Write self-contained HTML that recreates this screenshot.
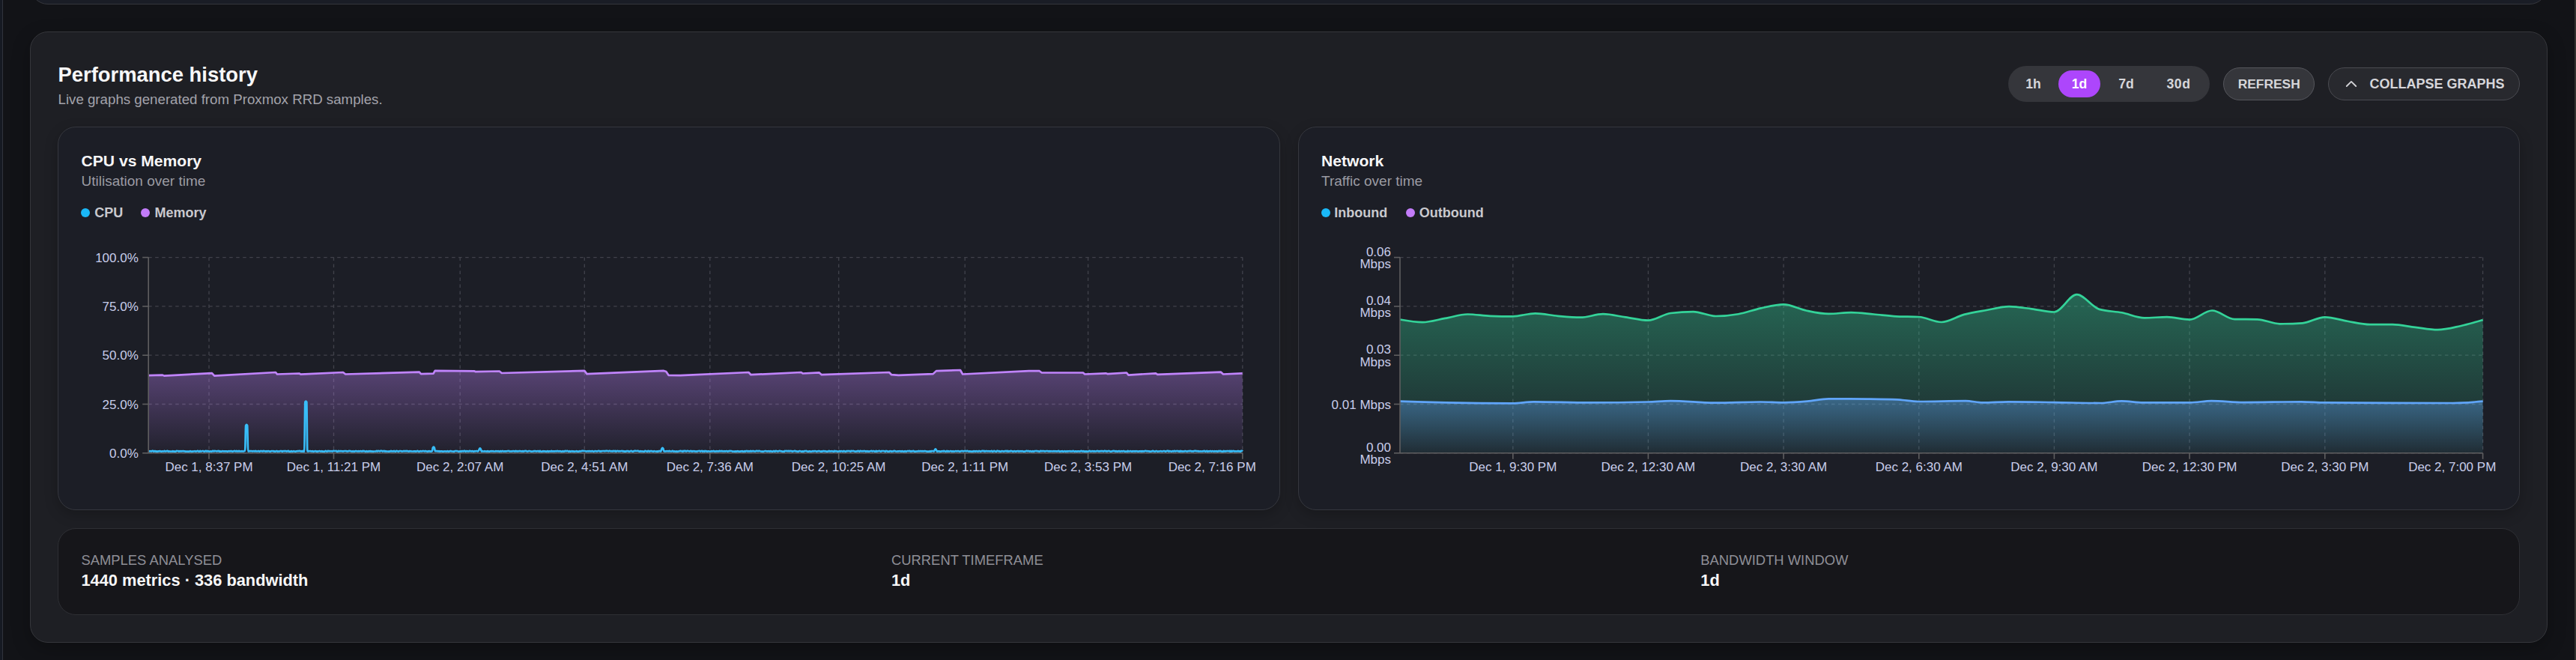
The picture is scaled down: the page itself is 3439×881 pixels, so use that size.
<!DOCTYPE html><html><head><meta charset="utf-8"><style>
html,body{margin:0;padding:0;}
body{width:3439px;height:881px;overflow:hidden;position:relative;background:#121317;font-family:"Liberation Sans", sans-serif;}
</style></head><body>
<div style="position:absolute;left:0;top:0;width:2.9px;height:881px;background:#161a23"></div>
<div style="position:absolute;left:2.9px;top:0;width:1.3px;height:881px;background:#30333c"></div>
<div style="position:absolute;left:3436.8px;top:0;width:3px;height:881px;background:#32312f"></div>
<div style="position:absolute;left:40.00px;top:-60.00px;width:3361.00px;height:66.20px;box-sizing:border-box;background:#1a1d26;border:1.5px solid #35363c;border-radius:24px;"></div>
<div style="position:absolute;left:40.00px;top:41.80px;width:3361.00px;height:815.80px;box-sizing:border-box;background:#1e1f24;border:1.5px solid #35363b;border-radius:24px;box-shadow:0 8px 24px rgba(0,0,0,0.25);"></div>
<div style="position:absolute;left:77.50px;top:86.21px;font-size:27.4px;line-height:1;font-weight:700;color:#f7f7f8;white-space:pre;">Performance history</div>
<div style="position:absolute;left:77.50px;top:124.27px;font-size:18.7px;line-height:1;font-weight:400;color:#a3a3ab;white-space:pre;">Live graphs generated from Proxmox RRD samples.</div>
<div style="position:absolute;left:2681.00px;top:88.00px;width:269.00px;height:48.00px;box-sizing:border-box;background:#35363b;border:0px solid #35363b;border-radius:24px;"></div>
<div style="position:absolute;left:2747.70px;top:93.80px;width:56.30px;height:36.10px;box-sizing:border-box;background:#ad46fc;border:0px solid #ad46fc;border-radius:18px;"></div>
<div style="position:absolute;left:2714.50px;transform:translateX(-50%);top:104.20px;font-size:17.6px;line-height:1;font-weight:700;color:#d6d6da;white-space:pre;">1h</div>
<div style="position:absolute;left:2776.00px;transform:translateX(-50%);top:104.20px;font-size:17.6px;line-height:1;font-weight:700;color:#ffffff;white-space:pre;">1d</div>
<div style="position:absolute;left:2838.50px;transform:translateX(-50%);top:104.20px;font-size:17.6px;line-height:1;font-weight:700;color:#d6d6da;white-space:pre;">7d</div>
<div style="position:absolute;left:2908.50px;transform:translateX(-50%);top:104.20px;font-size:17.6px;line-height:1;font-weight:700;color:#d6d6da;white-space:pre;letter-spacing:0.6px;">30d</div>
<div style="position:absolute;left:2967.80px;top:90.10px;width:122.20px;height:43.70px;box-sizing:border-box;background:#35363b;border:1.5px solid #55565c;border-radius:22px;"></div>
<div style="position:absolute;left:3029.20px;transform:translateX(-50%);top:103.87px;font-size:17.4px;line-height:1;font-weight:700;color:#d6d6da;white-space:pre;">REFRESH</div>
<div style="position:absolute;left:3108.00px;top:90.10px;width:256.00px;height:43.70px;box-sizing:border-box;background:#28292e;border:1.5px solid #4a4b51;border-radius:22px;"></div>
<svg style="position:absolute;left:0;top:0" width="3439" height="881"><path d="M3132.8,115.0 L3139,108.9 L3145.2,115.0" fill="none" stroke="#d2d2d6" stroke-width="1.9" stroke-linecap="round" stroke-linejoin="round"/></svg>
<div style="position:absolute;left:3163.50px;top:103.06px;font-size:18.0px;line-height:1;font-weight:700;color:#d6d6da;white-space:pre;">COLLAPSE GRAPHS</div>
<div style="position:absolute;left:77.20px;top:168.80px;width:1631.70px;height:512.30px;box-sizing:border-box;background:#1c1e26;border:1.5px solid #35373e;border-radius:24px;box-shadow:0 6px 18px rgba(0,0,0,0.22);"></div>
<div style="position:absolute;left:1733.20px;top:168.80px;width:1631.20px;height:512.30px;box-sizing:border-box;background:#1c1e26;border:1.5px solid #35373e;border-radius:24px;box-shadow:0 6px 18px rgba(0,0,0,0.22);"></div>
<div style="position:absolute;left:108.50px;top:204.14px;font-size:21.1px;line-height:1;font-weight:700;color:#f7f7f8;white-space:pre;">CPU vs Memory</div>
<div style="position:absolute;left:108.50px;top:232.12px;font-size:19.0px;line-height:1;font-weight:400;color:#9b9ba3;white-space:pre;">Utilisation over time</div>
<div style="position:absolute;left:107.85px;top:277.95px;width:12.3px;height:12.3px;border-radius:50%;background:#1ab8f7"></div>
<div style="position:absolute;left:126.30px;top:275.46px;font-size:18.0px;line-height:1;font-weight:700;color:#c9c9ce;white-space:pre;">CPU</div>
<div style="position:absolute;left:187.85px;top:277.95px;width:12.3px;height:12.3px;border-radius:50%;background:#c27cf9"></div>
<div style="position:absolute;left:206.50px;top:275.46px;font-size:18.0px;line-height:1;font-weight:700;color:#c9c9ce;white-space:pre;">Memory</div>
<div style="position:absolute;left:1764.00px;top:204.14px;font-size:21.1px;line-height:1;font-weight:700;color:#f7f7f8;white-space:pre;">Network</div>
<div style="position:absolute;left:1764.00px;top:232.12px;font-size:19.0px;line-height:1;font-weight:400;color:#9b9ba3;white-space:pre;">Traffic over time</div>
<div style="position:absolute;left:1763.85px;top:277.95px;width:12.3px;height:12.3px;border-radius:50%;background:#1ab8f7"></div>
<div style="position:absolute;left:1781.30px;top:275.46px;font-size:18.0px;line-height:1;font-weight:700;color:#c9c9ce;white-space:pre;">Inbound</div>
<div style="position:absolute;left:1876.55px;top:277.95px;width:12.3px;height:12.3px;border-radius:50%;background:#c27cf9"></div>
<div style="position:absolute;left:1894.80px;top:275.46px;font-size:18.0px;line-height:1;font-weight:700;color:#c9c9ce;white-space:pre;">Outbound</div>
<svg style="position:absolute;left:0;top:0" width="3439" height="881" font-family='"Liberation Sans", sans-serif'>
<defs>
<linearGradient id="gMem" x1="0" y1="0" x2="0" y2="1"><stop offset="0" stop-color="#c084fc" stop-opacity="0.36"/><stop offset="1" stop-color="#c084fc" stop-opacity="0.03"/></linearGradient>
<linearGradient id="gCpu" x1="0" y1="0" x2="0" y2="1"><stop offset="0" stop-color="#38bdf8" stop-opacity="0.3"/><stop offset="1" stop-color="#38bdf8" stop-opacity="0.02"/></linearGradient>
<linearGradient id="gOut" x1="0" y1="0" x2="0" y2="1"><stop offset="0" stop-color="#34d399" stop-opacity="0.40"/><stop offset="1" stop-color="#34d399" stop-opacity="0.05"/></linearGradient>
<linearGradient id="gIn" x1="0" y1="0" x2="0" y2="1"><stop offset="0" stop-color="#60a5fa" stop-opacity="0.40"/><stop offset="1" stop-color="#60a5fa" stop-opacity="0.04"/></linearGradient>
</defs>
<line x1="198.2" y1="604.80" x2="1659.0" y2="604.80" stroke="#41424b" stroke-width="1.33" stroke-dasharray="4.5 4.5"/>
<line x1="198.2" y1="539.50" x2="1659.0" y2="539.50" stroke="#41424b" stroke-width="1.33" stroke-dasharray="4.5 4.5"/>
<line x1="198.2" y1="474.20" x2="1659.0" y2="474.20" stroke="#41424b" stroke-width="1.33" stroke-dasharray="4.5 4.5"/>
<line x1="198.2" y1="408.90" x2="1659.0" y2="408.90" stroke="#41424b" stroke-width="1.33" stroke-dasharray="4.5 4.5"/>
<line x1="198.2" y1="343.60" x2="1659.0" y2="343.60" stroke="#41424b" stroke-width="1.33" stroke-dasharray="4.5 4.5"/>
<line x1="279.00" y1="343.6" x2="279.00" y2="604.8" stroke="#41424b" stroke-width="1.33" stroke-dasharray="4.5 4.5"/>
<line x1="445.50" y1="343.6" x2="445.50" y2="604.8" stroke="#41424b" stroke-width="1.33" stroke-dasharray="4.5 4.5"/>
<line x1="614.20" y1="343.6" x2="614.20" y2="604.8" stroke="#41424b" stroke-width="1.33" stroke-dasharray="4.5 4.5"/>
<line x1="780.30" y1="343.6" x2="780.30" y2="604.8" stroke="#41424b" stroke-width="1.33" stroke-dasharray="4.5 4.5"/>
<line x1="947.80" y1="343.6" x2="947.80" y2="604.8" stroke="#41424b" stroke-width="1.33" stroke-dasharray="4.5 4.5"/>
<line x1="1119.70" y1="343.6" x2="1119.70" y2="604.8" stroke="#41424b" stroke-width="1.33" stroke-dasharray="4.5 4.5"/>
<line x1="1288.20" y1="343.6" x2="1288.20" y2="604.8" stroke="#41424b" stroke-width="1.33" stroke-dasharray="4.5 4.5"/>
<line x1="1452.60" y1="343.6" x2="1452.60" y2="604.8" stroke="#41424b" stroke-width="1.33" stroke-dasharray="4.5 4.5"/>
<line x1="1658.80" y1="343.6" x2="1658.80" y2="604.8" stroke="#41424b" stroke-width="1.33" stroke-dasharray="4.5 4.5"/>
<path d="M198.20,501.20 L217.00,500.60 L219.10,501.60 L283.00,498.10 L286.20,501.60 L368.00,497.00 L370.00,499.50 L399.40,498.50 L401.50,499.70 L458.00,497.00 L461.20,499.50 L559.80,496.60 L562.00,499.10 L578.60,498.70 L580.70,494.90 L633.00,495.30 L635.00,496.20 L666.70,495.50 L669.80,498.00 L780.30,494.90 L783.50,499.10 L886.20,494.90 L889.30,496.00 L892.50,500.80 L908.20,501.20 L999.40,497.00 L1002.50,500.20 L1069.60,497.00 L1071.70,498.50 L1093.70,497.40 L1096.90,500.20 L1187.00,497.00 L1190.20,500.20 L1199.60,500.80 L1245.70,499.10 L1249.90,495.10 L1282.00,494.00 L1285.20,499.50 L1373.70,495.20 L1387.70,495.20 L1390.80,497.50 L1445.90,497.50 L1448.20,499.50 L1476.20,498.30 L1478.50,499.10 L1504.00,497.50 L1506.50,500.60 L1543.00,498.30 L1545.30,499.80 L1630.00,496.70 L1633.00,499.50 L1658.60,498.30 L1659.0,604.8 L198.2,604.8 Z" fill="url(#gMem)"/>
<path d="M198.20,501.20 L217.00,500.60 L219.10,501.60 L283.00,498.10 L286.20,501.60 L368.00,497.00 L370.00,499.50 L399.40,498.50 L401.50,499.70 L458.00,497.00 L461.20,499.50 L559.80,496.60 L562.00,499.10 L578.60,498.70 L580.70,494.90 L633.00,495.30 L635.00,496.20 L666.70,495.50 L669.80,498.00 L780.30,494.90 L783.50,499.10 L886.20,494.90 L889.30,496.00 L892.50,500.80 L908.20,501.20 L999.40,497.00 L1002.50,500.20 L1069.60,497.00 L1071.70,498.50 L1093.70,497.40 L1096.90,500.20 L1187.00,497.00 L1190.20,500.20 L1199.60,500.80 L1245.70,499.10 L1249.90,495.10 L1282.00,494.00 L1285.20,499.50 L1373.70,495.20 L1387.70,495.20 L1390.80,497.50 L1445.90,497.50 L1448.20,499.50 L1476.20,498.30 L1478.50,499.10 L1504.00,497.50 L1506.50,500.60 L1543.00,498.30 L1545.30,499.80 L1630.00,496.70 L1633.00,499.50 L1658.60,498.30" fill="none" stroke="#c084fc" stroke-width="2.67" stroke-linejoin="round"/>
<path d="M198.2,602.1 C198.5,602.2 198.9,602.3 199.2,602.3 C199.6,602.3 199.9,602.2 200.2,602.2 C200.6,602.2 200.9,602.4 201.2,602.4 C201.6,602.4 201.9,602.4 202.3,602.4 C202.6,602.4 202.9,601.9 203.3,601.9 C203.6,601.9 204.0,601.9 204.3,601.9 C204.6,601.9 205.0,602.6 205.3,602.6 C205.6,602.6 206.0,602.1 206.3,602.1 C206.7,602.1 207.0,602.1 207.3,602.1 C207.7,602.1 208.0,602.7 208.4,602.7 C208.7,602.7 209.0,602.3 209.4,602.3 C209.7,602.3 210.0,602.6 210.4,602.6 C210.7,602.6 211.1,602.3 211.4,602.3 C211.7,602.3 212.1,602.4 212.4,602.4 C212.8,602.4 213.1,602.0 213.4,602.0 C213.8,602.0 214.1,602.3 214.4,602.4 C214.8,602.5 215.1,602.6 215.5,602.6 C215.8,602.6 216.1,602.3 216.5,602.3 C216.8,602.3 217.1,602.5 217.5,602.5 C217.8,602.5 218.2,602.5 218.5,602.5 C218.8,602.4 219.2,601.9 219.5,601.9 C219.9,601.9 220.2,602.5 220.5,602.5 C220.9,602.5 221.2,602.5 221.5,602.4 C221.9,602.3 222.2,602.2 222.6,602.1 C222.9,602.0 223.2,601.9 223.6,601.9 C223.9,601.9 224.3,602.6 224.6,602.6 C224.9,602.6 225.3,602.3 225.6,602.3 C225.9,602.3 226.3,602.4 226.6,602.5 C227.0,602.6 227.3,602.6 227.6,602.6 C228.0,602.6 228.3,602.5 228.7,602.5 C229.0,602.5 229.3,602.7 229.7,602.7 C230.0,602.7 230.3,602.2 230.7,602.2 C231.0,602.2 231.4,602.6 231.7,602.6 C232.0,602.6 232.4,602.3 232.7,602.3 C233.1,602.3 233.4,602.7 233.7,602.7 C234.1,602.7 234.4,602.7 234.7,602.6 C235.1,602.6 235.4,601.9 235.8,601.9 C236.1,601.9 236.4,602.0 236.8,602.0 C237.1,602.0 237.5,602.0 237.8,602.0 C238.1,602.1 238.5,602.7 238.8,602.7 C239.1,602.7 239.5,602.2 239.8,602.2 C240.2,602.2 240.5,602.4 240.8,602.4 C241.2,602.4 241.5,602.1 241.9,602.1 C242.2,602.1 242.5,602.3 242.9,602.3 C243.2,602.3 243.5,602.2 243.9,602.2 C244.2,602.2 244.6,602.2 244.9,602.2 C245.2,602.2 245.6,602.4 245.9,602.4 C246.3,602.4 246.6,602.4 246.9,602.4 C247.3,602.4 247.6,602.7 247.9,602.7 C248.3,602.7 248.6,602.5 249.0,602.5 C249.3,602.5 249.6,602.7 250.0,602.7 C250.3,602.7 250.6,602.6 251.0,602.6 C251.3,602.6 251.7,602.7 252.0,602.7 C252.3,602.7 252.7,602.6 253.0,602.5 C253.4,602.3 253.7,602.0 254.0,602.0 C254.4,602.0 254.7,602.6 255.0,602.6 C255.4,602.7 255.7,602.7 256.1,602.7 C256.4,602.7 256.7,602.7 257.1,602.7 C257.4,602.6 257.8,602.4 258.1,602.4 C258.4,602.4 258.8,602.5 259.1,602.5 C259.4,602.5 259.8,602.0 260.1,602.0 C260.5,602.0 260.8,602.6 261.1,602.6 C261.5,602.6 261.8,602.4 262.2,602.4 C262.5,602.3 262.8,602.2 263.2,602.1 C263.5,602.0 263.8,601.9 264.2,601.9 C264.5,601.9 264.9,602.5 265.2,602.6 C265.5,602.7 265.9,602.7 266.2,602.7 C266.6,602.7 266.9,601.9 267.2,601.9 C267.6,601.9 267.9,602.6 268.2,602.6 C268.6,602.6 268.9,602.3 269.3,602.2 C269.6,602.1 269.9,602.0 270.3,602.0 C270.6,602.0 271.0,602.0 271.3,602.1 C271.6,602.2 272.0,602.5 272.3,602.5 C272.6,602.6 273.0,602.6 273.3,602.6 C273.7,602.6 274.0,601.9 274.3,601.9 C274.7,601.9 275.0,602.4 275.4,602.4 C275.7,602.4 276.0,601.9 276.4,601.9 C276.7,601.9 277.0,602.5 277.4,602.5 C277.7,602.5 278.1,602.1 278.4,602.1 C278.7,602.1 279.1,602.6 279.4,602.6 C279.8,602.7 280.1,602.7 280.4,602.7 C280.8,602.7 281.1,602.3 281.4,602.3 C281.8,602.3 282.1,602.7 282.5,602.7 C282.8,602.7 283.1,602.3 283.5,602.1 C283.8,602.0 284.1,601.9 284.5,601.9 C284.8,601.9 285.2,602.4 285.5,602.4 C285.8,602.4 286.2,601.9 286.5,601.9 C286.9,601.9 287.2,602.0 287.5,602.0 C287.9,602.1 288.2,602.2 288.5,602.2 C288.9,602.3 289.2,602.4 289.6,602.4 C289.9,602.4 290.2,602.1 290.6,602.0 C290.9,601.9 291.3,601.9 291.6,601.9 C291.9,601.9 292.3,602.6 292.6,602.6 C292.9,602.6 293.3,602.1 293.6,602.1 C294.0,602.1 294.3,602.7 294.6,602.7 C295.0,602.7 295.3,602.7 295.7,602.7 C296.0,602.6 296.3,602.2 296.7,602.2 C297.0,602.2 297.3,602.2 297.7,602.3 C298.0,602.3 298.4,602.3 298.7,602.3 C299.0,602.3 299.4,602.4 299.7,602.4 C300.1,602.4 300.4,602.4 300.7,602.4 C301.1,602.4 301.4,602.4 301.7,602.4 C302.1,602.4 302.4,602.4 302.8,602.4 C303.1,602.4 303.4,602.7 303.8,602.7 C304.1,602.7 304.5,602.4 304.8,602.3 C305.1,602.3 305.5,602.2 305.8,602.2 C306.1,602.2 306.5,602.5 306.8,602.5 C307.2,602.5 307.5,602.1 307.8,602.1 C308.2,602.1 308.5,602.1 308.9,602.1 C309.2,602.2 309.5,602.7 309.9,602.7 C310.2,602.7 310.5,602.3 310.9,602.3 C311.2,602.3 311.6,602.3 311.9,602.3 C312.2,602.3 312.6,601.9 312.9,601.9 C313.3,601.9 313.6,602.1 313.9,602.2 C314.3,602.3 314.6,602.4 314.9,602.4 C315.3,602.4 315.6,601.9 316.0,601.9 C316.3,601.9 316.6,602.4 317.0,602.4 C317.3,602.4 317.6,602.4 318.0,602.4 C318.3,602.4 318.7,601.9 319.0,601.9 C319.3,601.9 319.7,602.4 320.0,602.4 C320.4,602.4 320.7,602.3 321.0,602.3 C321.4,602.3 321.7,602.5 322.0,602.5 C322.4,602.5 322.7,602.2 323.1,602.2 C323.4,602.2 323.7,602.5 324.1,602.5 C324.4,602.5 324.8,602.5 325.1,602.5 C325.4,602.5 325.8,601.9 326.1,601.9 C326.4,601.9 326.8,601.9 327.1,601.9 C327.5,601.9 327.8,568.8 328.1,568.0 C328.5,567.2 328.8,566.8 329.2,566.8 C329.5,566.8 329.8,567.2 330.2,568.0 C330.5,568.8 330.8,602.2 331.2,602.3 C331.5,602.3 331.9,602.4 332.2,602.4 C332.5,602.4 332.9,602.1 333.2,602.1 C333.6,602.1 333.9,602.2 334.2,602.2 C334.6,602.2 334.9,602.1 335.2,602.1 C335.6,602.1 335.9,602.1 336.3,602.2 C336.6,602.2 336.9,602.4 337.3,602.4 C337.6,602.4 338.0,602.1 338.3,602.1 C338.6,602.1 339.0,602.1 339.3,602.2 C339.6,602.2 340.0,602.5 340.3,602.5 C340.7,602.5 341.0,601.9 341.3,601.9 C341.7,601.9 342.0,602.3 342.4,602.4 C342.7,602.5 343.0,602.5 343.4,602.5 C343.7,602.5 344.0,602.2 344.4,602.1 C344.7,602.1 345.1,602.1 345.4,602.1 C345.7,602.1 346.1,602.6 346.4,602.6 C346.8,602.6 347.1,602.1 347.4,602.1 C347.8,602.0 348.1,602.0 348.4,602.0 C348.8,602.0 349.1,602.2 349.5,602.2 C349.8,602.3 350.1,602.5 350.5,602.5 C350.8,602.5 351.1,601.9 351.5,601.9 C351.8,601.9 352.2,602.1 352.5,602.1 C352.8,602.1 353.2,602.1 353.5,602.2 C353.9,602.2 354.2,602.6 354.5,602.6 C354.9,602.6 355.2,602.2 355.5,602.2 C355.9,602.2 356.2,602.6 356.6,602.6 C356.9,602.6 357.2,602.0 357.6,602.0 C357.9,602.0 358.3,602.1 358.6,602.2 C358.9,602.2 359.3,602.4 359.6,602.4 C359.9,602.5 360.3,602.6 360.6,602.6 C361.0,602.6 361.3,602.4 361.6,602.3 C362.0,602.2 362.3,602.1 362.7,602.1 C363.0,602.0 363.3,602.0 363.7,602.0 C364.0,602.0 364.3,602.3 364.7,602.3 C365.0,602.3 365.4,602.0 365.7,602.0 C366.0,602.0 366.4,602.6 366.7,602.6 C367.1,602.6 367.4,602.6 367.7,602.6 C368.1,602.6 368.4,602.0 368.7,602.0 C369.1,602.0 369.4,602.0 369.8,602.1 C370.1,602.2 370.4,602.6 370.8,602.6 C371.1,602.6 371.5,602.4 371.8,602.4 C372.1,602.4 372.5,602.6 372.8,602.6 C373.1,602.6 373.5,602.3 373.8,602.2 C374.2,602.1 374.5,602.0 374.8,602.0 C375.2,602.0 375.5,602.0 375.9,602.1 C376.2,602.2 376.5,602.6 376.9,602.6 C377.2,602.6 377.5,602.1 377.9,602.1 C378.2,602.1 378.6,602.1 378.9,602.2 C379.2,602.2 379.6,602.2 379.9,602.2 C380.3,602.2 380.6,602.2 380.9,602.2 C381.3,602.2 381.6,602.2 381.9,602.2 C382.3,602.2 382.6,602.7 383.0,602.7 C383.3,602.7 383.6,602.1 384.0,602.0 C384.3,601.9 384.6,601.9 385.0,601.9 C385.3,601.9 385.7,602.7 386.0,602.7 C386.3,602.7 386.7,602.6 387.0,602.6 C387.4,602.6 387.7,602.7 388.0,602.7 C388.4,602.7 388.7,602.2 389.0,602.2 C389.4,602.2 389.7,602.7 390.1,602.7 C390.4,602.7 390.7,602.7 391.1,602.7 C391.4,602.7 391.8,602.0 392.1,602.0 C392.4,602.0 392.8,602.5 393.1,602.5 C393.4,602.6 393.8,602.6 394.1,602.6 C394.5,602.6 394.8,602.5 395.1,602.4 C395.5,602.4 395.8,602.4 396.2,602.3 C396.5,602.3 396.8,602.1 397.2,602.1 C397.5,602.1 397.8,602.2 398.2,602.2 C398.5,602.2 398.9,602.1 399.2,602.1 C399.5,602.0 399.9,601.9 400.2,601.9 C400.6,601.9 400.9,602.4 401.2,602.4 C401.6,602.4 401.9,602.1 402.2,602.1 C402.6,602.1 402.9,602.6 403.3,602.6 C403.6,602.6 403.9,601.9 404.3,601.9 C404.6,601.9 405.0,602.7 405.3,602.7 C405.6,602.7 406.0,602.6 406.3,602.5 C406.6,602.3 407.0,537.5 407.3,536.7 C407.7,535.9 408.0,535.5 408.3,535.5 C408.7,535.5 409.0,535.9 409.4,536.7 C409.7,537.5 410.0,602.4 410.4,602.4 C410.7,602.4 411.0,601.9 411.4,601.9 C411.7,601.9 412.1,602.5 412.4,602.5 C412.7,602.5 413.1,602.0 413.4,602.0 C413.8,602.0 414.1,602.0 414.4,602.1 C414.8,602.2 415.1,602.4 415.4,602.4 C415.8,602.4 416.1,602.4 416.5,602.3 C416.8,602.3 417.1,602.2 417.5,602.2 C417.8,602.2 418.1,602.7 418.5,602.7 C418.8,602.7 419.2,602.5 419.5,602.4 C419.8,602.3 420.2,602.2 420.5,602.2 C420.9,602.1 421.2,602.1 421.5,602.1 C421.9,602.1 422.2,602.6 422.5,602.6 C422.9,602.6 423.2,602.3 423.6,602.3 C423.9,602.3 424.2,602.6 424.6,602.6 C424.9,602.6 425.3,602.3 425.6,602.2 C425.9,602.1 426.3,602.0 426.6,602.0 C426.9,602.0 427.3,602.2 427.6,602.3 C428.0,602.4 428.3,602.6 428.6,602.6 C429.0,602.6 429.3,602.0 429.7,602.0 C430.0,602.0 430.3,602.5 430.7,602.6 C431.0,602.6 431.3,602.7 431.7,602.7 C432.0,602.7 432.4,602.6 432.7,602.6 C433.0,602.6 433.4,602.6 433.7,602.6 C434.1,602.6 434.4,601.9 434.7,601.9 C435.1,601.9 435.4,602.3 435.7,602.4 C436.1,602.5 436.4,602.6 436.8,602.6 C437.1,602.6 437.4,601.9 437.8,601.9 C438.1,601.9 438.5,602.1 438.8,602.1 C439.1,602.1 439.5,602.1 439.8,602.1 C440.1,602.1 440.5,602.3 440.8,602.3 C441.2,602.3 441.5,602.2 441.8,602.2 C442.2,602.2 442.5,602.2 442.9,602.3 C443.2,602.3 443.5,602.5 443.9,602.5 C444.2,602.5 444.5,601.9 444.9,601.9 C445.2,601.9 445.6,601.9 445.9,601.9 C446.2,601.9 446.6,602.0 446.9,602.0 C447.2,602.0 447.6,602.0 447.9,602.0 C448.3,602.0 448.6,601.9 448.9,601.9 C449.3,601.9 449.6,602.7 450.0,602.7 C450.3,602.7 450.6,602.7 451.0,602.6 C451.3,602.5 451.6,601.9 452.0,601.9 C452.3,601.9 452.7,602.3 453.0,602.3 C453.3,602.3 453.7,602.1 454.0,602.1 C454.4,602.1 454.7,602.1 455.0,602.1 C455.4,602.1 455.7,602.1 456.0,602.2 C456.4,602.2 456.7,602.4 457.1,602.4 C457.4,602.4 457.7,602.4 458.1,602.4 C458.4,602.3 458.8,602.2 459.1,602.2 C459.4,602.1 459.8,602.0 460.1,602.0 C460.4,602.0 460.8,602.1 461.1,602.1 C461.5,602.1 461.8,602.0 462.1,602.0 C462.5,602.0 462.8,602.3 463.2,602.3 C463.5,602.4 463.8,602.5 464.2,602.5 C464.5,602.5 464.8,602.3 465.2,602.2 C465.5,602.1 465.9,601.9 466.2,601.9 C466.5,601.9 466.9,602.0 467.2,602.0 C467.6,602.1 467.9,602.1 468.2,602.2 C468.6,602.2 468.9,602.3 469.2,602.4 C469.6,602.5 469.9,602.6 470.3,602.6 C470.6,602.6 470.9,602.2 471.3,602.2 C471.6,602.2 472.0,602.6 472.3,602.6 C472.6,602.6 473.0,602.5 473.3,602.4 C473.6,602.4 474.0,602.3 474.3,602.2 C474.7,602.2 475.0,602.2 475.3,602.2 C475.7,602.2 476.0,602.2 476.4,602.3 C476.7,602.3 477.0,602.5 477.4,602.5 C477.7,602.5 478.0,602.2 478.4,602.2 C478.7,602.2 479.1,602.5 479.4,602.5 C479.7,602.5 480.1,602.3 480.4,602.3 C480.7,602.2 481.1,602.1 481.4,602.1 C481.8,602.1 482.1,602.3 482.4,602.3 C482.8,602.4 483.1,602.5 483.5,602.5 C483.8,602.5 484.1,601.9 484.5,601.9 C484.8,601.9 485.1,602.2 485.5,602.2 C485.8,602.2 486.2,602.2 486.5,602.2 C486.8,602.2 487.2,602.6 487.5,602.6 C487.9,602.7 488.2,602.7 488.5,602.7 C488.9,602.7 489.2,602.2 489.5,602.2 C489.9,602.2 490.2,602.7 490.6,602.7 C490.9,602.7 491.2,602.6 491.6,602.6 C491.9,602.5 492.3,602.1 492.6,602.1 C492.9,602.1 493.3,602.3 493.6,602.3 C493.9,602.3 494.3,602.0 494.6,602.0 C495.0,602.0 495.3,602.6 495.6,602.6 C496.0,602.6 496.3,602.4 496.7,602.4 C497.0,602.4 497.3,602.6 497.7,602.6 C498.0,602.6 498.3,602.6 498.7,602.6 C499.0,602.5 499.4,602.5 499.7,602.5 C500.0,602.5 500.4,602.5 500.7,602.5 C501.1,602.5 501.4,602.5 501.7,602.4 C502.1,602.3 502.4,601.9 502.7,601.9 C503.1,601.9 503.4,602.4 503.8,602.4 C504.1,602.4 504.4,601.9 504.8,601.9 C505.1,601.9 505.5,601.9 505.8,602.0 C506.1,602.1 506.5,602.5 506.8,602.5 C507.1,602.5 507.5,601.9 507.8,601.9 C508.2,601.9 508.5,601.9 508.8,601.9 C509.2,601.9 509.5,601.9 509.9,601.9 C510.2,601.9 510.5,602.6 510.9,602.6 C511.2,602.6 511.5,602.1 511.9,602.0 C512.2,601.9 512.6,601.9 512.9,601.9 C513.2,601.9 513.6,602.6 513.9,602.6 C514.2,602.6 514.6,602.0 514.9,602.0 C515.3,602.0 515.6,602.6 515.9,602.6 C516.3,602.6 516.6,602.5 517.0,602.5 C517.3,602.5 517.6,602.6 518.0,602.6 C518.3,602.6 518.6,602.7 519.0,602.7 C519.3,602.7 519.7,602.4 520.0,602.4 C520.3,602.4 520.7,602.6 521.0,602.6 C521.4,602.6 521.7,601.9 522.0,601.9 C522.4,601.9 522.7,602.5 523.0,602.5 C523.4,602.5 523.7,602.3 524.1,602.3 C524.4,602.3 524.7,602.5 525.1,602.5 C525.4,602.5 525.8,601.9 526.1,601.9 C526.4,601.9 526.8,602.4 527.1,602.5 C527.4,602.6 527.8,602.7 528.1,602.7 C528.5,602.7 528.8,601.9 529.1,601.9 C529.5,601.9 529.8,602.1 530.2,602.1 C530.5,602.2 530.8,602.3 531.2,602.4 C531.5,602.4 531.8,602.6 532.2,602.6 C532.5,602.6 532.9,602.1 533.2,602.1 C533.5,602.0 533.9,602.0 534.2,602.0 C534.6,602.0 534.9,602.0 535.2,602.1 C535.6,602.1 535.9,602.3 536.2,602.4 C536.6,602.5 536.9,602.5 537.3,602.5 C537.6,602.5 537.9,602.2 538.3,602.2 C538.6,602.2 539.0,602.2 539.3,602.2 C539.6,602.2 540.0,602.2 540.3,602.2 C540.6,602.2 541.0,602.2 541.3,602.2 C541.7,602.2 542.0,602.2 542.3,602.2 C542.7,602.2 543.0,601.9 543.4,601.9 C543.7,601.9 544.0,602.2 544.4,602.3 C544.7,602.4 545.0,602.7 545.4,602.7 C545.7,602.7 546.1,602.2 546.4,602.2 C546.7,602.2 547.1,602.5 547.4,602.5 C547.7,602.5 548.1,602.0 548.4,602.0 C548.8,602.0 549.1,602.4 549.4,602.5 C549.8,602.5 550.1,602.5 550.5,602.5 C550.8,602.5 551.1,602.5 551.5,602.5 C551.8,602.4 552.1,602.3 552.5,602.3 C552.8,602.3 553.2,602.3 553.5,602.3 C553.8,602.3 554.2,602.4 554.5,602.4 C554.9,602.5 555.2,602.7 555.5,602.7 C555.9,602.7 556.2,602.0 556.5,602.0 C556.9,602.0 557.2,601.9 557.6,601.9 C557.9,601.9 558.2,602.4 558.6,602.5 C558.9,602.6 559.3,602.7 559.6,602.7 C559.9,602.7 560.3,602.4 560.6,602.3 C560.9,602.3 561.3,602.2 561.6,602.2 C562.0,602.2 562.3,602.5 562.6,602.5 C563.0,602.5 563.3,602.0 563.7,602.0 C564.0,602.0 564.3,602.1 564.7,602.1 C565.0,602.1 565.3,602.0 565.7,602.0 C566.0,602.0 566.4,602.4 566.7,602.4 C567.0,602.4 567.4,602.2 567.7,602.1 C568.1,602.1 568.4,602.1 568.7,602.1 C569.1,602.1 569.4,602.4 569.7,602.5 C570.1,602.6 570.4,602.7 570.8,602.7 C571.1,602.7 571.4,602.1 571.8,602.1 C572.1,602.1 572.5,602.5 572.8,602.5 C573.1,602.5 573.5,602.2 573.8,602.2 C574.1,602.2 574.5,602.6 574.8,602.6 C575.2,602.6 575.5,602.5 575.8,602.4 C576.2,602.3 576.5,602.3 576.9,602.1 C577.2,601.9 577.5,598.5 577.9,597.7 C578.2,596.9 578.5,596.5 578.9,596.5 C579.2,596.5 579.6,596.9 579.9,597.7 C580.2,598.5 580.6,602.2 580.9,602.2 C581.2,602.2 581.6,602.0 581.9,602.0 C582.3,602.0 582.6,602.2 582.9,602.2 C583.3,602.2 583.6,602.1 584.0,602.1 C584.3,602.1 584.6,602.5 585.0,602.5 C585.3,602.5 585.6,602.0 586.0,602.0 C586.3,602.0 586.7,602.7 587.0,602.7 C587.3,602.7 587.7,602.3 588.0,602.3 C588.4,602.3 588.7,602.4 589.0,602.4 C589.4,602.4 589.7,602.3 590.0,602.3 C590.4,602.3 590.7,602.6 591.1,602.6 C591.4,602.6 591.7,602.6 592.1,602.6 C592.4,602.6 592.8,602.4 593.1,602.4 C593.4,602.3 593.8,602.3 594.1,602.3 C594.4,602.3 594.8,602.4 595.1,602.5 C595.5,602.6 595.8,602.6 596.1,602.6 C596.5,602.6 596.8,602.2 597.2,602.2 C597.5,602.2 597.8,602.4 598.2,602.5 C598.5,602.6 598.8,602.7 599.2,602.7 C599.5,602.7 599.9,602.4 600.2,602.3 C600.5,602.2 600.9,602.1 601.2,602.1 C601.6,602.1 601.9,602.1 602.2,602.1 C602.6,602.1 602.9,602.5 603.2,602.5 C603.6,602.5 603.9,602.5 604.3,602.5 C604.6,602.5 604.9,602.7 605.3,602.7 C605.6,602.7 606.0,602.7 606.3,602.6 C606.6,602.6 607.0,602.1 607.3,602.1 C607.6,602.0 608.0,602.0 608.3,602.0 C608.7,602.0 609.0,602.1 609.3,602.1 C609.7,602.1 610.0,602.0 610.4,602.0 C610.7,602.0 611.0,602.4 611.4,602.5 C611.7,602.6 612.0,602.6 612.4,602.6 C612.7,602.6 613.1,602.7 613.4,602.7 C613.7,602.7 614.1,602.1 614.4,602.1 C614.7,602.1 615.1,602.6 615.4,602.6 C615.8,602.6 616.1,602.1 616.4,602.1 C616.8,602.1 617.1,602.2 617.5,602.2 C617.8,602.3 618.1,602.5 618.5,602.5 C618.8,602.5 619.1,601.9 619.5,601.9 C619.8,601.9 620.2,601.9 620.5,601.9 C620.8,601.9 621.2,602.6 621.5,602.6 C621.9,602.6 622.2,602.1 622.5,602.1 C622.9,602.1 623.2,602.1 623.5,602.2 C623.9,602.2 624.2,602.3 624.6,602.4 C624.9,602.4 625.2,602.5 625.6,602.5 C625.9,602.5 626.3,601.9 626.6,601.9 C626.9,601.9 627.3,602.1 627.6,602.2 C627.9,602.2 628.3,602.2 628.6,602.2 C629.0,602.3 629.3,602.3 629.6,602.3 C630.0,602.3 630.3,602.0 630.7,602.0 C631.0,602.0 631.3,602.3 631.7,602.4 C632.0,602.5 632.3,602.7 632.7,602.7 C633.0,602.7 633.4,602.2 633.7,602.2 C634.0,602.2 634.4,602.3 634.7,602.3 C635.1,602.3 635.4,602.0 635.7,602.0 C636.1,602.0 636.4,602.0 636.7,602.1 C637.1,602.2 637.4,602.4 637.8,602.4 C638.1,602.4 638.4,602.3 638.8,602.0 C639.1,601.6 639.5,600.1 639.8,599.5 C640.1,598.9 640.5,598.3 640.8,598.3 C641.1,598.3 641.5,598.8 641.8,599.5 C642.2,600.2 642.5,602.7 642.8,602.7 C643.2,602.7 643.5,602.2 643.9,602.2 C644.2,602.2 644.5,602.5 644.9,602.5 C645.2,602.5 645.5,602.5 645.9,602.5 C646.2,602.5 646.6,602.1 646.9,602.1 C647.2,602.1 647.6,602.5 647.9,602.5 C648.2,602.5 648.6,602.4 648.9,602.4 C649.3,602.4 649.6,602.6 649.9,602.6 C650.3,602.6 650.6,602.1 651.0,602.1 C651.3,602.1 651.6,602.4 652.0,602.5 C652.3,602.6 652.6,602.7 653.0,602.7 C653.3,602.7 653.7,602.5 654.0,602.5 C654.3,602.4 654.7,602.4 655.0,602.3 C655.4,602.3 655.7,602.0 656.0,602.0 C656.4,602.0 656.7,602.3 657.0,602.3 C657.4,602.3 657.7,602.2 658.1,602.2 C658.4,602.2 658.7,602.5 659.1,602.5 C659.4,602.5 659.8,602.5 660.1,602.5 C660.4,602.4 660.8,602.4 661.1,602.4 C661.4,602.3 661.8,602.0 662.1,602.0 C662.5,602.0 662.8,602.4 663.1,602.4 C663.5,602.4 663.8,602.4 664.2,602.4 C664.5,602.4 664.8,602.0 665.2,602.0 C665.5,602.0 665.8,602.7 666.2,602.7 C666.5,602.7 666.9,602.6 667.2,602.4 C667.5,602.3 667.9,602.0 668.2,602.0 C668.6,602.0 668.9,602.7 669.2,602.7 C669.6,602.7 669.9,602.0 670.2,602.0 C670.6,602.0 670.9,602.1 671.3,602.1 C671.6,602.2 671.9,602.5 672.3,602.5 C672.6,602.5 673.0,602.4 673.3,602.4 C673.6,602.4 674.0,602.3 674.3,602.3 C674.6,602.3 675.0,602.4 675.3,602.4 C675.7,602.4 676.0,602.3 676.3,602.3 C676.7,602.2 677.0,602.2 677.4,602.1 C677.7,602.1 678.0,602.0 678.4,602.0 C678.7,602.0 679.0,601.9 679.4,601.9 C679.7,601.9 680.1,602.5 680.4,602.5 C680.7,602.5 681.1,602.5 681.4,602.5 C681.7,602.5 682.1,602.3 682.4,602.3 C682.8,602.3 683.1,602.5 683.4,602.5 C683.8,602.5 684.1,602.2 684.5,602.2 C684.8,602.1 685.1,602.1 685.5,602.1 C685.8,602.1 686.1,602.1 686.5,602.2 C686.8,602.3 687.2,602.6 687.5,602.6 C687.8,602.6 688.2,601.9 688.5,601.9 C688.9,601.9 689.2,602.3 689.5,602.3 C689.9,602.3 690.2,602.1 690.5,602.1 C690.9,602.1 691.2,602.5 691.6,602.5 C691.9,602.5 692.2,602.2 692.6,602.2 C692.9,602.2 693.3,602.1 693.6,602.1 C693.9,602.1 694.3,602.2 694.6,602.2 C694.9,602.2 695.3,602.3 695.6,602.3 C696.0,602.4 696.3,602.5 696.6,602.5 C697.0,602.5 697.3,602.2 697.7,602.2 C698.0,602.2 698.3,602.6 698.7,602.6 C699.0,602.6 699.3,602.0 699.7,602.0 C700.0,602.0 700.4,602.1 700.7,602.1 C701.0,602.1 701.4,601.9 701.7,601.9 C702.1,601.9 702.4,601.9 702.7,602.0 C703.1,602.0 703.4,602.6 703.7,602.6 C704.1,602.6 704.4,602.5 704.8,602.5 C705.1,602.5 705.4,602.0 705.8,602.0 C706.1,602.0 706.5,602.0 706.8,602.0 C707.1,602.0 707.5,602.1 707.8,602.2 C708.1,602.3 708.5,602.5 708.8,602.5 C709.2,602.6 709.5,602.6 709.8,602.6 C710.2,602.6 710.5,602.6 710.9,602.5 C711.2,602.5 711.5,602.5 711.9,602.4 C712.2,602.3 712.5,602.0 712.9,602.0 C713.2,602.0 713.6,602.2 713.9,602.2 C714.2,602.2 714.6,602.0 714.9,602.0 C715.2,602.0 715.6,602.3 715.9,602.3 C716.3,602.3 716.6,602.4 716.9,602.4 C717.3,602.4 717.6,602.0 718.0,602.0 C718.3,602.0 718.6,602.0 719.0,602.1 C719.3,602.1 719.6,602.6 720.0,602.6 C720.3,602.6 720.7,601.9 721.0,601.9 C721.3,601.9 721.7,602.5 722.0,602.6 C722.4,602.6 722.7,602.6 723.0,602.7 C723.4,602.7 723.7,602.7 724.0,602.7 C724.4,602.7 724.7,602.2 725.1,602.2 C725.4,602.2 725.7,602.3 726.1,602.3 C726.4,602.4 726.8,602.4 727.1,602.4 C727.4,602.4 727.8,602.4 728.1,602.4 C728.4,602.5 728.8,602.7 729.1,602.7 C729.5,602.7 729.8,602.6 730.1,602.5 C730.5,602.4 730.8,602.1 731.2,602.1 C731.5,602.1 731.8,602.6 732.2,602.6 C732.5,602.6 732.8,602.3 733.2,602.3 C733.5,602.3 733.9,602.4 734.2,602.4 C734.5,602.4 734.9,602.5 735.2,602.5 C735.6,602.5 735.9,601.9 736.2,601.9 C736.6,601.9 736.9,602.5 737.2,602.5 C737.6,602.5 737.9,602.5 738.3,602.4 C738.6,602.4 738.9,602.3 739.3,602.3 C739.6,602.3 740.0,602.3 740.3,602.3 C740.6,602.3 741.0,602.3 741.3,602.3 C741.6,602.2 742.0,602.0 742.3,602.0 C742.7,602.0 743.0,602.3 743.3,602.3 C743.7,602.3 744.0,601.9 744.4,601.9 C744.7,601.9 745.0,602.2 745.4,602.3 C745.7,602.4 746.0,602.4 746.4,602.4 C746.7,602.4 747.1,602.2 747.4,602.2 C747.7,602.2 748.1,602.3 748.4,602.4 C748.7,602.4 749.1,602.7 749.4,602.7 C749.8,602.7 750.1,602.7 750.4,602.7 C750.8,602.6 751.1,602.0 751.5,602.0 C751.8,602.0 752.1,602.6 752.5,602.6 C752.8,602.6 753.1,602.5 753.5,602.4 C753.8,602.3 754.2,601.9 754.5,601.9 C754.8,601.9 755.2,602.2 755.5,602.2 C755.9,602.2 756.2,602.1 756.5,602.1 C756.9,602.0 757.2,601.9 757.5,601.9 C757.9,601.9 758.2,602.2 758.6,602.3 C758.9,602.5 759.2,602.7 759.6,602.7 C759.9,602.7 760.3,602.1 760.6,602.1 C760.9,602.1 761.3,602.6 761.6,602.6 C761.9,602.6 762.3,602.6 762.6,602.5 C763.0,602.4 763.3,602.0 763.6,602.0 C764.0,602.0 764.3,602.6 764.7,602.6 C765.0,602.6 765.3,602.4 765.7,602.4 C766.0,602.4 766.3,602.7 766.7,602.7 C767.0,602.7 767.4,602.5 767.7,602.5 C768.0,602.5 768.4,602.5 768.7,602.5 C769.1,602.5 769.4,602.2 769.7,602.2 C770.1,602.2 770.4,602.5 770.7,602.6 C771.1,602.7 771.4,602.7 771.8,602.7 C772.1,602.7 772.4,602.7 772.8,602.6 C773.1,602.6 773.5,602.2 773.8,602.2 C774.1,602.2 774.5,602.5 774.8,602.5 C775.1,602.5 775.5,602.4 775.8,602.3 C776.2,602.2 776.5,602.0 776.8,601.9 C777.2,601.9 777.5,601.9 777.9,601.9 C778.2,601.9 778.5,601.9 778.9,601.9 C779.2,601.9 779.5,602.0 779.9,602.0 C780.2,602.0 780.6,602.0 780.9,602.0 C781.2,602.0 781.6,602.2 781.9,602.3 C782.2,602.4 782.6,602.5 782.9,602.5 C783.3,602.5 783.6,602.4 783.9,602.3 C784.3,602.3 784.6,602.2 785.0,602.2 C785.3,602.2 785.6,602.4 786.0,602.4 C786.3,602.4 786.6,602.1 787.0,602.1 C787.3,602.1 787.7,602.2 788.0,602.3 C788.3,602.3 788.7,602.5 789.0,602.5 C789.4,602.5 789.7,602.3 790.0,602.2 C790.4,602.1 790.7,602.0 791.0,602.0 C791.4,602.0 791.7,602.7 792.1,602.7 C792.4,602.7 792.7,602.6 793.1,602.5 C793.4,602.4 793.8,602.2 794.1,602.2 C794.4,602.2 794.8,602.2 795.1,602.2 C795.4,602.2 795.8,602.3 796.1,602.3 C796.5,602.4 796.8,602.4 797.1,602.4 C797.5,602.4 797.8,602.1 798.2,602.1 C798.5,602.0 798.8,601.9 799.2,601.9 C799.5,601.9 799.8,601.9 800.2,602.0 C800.5,602.2 800.9,602.6 801.2,602.6 C801.5,602.6 801.9,602.0 802.2,602.0 C802.6,602.0 802.9,602.3 803.2,602.3 C803.6,602.3 803.9,602.0 804.2,602.0 C804.6,602.0 804.9,602.0 805.3,602.0 C805.6,602.0 805.9,602.0 806.3,602.0 C806.6,602.0 807.0,602.2 807.3,602.2 C807.6,602.2 808.0,602.1 808.3,602.0 C808.6,601.9 809.0,601.9 809.3,601.9 C809.7,601.9 810.0,601.9 810.3,601.9 C810.7,602.0 811.0,602.0 811.4,602.0 C811.7,602.0 812.0,602.3 812.4,602.3 C812.7,602.3 813.0,601.9 813.4,601.9 C813.7,601.9 814.1,601.9 814.4,601.9 C814.7,601.9 815.1,602.3 815.4,602.3 C815.7,602.3 816.1,602.2 816.4,602.2 C816.8,602.2 817.1,602.5 817.4,602.5 C817.8,602.5 818.1,601.9 818.5,601.9 C818.8,601.9 819.1,602.2 819.5,602.2 C819.8,602.2 820.1,602.2 820.5,602.2 C820.8,602.2 821.2,601.9 821.5,601.9 C821.8,601.9 822.2,602.7 822.5,602.7 C822.9,602.7 823.2,602.1 823.5,602.0 C823.9,602.0 824.2,601.9 824.5,601.9 C824.9,601.9 825.2,602.3 825.6,602.3 C825.9,602.3 826.2,602.0 826.6,602.0 C826.9,602.0 827.3,602.4 827.6,602.4 C827.9,602.4 828.3,602.2 828.6,602.2 C828.9,602.1 829.3,602.0 829.6,602.0 C830.0,601.9 830.3,601.9 830.6,601.9 C831.0,601.9 831.3,602.5 831.7,602.5 C832.0,602.5 832.3,602.1 832.7,602.1 C833.0,602.1 833.3,602.6 833.7,602.6 C834.0,602.6 834.4,602.3 834.7,602.3 C835.0,602.3 835.4,602.7 835.7,602.7 C836.1,602.7 836.4,602.2 836.7,602.1 C837.1,602.1 837.4,602.1 837.7,602.1 C838.1,602.1 838.4,602.1 838.8,602.1 C839.1,602.1 839.4,602.6 839.8,602.6 C840.1,602.6 840.5,602.5 840.8,602.4 C841.1,602.3 841.5,602.2 841.8,602.2 C842.1,602.1 842.5,601.9 842.8,601.9 C843.2,601.9 843.5,602.3 843.8,602.5 C844.2,602.6 844.5,602.7 844.9,602.7 C845.2,602.7 845.5,602.5 845.9,602.4 C846.2,602.2 846.5,601.9 846.9,601.9 C847.2,601.9 847.6,601.9 847.9,601.9 C848.2,601.9 848.6,601.9 848.9,601.9 C849.2,602.0 849.6,602.0 849.9,602.0 C850.3,602.0 850.6,601.9 850.9,601.9 C851.3,601.9 851.6,601.9 852.0,601.9 C852.3,601.9 852.6,602.3 853.0,602.4 C853.3,602.6 853.6,602.7 854.0,602.7 C854.3,602.7 854.7,602.0 855.0,602.0 C855.3,602.0 855.7,602.7 856.0,602.7 C856.4,602.7 856.7,602.3 857.0,602.3 C857.4,602.3 857.7,602.5 858.0,602.6 C858.4,602.6 858.7,602.7 859.1,602.7 C859.4,602.7 859.7,602.7 860.1,602.7 C860.4,602.7 860.8,601.9 861.1,601.9 C861.4,601.9 861.8,602.0 862.1,602.1 C862.4,602.2 862.8,602.3 863.1,602.4 C863.5,602.5 863.8,602.7 864.1,602.7 C864.5,602.7 864.8,601.9 865.2,601.9 C865.5,601.9 865.8,602.0 866.2,602.1 C866.5,602.2 866.8,602.6 867.2,602.6 C867.5,602.6 867.9,602.0 868.2,602.0 C868.5,602.0 868.9,602.2 869.2,602.2 C869.6,602.2 869.9,602.2 870.2,602.2 C870.6,602.2 870.9,602.4 871.2,602.5 C871.6,602.6 871.9,602.7 872.3,602.7 C872.6,602.7 872.9,602.0 873.3,602.0 C873.6,602.0 874.0,602.5 874.3,602.5 C874.6,602.5 875.0,602.5 875.3,602.5 C875.6,602.5 876.0,602.6 876.3,602.6 C876.7,602.6 877.0,602.3 877.3,602.3 C877.7,602.3 878.0,602.7 878.4,602.7 C878.7,602.7 879.0,602.2 879.4,602.2 C879.7,602.2 880.0,602.2 880.4,602.2 C880.7,602.2 881.1,602.1 881.4,602.1 C881.7,602.1 882.1,602.6 882.4,602.6 C882.7,602.6 883.1,599.8 883.4,599.0 C883.8,598.2 884.1,597.8 884.4,597.8 C884.8,597.8 885.1,598.2 885.5,599.0 C885.8,599.8 886.1,602.5 886.5,602.5 C886.8,602.5 887.1,602.4 887.5,602.4 C887.8,602.4 888.2,602.5 888.5,602.5 C888.8,602.5 889.2,602.2 889.5,602.2 C889.9,602.2 890.2,602.3 890.5,602.3 C890.9,602.3 891.2,602.0 891.5,602.0 C891.9,602.0 892.2,602.5 892.6,602.5 C892.9,602.5 893.2,601.9 893.6,601.9 C893.9,601.9 894.3,602.2 894.6,602.3 C894.9,602.4 895.3,602.5 895.6,602.5 C895.9,602.5 896.3,602.5 896.6,602.5 C897.0,602.4 897.3,601.9 897.6,601.9 C898.0,601.9 898.3,602.0 898.7,602.1 C899.0,602.1 899.3,602.6 899.7,602.6 C900.0,602.6 900.3,602.4 900.7,602.4 C901.0,602.4 901.4,602.6 901.7,602.6 C902.0,602.6 902.4,602.6 902.7,602.6 C903.1,602.6 903.4,602.3 903.7,602.3 C904.1,602.3 904.4,602.7 904.7,602.7 C905.1,602.7 905.4,602.6 905.8,602.5 C906.1,602.4 906.4,602.2 906.8,602.2 C907.1,602.2 907.5,602.2 907.8,602.2 C908.1,602.2 908.5,601.9 908.8,601.9 C909.1,601.9 909.5,602.1 909.8,602.2 C910.2,602.3 910.5,602.7 910.8,602.7 C911.2,602.7 911.5,601.9 911.9,601.9 C912.2,601.9 912.5,602.4 912.9,602.4 C913.2,602.4 913.5,602.0 913.9,601.9 C914.2,601.9 914.6,601.9 914.9,601.9 C915.2,601.9 915.6,602.4 915.9,602.4 C916.2,602.4 916.6,602.2 916.9,602.1 C917.3,602.0 917.6,601.9 917.9,601.9 C918.3,601.9 918.6,601.9 919.0,602.0 C919.3,602.0 919.6,602.4 920.0,602.4 C920.3,602.4 920.6,602.4 921.0,602.4 C921.3,602.3 921.7,601.9 922.0,601.9 C922.3,601.9 922.7,601.9 923.0,602.1 C923.4,602.2 923.7,602.7 924.0,602.7 C924.4,602.7 924.7,602.0 925.0,602.0 C925.4,602.0 925.7,602.4 926.1,602.4 C926.4,602.4 926.7,602.2 927.1,602.2 C927.4,602.2 927.8,602.6 928.1,602.6 C928.4,602.6 928.8,602.4 929.1,602.4 C929.4,602.4 929.8,602.6 930.1,602.6 C930.5,602.6 930.8,602.4 931.1,602.3 C931.5,602.2 931.8,602.0 932.2,602.0 C932.5,602.0 932.8,602.0 933.2,602.0 C933.5,602.0 933.8,601.9 934.2,601.9 C934.5,601.9 934.9,602.6 935.2,602.6 C935.5,602.6 935.9,602.0 936.2,602.0 C936.6,601.9 936.9,601.9 937.2,601.9 C937.6,601.9 937.9,602.7 938.2,602.7 C938.6,602.7 938.9,602.0 939.3,602.0 C939.6,602.0 939.9,602.7 940.3,602.7 C940.6,602.7 941.0,601.9 941.3,601.9 C941.6,601.9 942.0,602.3 942.3,602.3 C942.6,602.3 943.0,602.1 943.3,602.1 C943.7,602.1 944.0,602.6 944.3,602.6 C944.7,602.6 945.0,602.4 945.3,602.4 C945.7,602.4 946.0,602.4 946.4,602.4 C946.7,602.4 947.0,602.5 947.4,602.5 C947.7,602.6 948.1,602.6 948.4,602.6 C948.7,602.6 949.1,602.2 949.4,602.2 C949.7,602.2 950.1,602.4 950.4,602.4 C950.8,602.4 951.1,602.3 951.4,602.3 C951.8,602.2 952.1,601.9 952.5,601.9 C952.8,601.9 953.1,602.6 953.5,602.6 C953.8,602.6 954.1,602.4 954.5,602.4 C954.8,602.4 955.2,602.6 955.5,602.6 C955.8,602.6 956.2,602.0 956.5,602.0 C956.9,602.0 957.2,602.3 957.5,602.3 C957.9,602.3 958.2,602.3 958.5,602.3 C958.9,602.3 959.2,602.5 959.6,602.5 C959.9,602.5 960.2,601.9 960.6,601.9 C960.9,601.9 961.3,602.1 961.6,602.2 C961.9,602.2 962.3,602.3 962.6,602.3 C962.9,602.3 963.3,601.9 963.6,601.9 C964.0,601.9 964.3,602.2 964.6,602.3 C965.0,602.4 965.3,602.5 965.7,602.5 C966.0,602.5 966.3,602.2 966.7,602.2 C967.0,602.2 967.3,602.4 967.7,602.4 C968.0,602.4 968.4,602.4 968.7,602.4 C969.0,602.4 969.4,602.0 969.7,602.0 C970.1,602.0 970.4,602.1 970.7,602.2 C971.1,602.2 971.4,602.7 971.7,602.7 C972.1,602.7 972.4,602.2 972.8,602.2 C973.1,602.2 973.4,602.2 973.8,602.2 C974.1,602.2 974.5,601.9 974.8,601.9 C975.1,601.9 975.5,602.0 975.8,602.0 C976.1,602.0 976.5,602.0 976.8,602.0 C977.2,602.0 977.5,602.7 977.8,602.7 C978.2,602.7 978.5,602.5 978.8,602.5 C979.2,602.5 979.5,602.6 979.9,602.6 C980.2,602.7 980.5,602.7 980.9,602.7 C981.2,602.7 981.6,602.4 981.9,602.4 C982.2,602.4 982.6,602.7 982.9,602.7 C983.2,602.7 983.6,602.4 983.9,602.3 C984.3,602.3 984.6,602.2 984.9,602.2 C985.3,602.2 985.6,602.7 986.0,602.7 C986.3,602.7 986.6,602.7 987.0,602.7 C987.3,602.7 987.6,602.7 988.0,602.7 C988.3,602.7 988.7,602.3 989.0,602.3 C989.3,602.3 989.7,602.5 990.0,602.5 C990.4,602.5 990.7,602.2 991.0,602.2 C991.4,602.2 991.7,602.7 992.0,602.7 C992.4,602.7 992.7,602.7 993.1,602.7 C993.4,602.6 993.7,602.1 994.1,602.1 C994.4,602.1 994.8,602.7 995.1,602.7 C995.4,602.7 995.8,602.1 996.1,602.0 C996.4,602.0 996.8,601.9 997.1,601.9 C997.5,601.9 997.8,602.5 998.1,602.5 C998.5,602.5 998.8,602.1 999.2,602.1 C999.5,602.1 999.8,602.3 1000.2,602.3 C1000.5,602.4 1000.8,602.4 1001.2,602.4 C1001.5,602.4 1001.9,601.9 1002.2,601.9 C1002.5,601.9 1002.9,602.5 1003.2,602.5 C1003.6,602.5 1003.9,602.1 1004.2,602.1 C1004.6,602.1 1004.9,602.2 1005.2,602.2 C1005.6,602.2 1005.9,602.2 1006.3,602.2 C1006.6,602.2 1006.9,602.5 1007.3,602.5 C1007.6,602.5 1008.0,602.5 1008.3,602.5 C1008.6,602.5 1009.0,602.2 1009.3,602.1 C1009.6,602.0 1010.0,601.9 1010.3,601.9 C1010.7,601.9 1011.0,602.1 1011.3,602.1 C1011.7,602.2 1012.0,602.2 1012.3,602.2 C1012.7,602.2 1013.0,601.9 1013.4,601.9 C1013.7,601.9 1014.0,601.9 1014.4,602.0 C1014.7,602.0 1015.1,602.5 1015.4,602.5 C1015.7,602.5 1016.1,602.5 1016.4,602.5 C1016.7,602.5 1017.1,602.7 1017.4,602.7 C1017.8,602.7 1018.1,602.7 1018.4,602.7 C1018.8,602.7 1019.1,602.7 1019.5,602.6 C1019.8,602.6 1020.1,602.3 1020.5,602.2 C1020.8,602.1 1021.1,602.0 1021.5,602.0 C1021.8,602.0 1022.2,602.1 1022.5,602.1 C1022.8,602.2 1023.2,602.2 1023.5,602.3 C1023.9,602.3 1024.2,602.3 1024.5,602.3 C1024.9,602.3 1025.2,602.3 1025.5,602.3 C1025.9,602.3 1026.2,602.2 1026.6,602.2 C1026.9,602.2 1027.2,602.6 1027.6,602.6 C1027.9,602.6 1028.3,602.1 1028.6,602.1 C1028.9,602.1 1029.3,602.2 1029.6,602.3 C1029.9,602.4 1030.3,602.6 1030.6,602.6 C1031.0,602.6 1031.3,602.6 1031.6,602.6 C1032.0,602.5 1032.3,602.2 1032.7,602.1 C1033.0,602.1 1033.3,602.1 1033.7,602.1 C1034.0,602.1 1034.3,602.6 1034.7,602.6 C1035.0,602.6 1035.4,601.9 1035.7,601.9 C1036.0,601.9 1036.4,601.9 1036.7,602.0 C1037.1,602.0 1037.4,602.3 1037.7,602.3 C1038.1,602.3 1038.4,602.3 1038.7,602.3 C1039.1,602.3 1039.4,602.1 1039.8,602.0 C1040.1,601.9 1040.4,601.9 1040.8,601.9 C1041.1,601.9 1041.5,601.9 1041.8,602.0 C1042.1,602.1 1042.5,602.5 1042.8,602.5 C1043.1,602.5 1043.5,602.3 1043.8,602.3 C1044.2,602.3 1044.5,602.7 1044.8,602.7 C1045.2,602.7 1045.5,602.6 1045.8,602.6 C1046.2,602.6 1046.5,602.7 1046.9,602.7 C1047.2,602.7 1047.5,601.9 1047.9,601.9 C1048.2,601.9 1048.6,602.0 1048.9,602.0 C1049.2,602.0 1049.6,601.9 1049.9,601.9 C1050.2,601.9 1050.6,602.2 1050.9,602.2 C1051.3,602.2 1051.6,602.2 1051.9,602.2 C1052.3,602.1 1052.6,601.9 1053.0,601.9 C1053.3,601.9 1053.6,602.3 1054.0,602.3 C1054.3,602.3 1054.6,601.9 1055.0,601.9 C1055.3,601.9 1055.7,602.1 1056.0,602.1 C1056.3,602.1 1056.7,602.1 1057.0,602.1 C1057.4,602.1 1057.7,602.6 1058.0,602.6 C1058.4,602.6 1058.7,602.3 1059.0,602.2 C1059.4,602.1 1059.7,602.1 1060.1,602.1 C1060.4,602.0 1060.7,601.9 1061.1,601.9 C1061.4,601.9 1061.8,602.1 1062.1,602.2 C1062.4,602.3 1062.8,602.4 1063.1,602.4 C1063.4,602.4 1063.8,602.4 1064.1,602.5 C1064.5,602.5 1064.8,602.7 1065.1,602.7 C1065.5,602.7 1065.8,602.6 1066.2,602.6 C1066.5,602.5 1066.8,602.1 1067.2,602.1 C1067.5,602.0 1067.8,602.0 1068.2,602.0 C1068.5,602.0 1068.9,602.5 1069.2,602.5 C1069.5,602.6 1069.9,602.6 1070.2,602.6 C1070.6,602.6 1070.9,602.3 1071.2,602.3 C1071.6,602.3 1071.9,602.6 1072.2,602.6 C1072.6,602.6 1072.9,602.4 1073.3,602.3 C1073.6,602.3 1073.9,602.2 1074.3,602.1 C1074.6,602.0 1075.0,602.0 1075.3,602.0 C1075.6,602.0 1076.0,601.9 1076.3,601.9 C1076.6,601.9 1077.0,602.3 1077.3,602.4 C1077.7,602.6 1078.0,602.7 1078.3,602.7 C1078.7,602.7 1079.0,602.7 1079.3,602.7 C1079.7,602.7 1080.0,602.3 1080.4,602.3 C1080.7,602.3 1081.0,602.4 1081.4,602.4 C1081.7,602.5 1082.1,602.7 1082.4,602.7 C1082.7,602.7 1083.1,602.6 1083.4,602.6 C1083.7,602.5 1084.1,602.5 1084.4,602.4 C1084.8,602.3 1085.1,602.2 1085.4,602.2 C1085.8,602.2 1086.1,602.3 1086.5,602.3 C1086.8,602.3 1087.1,602.0 1087.5,602.0 C1087.8,602.0 1088.1,602.0 1088.5,602.0 C1088.8,602.0 1089.2,602.3 1089.5,602.5 C1089.8,602.6 1090.2,602.7 1090.5,602.7 C1090.9,602.7 1091.2,602.4 1091.5,602.3 C1091.9,602.3 1092.2,602.2 1092.5,602.2 C1092.9,602.2 1093.2,602.2 1093.6,602.2 C1093.9,602.2 1094.2,602.2 1094.6,602.3 C1094.9,602.3 1095.3,602.6 1095.6,602.6 C1095.9,602.6 1096.3,602.3 1096.6,602.3 C1096.9,602.3 1097.3,602.7 1097.6,602.7 C1098.0,602.7 1098.3,602.0 1098.6,602.0 C1099.0,602.0 1099.3,602.1 1099.7,602.1 C1100.0,602.2 1100.3,602.3 1100.7,602.3 C1101.0,602.3 1101.3,602.2 1101.7,602.2 C1102.0,602.2 1102.4,602.6 1102.7,602.6 C1103.0,602.6 1103.4,602.6 1103.7,602.6 C1104.1,602.6 1104.4,602.7 1104.7,602.7 C1105.1,602.7 1105.4,602.5 1105.7,602.4 C1106.1,602.3 1106.4,601.9 1106.8,601.9 C1107.1,601.9 1107.4,602.4 1107.8,602.4 C1108.1,602.4 1108.5,602.4 1108.8,602.3 C1109.1,602.3 1109.5,602.3 1109.8,602.3 C1110.1,602.3 1110.5,602.1 1110.8,602.1 C1111.2,602.1 1111.5,602.4 1111.8,602.5 C1112.2,602.6 1112.5,602.7 1112.8,602.7 C1113.2,602.7 1113.5,601.9 1113.9,601.9 C1114.2,601.9 1114.5,602.5 1114.9,602.5 C1115.2,602.5 1115.6,602.2 1115.9,602.2 C1116.2,602.2 1116.6,602.2 1116.9,602.3 C1117.2,602.4 1117.6,602.6 1117.9,602.7 C1118.3,602.7 1118.6,602.7 1118.9,602.7 C1119.3,602.7 1119.6,602.5 1120.0,602.4 C1120.3,602.3 1120.6,602.0 1121.0,602.0 C1121.3,602.0 1121.6,602.7 1122.0,602.7 C1122.3,602.7 1122.7,602.0 1123.0,602.0 C1123.3,602.0 1123.7,602.1 1124.0,602.2 C1124.4,602.3 1124.7,602.6 1125.0,602.6 C1125.4,602.6 1125.7,602.2 1126.0,602.1 C1126.4,602.1 1126.7,602.1 1127.1,602.1 C1127.4,602.1 1127.7,602.7 1128.1,602.7 C1128.4,602.7 1128.8,602.7 1129.1,602.7 C1129.4,602.7 1129.8,602.1 1130.1,602.1 C1130.4,602.1 1130.8,602.2 1131.1,602.2 C1131.5,602.2 1131.8,602.1 1132.1,602.1 C1132.5,602.1 1132.8,602.0 1133.2,602.0 C1133.5,602.0 1133.8,602.0 1134.2,602.1 C1134.5,602.1 1134.8,602.7 1135.2,602.7 C1135.5,602.7 1135.9,601.9 1136.2,601.9 C1136.5,601.9 1136.9,602.1 1137.2,602.1 C1137.6,602.1 1137.9,602.0 1138.2,602.0 C1138.6,602.0 1138.9,601.9 1139.2,601.9 C1139.6,601.9 1139.9,602.2 1140.3,602.3 C1140.6,602.4 1140.9,602.5 1141.3,602.5 C1141.6,602.6 1142.0,602.6 1142.3,602.6 C1142.6,602.6 1143.0,602.4 1143.3,602.4 C1143.6,602.4 1144.0,602.6 1144.3,602.6 C1144.7,602.6 1145.0,601.9 1145.3,601.9 C1145.7,601.9 1146.0,602.0 1146.3,602.1 C1146.7,602.2 1147.0,602.7 1147.4,602.7 C1147.7,602.7 1148.0,601.9 1148.4,601.9 C1148.7,601.9 1149.1,602.0 1149.4,602.1 C1149.7,602.2 1150.1,602.3 1150.4,602.3 C1150.7,602.3 1151.1,602.1 1151.4,602.1 C1151.8,602.1 1152.1,602.3 1152.4,602.3 C1152.8,602.3 1153.1,601.9 1153.5,601.9 C1153.8,601.9 1154.1,601.9 1154.5,602.1 C1154.8,602.2 1155.1,602.7 1155.5,602.7 C1155.8,602.7 1156.2,602.0 1156.5,602.0 C1156.8,602.0 1157.2,602.7 1157.5,602.7 C1157.9,602.7 1158.2,602.0 1158.5,602.0 C1158.9,602.0 1159.2,602.7 1159.5,602.7 C1159.9,602.7 1160.2,602.5 1160.6,602.5 C1160.9,602.4 1161.2,602.4 1161.6,602.4 C1161.9,602.4 1162.3,602.0 1162.6,602.0 C1162.9,601.9 1163.3,601.9 1163.6,601.9 C1163.9,601.9 1164.3,602.5 1164.6,602.5 C1165.0,602.5 1165.3,602.0 1165.6,602.0 C1166.0,602.0 1166.3,602.0 1166.7,602.0 C1167.0,602.0 1167.3,602.6 1167.7,602.6 C1168.0,602.6 1168.3,602.6 1168.7,602.6 C1169.0,602.6 1169.4,601.9 1169.7,601.9 C1170.0,601.9 1170.4,602.7 1170.7,602.7 C1171.1,602.7 1171.4,602.4 1171.7,602.3 C1172.1,602.2 1172.4,602.3 1172.7,602.2 C1173.1,602.1 1173.4,601.9 1173.8,601.9 C1174.1,601.9 1174.4,602.1 1174.8,602.2 C1175.1,602.3 1175.5,602.7 1175.8,602.7 C1176.1,602.7 1176.5,602.2 1176.8,602.1 C1177.1,602.0 1177.5,602.0 1177.8,602.0 C1178.2,602.0 1178.5,602.0 1178.8,602.0 C1179.2,602.0 1179.5,602.0 1179.8,602.0 C1180.2,602.0 1180.5,602.0 1180.9,602.2 C1181.2,602.3 1181.5,602.7 1181.9,602.7 C1182.2,602.7 1182.6,601.9 1182.9,601.9 C1183.2,601.9 1183.6,602.0 1183.9,602.0 C1184.2,602.1 1184.6,602.7 1184.9,602.7 C1185.3,602.7 1185.6,602.7 1185.9,602.7 C1186.3,602.7 1186.6,602.7 1187.0,602.7 C1187.3,602.7 1187.6,602.1 1188.0,602.1 C1188.3,602.1 1188.6,602.1 1189.0,602.2 C1189.3,602.2 1189.7,602.7 1190.0,602.7 C1190.3,602.7 1190.7,602.3 1191.0,602.3 C1191.4,602.3 1191.7,602.5 1192.0,602.5 C1192.4,602.5 1192.7,602.2 1193.0,602.1 C1193.4,602.0 1193.7,601.9 1194.1,601.9 C1194.4,601.9 1194.7,602.1 1195.1,602.2 C1195.4,602.3 1195.8,602.5 1196.1,602.5 C1196.4,602.5 1196.8,602.6 1197.1,602.6 C1197.4,602.6 1197.8,602.4 1198.1,602.4 C1198.5,602.3 1198.8,602.3 1199.1,602.3 C1199.5,602.3 1199.8,602.3 1200.2,602.3 C1200.5,602.3 1200.8,602.2 1201.2,602.2 C1201.5,602.2 1201.8,602.3 1202.2,602.3 C1202.5,602.4 1202.9,602.6 1203.2,602.6 C1203.5,602.6 1203.9,602.0 1204.2,602.0 C1204.6,602.0 1204.9,602.3 1205.2,602.4 C1205.6,602.5 1205.9,602.7 1206.2,602.7 C1206.6,602.7 1206.9,602.7 1207.3,602.6 C1207.6,602.6 1207.9,602.0 1208.3,602.0 C1208.6,602.0 1209.0,602.7 1209.3,602.7 C1209.6,602.7 1210.0,602.7 1210.3,602.6 C1210.6,602.5 1211.0,602.0 1211.3,602.0 C1211.7,602.0 1212.0,602.1 1212.3,602.1 C1212.7,602.1 1213.0,602.1 1213.3,602.0 C1213.7,602.0 1214.0,601.9 1214.4,601.9 C1214.7,601.9 1215.0,602.7 1215.4,602.7 C1215.7,602.7 1216.1,602.2 1216.4,602.2 C1216.7,602.2 1217.1,602.6 1217.4,602.6 C1217.7,602.6 1218.1,602.0 1218.4,602.0 C1218.8,601.9 1219.1,601.9 1219.4,601.9 C1219.8,601.9 1220.1,602.6 1220.5,602.6 C1220.8,602.6 1221.1,602.6 1221.5,602.6 C1221.8,602.6 1222.1,602.7 1222.5,602.7 C1222.8,602.7 1223.2,602.5 1223.5,602.5 C1223.8,602.4 1224.2,602.3 1224.5,602.3 C1224.9,602.3 1225.2,602.5 1225.5,602.5 C1225.9,602.5 1226.2,601.9 1226.5,601.9 C1226.9,601.9 1227.2,602.3 1227.6,602.3 C1227.9,602.3 1228.2,602.3 1228.6,602.2 C1228.9,602.2 1229.3,602.0 1229.6,602.0 C1229.9,602.0 1230.3,602.4 1230.6,602.4 C1230.9,602.4 1231.3,602.1 1231.6,602.1 C1232.0,602.1 1232.3,602.3 1232.6,602.3 C1233.0,602.3 1233.3,602.2 1233.7,602.2 C1234.0,602.2 1234.3,602.1 1234.7,602.1 C1235.0,602.1 1235.3,602.1 1235.7,602.2 C1236.0,602.2 1236.4,602.3 1236.7,602.4 C1237.0,602.5 1237.4,602.7 1237.7,602.7 C1238.1,602.7 1238.4,602.7 1238.7,602.7 C1239.1,602.7 1239.4,602.6 1239.7,602.6 C1240.1,602.6 1240.4,602.6 1240.8,602.6 C1241.1,602.6 1241.4,602.1 1241.8,602.1 C1242.1,602.1 1242.5,602.7 1242.8,602.7 C1243.1,602.7 1243.5,602.2 1243.8,602.1 C1244.1,602.0 1244.5,602.0 1244.8,602.0 C1245.2,602.0 1245.5,602.2 1245.8,602.3 C1246.2,602.4 1246.5,602.5 1246.8,602.5 C1247.2,602.5 1247.5,601.0 1247.9,600.5 C1248.2,600.0 1248.5,599.3 1248.9,599.3 C1249.2,599.3 1249.6,599.9 1249.9,600.5 C1250.2,601.1 1250.6,602.7 1250.9,602.7 C1251.2,602.7 1251.6,602.3 1251.9,602.3 C1252.3,602.3 1252.6,602.3 1252.9,602.3 C1253.3,602.3 1253.6,602.3 1254.0,602.3 C1254.3,602.4 1254.6,602.6 1255.0,602.6 C1255.3,602.7 1255.6,602.7 1256.0,602.7 C1256.3,602.7 1256.7,602.4 1257.0,602.3 C1257.3,602.3 1257.7,602.2 1258.0,602.2 C1258.4,602.2 1258.7,602.4 1259.0,602.4 C1259.4,602.4 1259.7,601.9 1260.0,601.9 C1260.4,601.9 1260.7,602.1 1261.1,602.2 C1261.4,602.3 1261.7,602.6 1262.1,602.6 C1262.4,602.6 1262.8,602.6 1263.1,602.5 C1263.4,602.5 1263.8,601.9 1264.1,601.9 C1264.4,601.9 1264.8,602.6 1265.1,602.6 C1265.5,602.6 1265.8,602.2 1266.1,602.2 C1266.5,602.2 1266.8,602.7 1267.2,602.7 C1267.5,602.7 1267.8,602.3 1268.2,602.2 C1268.5,602.1 1268.8,602.0 1269.2,602.0 C1269.5,602.0 1269.9,602.2 1270.2,602.3 C1270.5,602.4 1270.9,602.6 1271.2,602.6 C1271.6,602.6 1271.9,602.2 1272.2,602.2 C1272.6,602.2 1272.9,602.6 1273.2,602.6 C1273.6,602.6 1273.9,602.6 1274.3,602.5 C1274.6,602.4 1274.9,602.2 1275.3,602.2 C1275.6,602.1 1276.0,602.1 1276.3,602.1 C1276.6,602.1 1277.0,602.3 1277.3,602.3 C1277.6,602.3 1278.0,602.2 1278.3,602.2 C1278.7,602.2 1279.0,602.2 1279.3,602.2 C1279.7,602.2 1280.0,602.4 1280.3,602.4 C1280.7,602.5 1281.0,602.6 1281.4,602.6 C1281.7,602.6 1282.0,602.5 1282.4,602.4 C1282.7,602.3 1283.1,602.0 1283.4,602.0 C1283.7,602.0 1284.1,602.0 1284.4,602.0 C1284.7,602.1 1285.1,602.1 1285.4,602.2 C1285.8,602.2 1286.1,602.4 1286.4,602.4 C1286.8,602.4 1287.1,602.0 1287.5,602.0 C1287.8,601.9 1288.1,601.9 1288.5,601.9 C1288.8,601.9 1289.1,602.1 1289.5,602.1 C1289.8,602.1 1290.2,602.1 1290.5,602.1 C1290.8,602.1 1291.2,601.9 1291.5,601.9 C1291.9,601.9 1292.2,602.2 1292.5,602.3 C1292.9,602.5 1293.2,602.7 1293.5,602.7 C1293.9,602.7 1294.2,602.3 1294.6,602.3 C1294.9,602.3 1295.2,602.5 1295.6,602.5 C1295.9,602.6 1296.3,602.6 1296.6,602.6 C1296.9,602.6 1297.3,602.6 1297.6,602.6 C1297.9,602.6 1298.3,602.7 1298.6,602.7 C1299.0,602.7 1299.3,602.2 1299.6,602.2 C1300.0,602.2 1300.3,602.5 1300.7,602.5 C1301.0,602.5 1301.3,602.0 1301.7,602.0 C1302.0,602.0 1302.3,602.6 1302.7,602.6 C1303.0,602.6 1303.4,602.2 1303.7,602.2 C1304.0,602.2 1304.4,602.2 1304.7,602.3 C1305.1,602.3 1305.4,602.7 1305.7,602.7 C1306.1,602.7 1306.4,602.2 1306.7,602.1 C1307.1,602.0 1307.4,602.0 1307.8,602.0 C1308.1,602.0 1308.4,602.6 1308.8,602.6 C1309.1,602.6 1309.5,602.5 1309.8,602.4 C1310.1,602.3 1310.5,602.0 1310.8,601.9 C1311.1,601.9 1311.5,601.9 1311.8,601.9 C1312.2,601.9 1312.5,602.2 1312.8,602.2 C1313.2,602.2 1313.5,601.9 1313.8,601.9 C1314.2,601.9 1314.5,602.6 1314.9,602.6 C1315.2,602.6 1315.5,602.0 1315.9,602.0 C1316.2,602.0 1316.6,602.1 1316.9,602.1 C1317.2,602.1 1317.6,602.2 1317.9,602.2 C1318.2,602.2 1318.6,602.3 1318.9,602.3 C1319.3,602.3 1319.6,602.2 1319.9,602.2 C1320.3,602.2 1320.6,602.4 1321.0,602.4 C1321.3,602.4 1321.6,602.4 1322.0,602.4 C1322.3,602.4 1322.6,602.3 1323.0,602.2 C1323.3,602.2 1323.7,601.9 1324.0,601.9 C1324.3,601.9 1324.7,602.7 1325.0,602.7 C1325.4,602.7 1325.7,602.6 1326.0,602.5 C1326.4,602.3 1326.7,601.9 1327.0,601.9 C1327.4,601.9 1327.7,602.1 1328.1,602.2 C1328.4,602.3 1328.7,602.4 1329.1,602.5 C1329.4,602.6 1329.8,602.7 1330.1,602.7 C1330.4,602.7 1330.8,601.9 1331.1,601.9 C1331.4,601.9 1331.8,601.9 1332.1,601.9 C1332.5,601.9 1332.8,602.3 1333.1,602.3 C1333.5,602.3 1333.8,602.2 1334.2,602.2 C1334.5,602.2 1334.8,602.7 1335.2,602.7 C1335.5,602.7 1335.8,602.6 1336.2,602.6 C1336.5,602.6 1336.9,602.1 1337.2,602.1 C1337.5,602.1 1337.9,602.2 1338.2,602.2 C1338.6,602.3 1338.9,602.3 1339.2,602.4 C1339.6,602.4 1339.9,602.6 1340.2,602.6 C1340.6,602.6 1340.9,602.0 1341.3,602.0 C1341.6,602.0 1341.9,602.2 1342.3,602.2 C1342.6,602.2 1343.0,601.9 1343.3,601.9 C1343.6,601.9 1344.0,602.4 1344.3,602.4 C1344.6,602.4 1345.0,601.9 1345.3,601.9 C1345.7,601.9 1346.0,602.7 1346.3,602.7 C1346.7,602.7 1347.0,602.3 1347.3,602.3 C1347.7,602.3 1348.0,602.4 1348.4,602.4 C1348.7,602.4 1349.0,601.9 1349.4,601.9 C1349.7,601.9 1350.1,602.0 1350.4,602.1 C1350.7,602.1 1351.1,602.2 1351.4,602.3 C1351.7,602.4 1352.1,602.6 1352.4,602.6 C1352.8,602.6 1353.1,602.4 1353.4,602.3 C1353.8,602.2 1354.1,602.1 1354.5,602.1 C1354.8,602.1 1355.1,602.7 1355.5,602.7 C1355.8,602.7 1356.1,602.5 1356.5,602.4 C1356.8,602.4 1357.2,602.4 1357.5,602.3 C1357.8,602.3 1358.2,602.0 1358.5,602.0 C1358.9,602.0 1359.2,602.1 1359.5,602.1 C1359.9,602.2 1360.2,602.7 1360.5,602.7 C1360.9,602.7 1361.2,602.0 1361.6,602.0 C1361.9,602.0 1362.2,602.3 1362.6,602.3 C1362.9,602.4 1363.3,602.4 1363.6,602.4 C1363.9,602.4 1364.3,602.2 1364.6,602.2 C1364.9,602.2 1365.3,602.5 1365.6,602.5 C1366.0,602.6 1366.3,602.7 1366.6,602.7 C1367.0,602.7 1367.3,602.6 1367.7,602.6 C1368.0,602.6 1368.3,602.6 1368.7,602.5 C1369.0,602.4 1369.3,602.1 1369.7,602.0 C1370.0,601.9 1370.4,601.9 1370.7,601.9 C1371.0,601.9 1371.4,602.2 1371.7,602.2 C1372.1,602.2 1372.4,602.2 1372.7,602.1 C1373.1,602.1 1373.4,602.0 1373.7,602.0 C1374.1,602.0 1374.4,602.6 1374.8,602.6 C1375.1,602.6 1375.4,602.0 1375.8,602.0 C1376.1,602.0 1376.5,602.5 1376.8,602.6 C1377.1,602.7 1377.5,602.7 1377.8,602.7 C1378.1,602.7 1378.5,602.0 1378.8,602.0 C1379.2,602.0 1379.5,602.7 1379.8,602.7 C1380.2,602.7 1380.5,602.3 1380.8,602.2 C1381.2,602.1 1381.5,602.1 1381.9,602.0 C1382.2,602.0 1382.5,602.0 1382.9,602.0 C1383.2,602.0 1383.6,601.9 1383.9,601.9 C1384.2,601.9 1384.6,602.3 1384.9,602.3 C1385.2,602.3 1385.6,602.2 1385.9,602.2 C1386.3,602.2 1386.6,602.6 1386.9,602.6 C1387.3,602.6 1387.6,602.6 1388.0,602.6 C1388.3,602.6 1388.6,601.9 1389.0,601.9 C1389.3,601.9 1389.6,602.2 1390.0,602.2 C1390.3,602.2 1390.7,602.2 1391.0,602.2 C1391.3,602.2 1391.7,602.0 1392.0,602.0 C1392.4,602.0 1392.7,602.1 1393.0,602.1 C1393.4,602.1 1393.7,602.1 1394.0,602.1 C1394.4,602.1 1394.7,602.5 1395.1,602.5 C1395.4,602.5 1395.7,602.2 1396.1,602.2 C1396.4,602.1 1396.8,602.0 1397.1,602.0 C1397.4,602.0 1397.8,602.0 1398.1,602.0 C1398.4,602.1 1398.8,602.2 1399.1,602.2 C1399.5,602.3 1399.8,602.4 1400.1,602.4 C1400.5,602.4 1400.8,602.1 1401.2,602.1 C1401.5,602.1 1401.8,602.5 1402.2,602.5 C1402.5,602.5 1402.8,602.0 1403.2,602.0 C1403.5,602.0 1403.9,602.5 1404.2,602.5 C1404.5,602.5 1404.9,602.4 1405.2,602.4 C1405.6,602.4 1405.9,602.0 1406.2,602.0 C1406.6,602.0 1406.9,602.5 1407.2,602.5 C1407.6,602.5 1407.9,602.2 1408.3,602.2 C1408.6,602.2 1408.9,602.3 1409.3,602.3 C1409.6,602.4 1410.0,602.4 1410.3,602.4 C1410.6,602.4 1411.0,602.4 1411.3,602.4 C1411.6,602.4 1412.0,602.3 1412.3,602.2 C1412.7,602.2 1413.0,601.9 1413.3,601.9 C1413.7,601.9 1414.0,602.5 1414.3,602.6 C1414.7,602.6 1415.0,602.6 1415.4,602.6 C1415.7,602.6 1416.0,602.3 1416.4,602.3 C1416.7,602.3 1417.1,602.4 1417.4,602.4 C1417.7,602.4 1418.1,602.1 1418.4,602.1 C1418.7,602.1 1419.1,602.7 1419.4,602.7 C1419.8,602.7 1420.1,602.6 1420.4,602.5 C1420.8,602.4 1421.1,602.0 1421.5,602.0 C1421.8,602.0 1422.1,602.5 1422.5,602.6 C1422.8,602.7 1423.1,602.7 1423.5,602.7 C1423.8,602.7 1424.2,602.2 1424.5,602.2 C1424.8,602.2 1425.2,602.7 1425.5,602.7 C1425.9,602.7 1426.2,602.4 1426.5,602.3 C1426.9,602.2 1427.2,602.0 1427.5,602.0 C1427.9,602.0 1428.2,602.5 1428.6,602.5 C1428.9,602.5 1429.2,602.2 1429.6,602.2 C1429.9,602.2 1430.3,602.5 1430.6,602.5 C1430.9,602.5 1431.3,602.5 1431.6,602.4 C1431.9,602.3 1432.3,601.9 1432.6,601.9 C1433.0,601.9 1433.3,602.2 1433.6,602.3 C1434.0,602.4 1434.3,602.6 1434.7,602.6 C1435.0,602.6 1435.3,602.3 1435.7,602.3 C1436.0,602.3 1436.3,602.3 1436.7,602.3 C1437.0,602.4 1437.4,602.6 1437.7,602.6 C1438.0,602.6 1438.4,602.3 1438.7,602.3 C1439.1,602.3 1439.4,602.3 1439.7,602.3 C1440.1,602.3 1440.4,602.3 1440.7,602.4 C1441.1,602.4 1441.4,602.6 1441.8,602.6 C1442.1,602.6 1442.4,602.1 1442.8,602.0 C1443.1,602.0 1443.4,601.9 1443.8,601.9 C1444.1,601.9 1444.5,602.5 1444.8,602.5 C1445.1,602.5 1445.5,602.4 1445.8,602.3 C1446.2,602.3 1446.5,602.1 1446.8,602.1 C1447.2,602.1 1447.5,602.7 1447.8,602.7 C1448.2,602.7 1448.5,602.7 1448.9,602.6 C1449.2,602.6 1449.5,602.3 1449.9,602.3 C1450.2,602.3 1450.6,602.7 1450.9,602.7 C1451.2,602.7 1451.6,602.6 1451.9,602.6 C1452.2,602.6 1452.6,602.6 1452.9,602.5 C1453.3,602.5 1453.6,602.2 1453.9,602.1 C1454.3,602.0 1454.6,601.9 1455.0,601.9 C1455.3,601.9 1455.6,602.4 1456.0,602.5 C1456.3,602.5 1456.6,602.5 1457.0,602.5 C1457.3,602.5 1457.7,602.2 1458.0,602.2 C1458.3,602.2 1458.7,602.2 1459.0,602.3 C1459.4,602.3 1459.7,602.4 1460.0,602.4 C1460.4,602.4 1460.7,602.1 1461.0,602.1 C1461.4,602.1 1461.7,602.5 1462.1,602.5 C1462.4,602.5 1462.7,602.4 1463.1,602.4 C1463.4,602.3 1463.8,602.3 1464.1,602.2 C1464.4,602.1 1464.8,601.9 1465.1,601.9 C1465.4,601.9 1465.8,602.3 1466.1,602.3 C1466.5,602.3 1466.8,602.1 1467.1,602.1 C1467.5,602.1 1467.8,602.5 1468.2,602.5 C1468.5,602.5 1468.8,602.0 1469.2,602.0 C1469.5,602.0 1469.8,602.2 1470.2,602.2 C1470.5,602.2 1470.9,602.0 1471.2,602.0 C1471.5,602.0 1471.9,602.2 1472.2,602.2 C1472.6,602.3 1472.9,602.4 1473.2,602.4 C1473.6,602.4 1473.9,602.0 1474.2,601.9 C1474.6,601.9 1474.9,601.9 1475.3,601.9 C1475.6,601.9 1475.9,602.3 1476.3,602.3 C1476.6,602.3 1476.9,602.0 1477.3,602.0 C1477.6,602.0 1478.0,602.3 1478.3,602.3 C1478.6,602.3 1479.0,602.0 1479.3,602.0 C1479.7,602.0 1480.0,601.9 1480.3,601.9 C1480.7,601.9 1481.0,602.2 1481.3,602.3 C1481.7,602.5 1482.0,602.7 1482.4,602.7 C1482.7,602.7 1483.0,602.7 1483.4,602.6 C1483.7,602.6 1484.1,602.4 1484.4,602.3 C1484.7,602.2 1485.1,602.3 1485.4,602.2 C1485.7,602.1 1486.1,601.9 1486.4,601.9 C1486.8,601.9 1487.1,602.1 1487.4,602.1 C1487.8,602.1 1488.1,602.1 1488.5,602.1 C1488.8,602.2 1489.1,602.7 1489.5,602.7 C1489.8,602.7 1490.1,602.0 1490.5,602.0 C1490.8,602.0 1491.2,602.7 1491.5,602.7 C1491.8,602.7 1492.2,602.3 1492.5,602.3 C1492.9,602.3 1493.2,602.3 1493.5,602.2 C1493.9,602.2 1494.2,602.1 1494.5,602.1 C1494.9,602.1 1495.2,602.7 1495.6,602.7 C1495.9,602.7 1496.2,602.0 1496.6,602.0 C1496.9,602.0 1497.3,602.4 1497.6,602.4 C1497.9,602.4 1498.3,602.3 1498.6,602.3 C1498.9,602.3 1499.3,602.0 1499.6,602.0 C1500.0,602.0 1500.3,602.0 1500.6,602.1 C1501.0,602.1 1501.3,602.7 1501.7,602.7 C1502.0,602.7 1502.3,602.6 1502.7,602.6 C1503.0,602.5 1503.3,602.5 1503.7,602.5 C1504.0,602.5 1504.4,602.7 1504.7,602.7 C1505.0,602.7 1505.4,601.9 1505.7,601.9 C1506.1,601.9 1506.4,602.5 1506.7,602.5 C1507.1,602.5 1507.4,602.5 1507.7,602.5 C1508.1,602.5 1508.4,602.1 1508.8,602.1 C1509.1,602.1 1509.4,602.1 1509.8,602.3 C1510.1,602.4 1510.4,602.7 1510.8,602.7 C1511.1,602.7 1511.5,602.1 1511.8,602.1 C1512.1,602.1 1512.5,602.5 1512.8,602.5 C1513.2,602.5 1513.5,602.0 1513.8,602.0 C1514.2,602.0 1514.5,602.5 1514.8,602.5 C1515.2,602.5 1515.5,602.1 1515.9,602.1 C1516.2,602.1 1516.5,602.3 1516.9,602.3 C1517.2,602.3 1517.6,602.2 1517.9,602.2 C1518.2,602.2 1518.6,602.6 1518.9,602.6 C1519.2,602.6 1519.6,602.6 1519.9,602.5 C1520.3,602.5 1520.6,602.3 1520.9,602.3 C1521.3,602.3 1521.6,602.5 1522.0,602.5 C1522.3,602.5 1522.6,602.2 1523.0,602.2 C1523.3,602.2 1523.6,602.6 1524.0,602.6 C1524.3,602.6 1524.7,602.1 1525.0,602.1 C1525.3,602.1 1525.7,602.3 1526.0,602.3 C1526.4,602.4 1526.7,602.4 1527.0,602.4 C1527.4,602.4 1527.7,602.3 1528.0,602.2 C1528.4,602.1 1528.7,601.9 1529.1,601.9 C1529.4,601.9 1529.7,601.9 1530.1,602.0 C1530.4,602.1 1530.8,602.4 1531.1,602.4 C1531.4,602.4 1531.8,602.0 1532.1,602.0 C1532.4,602.0 1532.8,602.5 1533.1,602.5 C1533.5,602.5 1533.8,602.3 1534.1,602.3 C1534.5,602.3 1534.8,602.7 1535.2,602.7 C1535.5,602.7 1535.8,602.6 1536.2,602.6 C1536.5,602.6 1536.8,602.6 1537.2,602.5 C1537.5,602.4 1537.9,602.3 1538.2,602.2 C1538.5,602.1 1538.9,601.9 1539.2,601.9 C1539.6,601.9 1539.9,602.2 1540.2,602.4 C1540.6,602.5 1540.9,602.5 1541.2,602.5 C1541.6,602.6 1541.9,602.7 1542.3,602.7 C1542.6,602.7 1542.9,602.1 1543.3,602.0 C1543.6,602.0 1543.9,602.0 1544.3,602.0 C1544.6,602.0 1545.0,602.7 1545.3,602.7 C1545.6,602.7 1546.0,602.6 1546.3,602.5 C1546.7,602.4 1547.0,602.3 1547.3,602.3 C1547.7,602.3 1548.0,602.5 1548.3,602.5 C1548.7,602.5 1549.0,602.0 1549.4,602.0 C1549.7,602.0 1550.0,602.3 1550.4,602.3 C1550.7,602.4 1551.1,602.5 1551.4,602.5 C1551.7,602.5 1552.1,602.4 1552.4,602.4 C1552.7,602.4 1553.1,602.0 1553.4,602.0 C1553.8,602.0 1554.1,602.0 1554.4,602.0 C1554.8,602.0 1555.1,602.3 1555.5,602.4 C1555.8,602.5 1556.1,602.6 1556.5,602.6 C1556.8,602.6 1557.1,602.1 1557.5,602.0 C1557.8,601.9 1558.2,601.9 1558.5,601.9 C1558.8,601.9 1559.2,601.9 1559.5,601.9 C1559.9,602.0 1560.2,602.6 1560.5,602.6 C1560.9,602.6 1561.2,602.2 1561.5,602.2 C1561.9,602.2 1562.2,602.2 1562.6,602.3 C1562.9,602.3 1563.2,602.7 1563.6,602.7 C1563.9,602.7 1564.3,602.5 1564.6,602.4 C1564.9,602.3 1565.3,602.1 1565.6,602.1 C1565.9,602.1 1566.3,602.5 1566.6,602.5 C1567.0,602.5 1567.3,601.9 1567.6,601.9 C1568.0,601.9 1568.3,602.0 1568.7,602.1 C1569.0,602.2 1569.3,602.5 1569.7,602.5 C1570.0,602.5 1570.3,602.1 1570.7,602.0 C1571.0,601.9 1571.4,601.9 1571.7,601.9 C1572.0,601.9 1572.4,602.3 1572.7,602.3 C1573.1,602.3 1573.4,602.1 1573.7,602.1 C1574.1,602.1 1574.4,602.7 1574.7,602.7 C1575.1,602.7 1575.4,601.9 1575.8,601.9 C1576.1,601.9 1576.4,602.6 1576.8,602.6 C1577.1,602.6 1577.4,602.2 1577.8,602.2 C1578.1,602.2 1578.5,602.6 1578.8,602.6 C1579.1,602.6 1579.5,602.3 1579.8,602.3 C1580.2,602.3 1580.5,602.5 1580.8,602.5 C1581.2,602.5 1581.5,602.2 1581.8,602.1 C1582.2,602.1 1582.5,602.1 1582.9,602.1 C1583.2,602.1 1583.5,602.2 1583.9,602.3 C1584.2,602.3 1584.6,602.6 1584.9,602.6 C1585.2,602.6 1585.6,602.2 1585.9,602.2 C1586.2,602.1 1586.6,602.1 1586.9,602.1 C1587.3,602.1 1587.6,602.2 1587.9,602.2 C1588.3,602.2 1588.6,601.9 1589.0,601.9 C1589.3,601.9 1589.6,602.1 1590.0,602.1 C1590.3,602.2 1590.6,602.4 1591.0,602.4 C1591.3,602.4 1591.7,602.3 1592.0,602.3 C1592.3,602.3 1592.7,602.4 1593.0,602.4 C1593.4,602.4 1593.7,602.2 1594.0,602.1 C1594.4,602.0 1594.7,601.9 1595.0,601.9 C1595.4,601.9 1595.7,601.9 1596.1,601.9 C1596.4,601.9 1596.7,602.2 1597.1,602.2 C1597.4,602.2 1597.8,602.0 1598.1,602.0 C1598.4,602.0 1598.8,602.4 1599.1,602.4 C1599.4,602.4 1599.8,602.1 1600.1,602.1 C1600.5,602.1 1600.8,602.5 1601.1,602.5 C1601.5,602.5 1601.8,602.4 1602.2,602.4 C1602.5,602.4 1602.8,602.4 1603.2,602.4 C1603.5,602.5 1603.8,602.5 1604.2,602.5 C1604.5,602.5 1604.9,602.4 1605.2,602.3 C1605.5,602.3 1605.9,602.3 1606.2,602.2 C1606.6,602.2 1606.9,602.2 1607.2,602.1 C1607.6,602.1 1607.9,601.9 1608.2,601.9 C1608.6,601.9 1608.9,602.6 1609.3,602.6 C1609.6,602.6 1609.9,602.4 1610.3,602.3 C1610.6,602.2 1610.9,601.9 1611.3,601.9 C1611.6,601.9 1612.0,602.7 1612.3,602.7 C1612.6,602.7 1613.0,602.4 1613.3,602.4 C1613.7,602.4 1614.0,602.4 1614.3,602.4 C1614.7,602.4 1615.0,602.3 1615.3,602.2 C1615.7,602.2 1616.0,602.0 1616.4,602.0 C1616.7,602.0 1617.0,602.7 1617.4,602.7 C1617.7,602.7 1618.1,602.0 1618.4,602.0 C1618.7,602.0 1619.1,602.1 1619.4,602.2 C1619.7,602.3 1620.1,602.7 1620.4,602.7 C1620.8,602.7 1621.1,602.0 1621.4,602.0 C1621.8,602.0 1622.1,602.3 1622.5,602.3 C1622.8,602.3 1623.1,602.3 1623.5,602.3 C1623.8,602.3 1624.1,602.1 1624.5,602.1 C1624.8,602.1 1625.2,602.7 1625.5,602.7 C1625.8,602.7 1626.2,602.4 1626.5,602.2 C1626.9,602.1 1627.2,601.9 1627.5,601.9 C1627.9,601.9 1628.2,602.3 1628.5,602.3 C1628.9,602.3 1629.2,601.9 1629.6,601.9 C1629.9,601.9 1630.2,602.4 1630.6,602.5 C1630.9,602.6 1631.3,602.6 1631.6,602.6 C1631.9,602.7 1632.3,602.7 1632.6,602.7 C1632.9,602.7 1633.3,601.9 1633.6,601.9 C1634.0,601.9 1634.3,602.5 1634.6,602.5 C1635.0,602.5 1635.3,602.1 1635.7,602.1 C1636.0,602.1 1636.3,602.3 1636.7,602.3 C1637.0,602.3 1637.3,602.1 1637.7,602.1 C1638.0,602.1 1638.4,602.1 1638.7,602.1 C1639.0,602.1 1639.4,602.0 1639.7,602.0 C1640.1,602.0 1640.4,602.4 1640.7,602.4 C1641.1,602.4 1641.4,601.9 1641.7,601.9 C1642.1,601.9 1642.4,602.7 1642.8,602.7 C1643.1,602.7 1643.4,601.9 1643.8,601.9 C1644.1,601.9 1644.4,602.7 1644.8,602.7 C1645.1,602.7 1645.5,602.1 1645.8,602.0 C1646.1,602.0 1646.5,601.9 1646.8,601.9 C1647.2,601.9 1647.5,602.5 1647.8,602.5 C1648.2,602.5 1648.5,602.3 1648.8,602.3 C1649.2,602.3 1649.5,602.5 1649.9,602.5 C1650.2,602.5 1650.5,602.3 1650.9,602.3 C1651.2,602.3 1651.6,602.4 1651.9,602.4 C1652.2,602.4 1652.6,601.9 1652.9,601.9 C1653.2,601.9 1653.6,602.5 1653.9,602.5 C1654.3,602.5 1654.6,602.3 1654.9,602.3 C1655.3,602.3 1655.6,602.7 1656.0,602.7 C1656.3,602.7 1656.6,601.9 1657.0,601.9 C1657.3,601.9 1657.6,601.9 1658.0,601.9 C1658.3,601.9 1658.7,602.2 1659.0,602.5 L1659.0,604.8 L198.2,604.8 Z" fill="url(#gCpu)"/>
<path d="M198.2,602.1 C198.5,602.2 198.9,602.3 199.2,602.3 C199.6,602.3 199.9,602.2 200.2,602.2 C200.6,602.2 200.9,602.4 201.2,602.4 C201.6,602.4 201.9,602.4 202.3,602.4 C202.6,602.4 202.9,601.9 203.3,601.9 C203.6,601.9 204.0,601.9 204.3,601.9 C204.6,601.9 205.0,602.6 205.3,602.6 C205.6,602.6 206.0,602.1 206.3,602.1 C206.7,602.1 207.0,602.1 207.3,602.1 C207.7,602.1 208.0,602.7 208.4,602.7 C208.7,602.7 209.0,602.3 209.4,602.3 C209.7,602.3 210.0,602.6 210.4,602.6 C210.7,602.6 211.1,602.3 211.4,602.3 C211.7,602.3 212.1,602.4 212.4,602.4 C212.8,602.4 213.1,602.0 213.4,602.0 C213.8,602.0 214.1,602.3 214.4,602.4 C214.8,602.5 215.1,602.6 215.5,602.6 C215.8,602.6 216.1,602.3 216.5,602.3 C216.8,602.3 217.1,602.5 217.5,602.5 C217.8,602.5 218.2,602.5 218.5,602.5 C218.8,602.4 219.2,601.9 219.5,601.9 C219.9,601.9 220.2,602.5 220.5,602.5 C220.9,602.5 221.2,602.5 221.5,602.4 C221.9,602.3 222.2,602.2 222.6,602.1 C222.9,602.0 223.2,601.9 223.6,601.9 C223.9,601.9 224.3,602.6 224.6,602.6 C224.9,602.6 225.3,602.3 225.6,602.3 C225.9,602.3 226.3,602.4 226.6,602.5 C227.0,602.6 227.3,602.6 227.6,602.6 C228.0,602.6 228.3,602.5 228.7,602.5 C229.0,602.5 229.3,602.7 229.7,602.7 C230.0,602.7 230.3,602.2 230.7,602.2 C231.0,602.2 231.4,602.6 231.7,602.6 C232.0,602.6 232.4,602.3 232.7,602.3 C233.1,602.3 233.4,602.7 233.7,602.7 C234.1,602.7 234.4,602.7 234.7,602.6 C235.1,602.6 235.4,601.9 235.8,601.9 C236.1,601.9 236.4,602.0 236.8,602.0 C237.1,602.0 237.5,602.0 237.8,602.0 C238.1,602.1 238.5,602.7 238.8,602.7 C239.1,602.7 239.5,602.2 239.8,602.2 C240.2,602.2 240.5,602.4 240.8,602.4 C241.2,602.4 241.5,602.1 241.9,602.1 C242.2,602.1 242.5,602.3 242.9,602.3 C243.2,602.3 243.5,602.2 243.9,602.2 C244.2,602.2 244.6,602.2 244.9,602.2 C245.2,602.2 245.6,602.4 245.9,602.4 C246.3,602.4 246.6,602.4 246.9,602.4 C247.3,602.4 247.6,602.7 247.9,602.7 C248.3,602.7 248.6,602.5 249.0,602.5 C249.3,602.5 249.6,602.7 250.0,602.7 C250.3,602.7 250.6,602.6 251.0,602.6 C251.3,602.6 251.7,602.7 252.0,602.7 C252.3,602.7 252.7,602.6 253.0,602.5 C253.4,602.3 253.7,602.0 254.0,602.0 C254.4,602.0 254.7,602.6 255.0,602.6 C255.4,602.7 255.7,602.7 256.1,602.7 C256.4,602.7 256.7,602.7 257.1,602.7 C257.4,602.6 257.8,602.4 258.1,602.4 C258.4,602.4 258.8,602.5 259.1,602.5 C259.4,602.5 259.8,602.0 260.1,602.0 C260.5,602.0 260.8,602.6 261.1,602.6 C261.5,602.6 261.8,602.4 262.2,602.4 C262.5,602.3 262.8,602.2 263.2,602.1 C263.5,602.0 263.8,601.9 264.2,601.9 C264.5,601.9 264.9,602.5 265.2,602.6 C265.5,602.7 265.9,602.7 266.2,602.7 C266.6,602.7 266.9,601.9 267.2,601.9 C267.6,601.9 267.9,602.6 268.2,602.6 C268.6,602.6 268.9,602.3 269.3,602.2 C269.6,602.1 269.9,602.0 270.3,602.0 C270.6,602.0 271.0,602.0 271.3,602.1 C271.6,602.2 272.0,602.5 272.3,602.5 C272.6,602.6 273.0,602.6 273.3,602.6 C273.7,602.6 274.0,601.9 274.3,601.9 C274.7,601.9 275.0,602.4 275.4,602.4 C275.7,602.4 276.0,601.9 276.4,601.9 C276.7,601.9 277.0,602.5 277.4,602.5 C277.7,602.5 278.1,602.1 278.4,602.1 C278.7,602.1 279.1,602.6 279.4,602.6 C279.8,602.7 280.1,602.7 280.4,602.7 C280.8,602.7 281.1,602.3 281.4,602.3 C281.8,602.3 282.1,602.7 282.5,602.7 C282.8,602.7 283.1,602.3 283.5,602.1 C283.8,602.0 284.1,601.9 284.5,601.9 C284.8,601.9 285.2,602.4 285.5,602.4 C285.8,602.4 286.2,601.9 286.5,601.9 C286.9,601.9 287.2,602.0 287.5,602.0 C287.9,602.1 288.2,602.2 288.5,602.2 C288.9,602.3 289.2,602.4 289.6,602.4 C289.9,602.4 290.2,602.1 290.6,602.0 C290.9,601.9 291.3,601.9 291.6,601.9 C291.9,601.9 292.3,602.6 292.6,602.6 C292.9,602.6 293.3,602.1 293.6,602.1 C294.0,602.1 294.3,602.7 294.6,602.7 C295.0,602.7 295.3,602.7 295.7,602.7 C296.0,602.6 296.3,602.2 296.7,602.2 C297.0,602.2 297.3,602.2 297.7,602.3 C298.0,602.3 298.4,602.3 298.7,602.3 C299.0,602.3 299.4,602.4 299.7,602.4 C300.1,602.4 300.4,602.4 300.7,602.4 C301.1,602.4 301.4,602.4 301.7,602.4 C302.1,602.4 302.4,602.4 302.8,602.4 C303.1,602.4 303.4,602.7 303.8,602.7 C304.1,602.7 304.5,602.4 304.8,602.3 C305.1,602.3 305.5,602.2 305.8,602.2 C306.1,602.2 306.5,602.5 306.8,602.5 C307.2,602.5 307.5,602.1 307.8,602.1 C308.2,602.1 308.5,602.1 308.9,602.1 C309.2,602.2 309.5,602.7 309.9,602.7 C310.2,602.7 310.5,602.3 310.9,602.3 C311.2,602.3 311.6,602.3 311.9,602.3 C312.2,602.3 312.6,601.9 312.9,601.9 C313.3,601.9 313.6,602.1 313.9,602.2 C314.3,602.3 314.6,602.4 314.9,602.4 C315.3,602.4 315.6,601.9 316.0,601.9 C316.3,601.9 316.6,602.4 317.0,602.4 C317.3,602.4 317.6,602.4 318.0,602.4 C318.3,602.4 318.7,601.9 319.0,601.9 C319.3,601.9 319.7,602.4 320.0,602.4 C320.4,602.4 320.7,602.3 321.0,602.3 C321.4,602.3 321.7,602.5 322.0,602.5 C322.4,602.5 322.7,602.2 323.1,602.2 C323.4,602.2 323.7,602.5 324.1,602.5 C324.4,602.5 324.8,602.5 325.1,602.5 C325.4,602.5 325.8,601.9 326.1,601.9 C326.4,601.9 326.8,601.9 327.1,601.9 C327.5,601.9 327.8,568.8 328.1,568.0 C328.5,567.2 328.8,566.8 329.2,566.8 C329.5,566.8 329.8,567.2 330.2,568.0 C330.5,568.8 330.8,602.2 331.2,602.3 C331.5,602.3 331.9,602.4 332.2,602.4 C332.5,602.4 332.9,602.1 333.2,602.1 C333.6,602.1 333.9,602.2 334.2,602.2 C334.6,602.2 334.9,602.1 335.2,602.1 C335.6,602.1 335.9,602.1 336.3,602.2 C336.6,602.2 336.9,602.4 337.3,602.4 C337.6,602.4 338.0,602.1 338.3,602.1 C338.6,602.1 339.0,602.1 339.3,602.2 C339.6,602.2 340.0,602.5 340.3,602.5 C340.7,602.5 341.0,601.9 341.3,601.9 C341.7,601.9 342.0,602.3 342.4,602.4 C342.7,602.5 343.0,602.5 343.4,602.5 C343.7,602.5 344.0,602.2 344.4,602.1 C344.7,602.1 345.1,602.1 345.4,602.1 C345.7,602.1 346.1,602.6 346.4,602.6 C346.8,602.6 347.1,602.1 347.4,602.1 C347.8,602.0 348.1,602.0 348.4,602.0 C348.8,602.0 349.1,602.2 349.5,602.2 C349.8,602.3 350.1,602.5 350.5,602.5 C350.8,602.5 351.1,601.9 351.5,601.9 C351.8,601.9 352.2,602.1 352.5,602.1 C352.8,602.1 353.2,602.1 353.5,602.2 C353.9,602.2 354.2,602.6 354.5,602.6 C354.9,602.6 355.2,602.2 355.5,602.2 C355.9,602.2 356.2,602.6 356.6,602.6 C356.9,602.6 357.2,602.0 357.6,602.0 C357.9,602.0 358.3,602.1 358.6,602.2 C358.9,602.2 359.3,602.4 359.6,602.4 C359.9,602.5 360.3,602.6 360.6,602.6 C361.0,602.6 361.3,602.4 361.6,602.3 C362.0,602.2 362.3,602.1 362.7,602.1 C363.0,602.0 363.3,602.0 363.7,602.0 C364.0,602.0 364.3,602.3 364.7,602.3 C365.0,602.3 365.4,602.0 365.7,602.0 C366.0,602.0 366.4,602.6 366.7,602.6 C367.1,602.6 367.4,602.6 367.7,602.6 C368.1,602.6 368.4,602.0 368.7,602.0 C369.1,602.0 369.4,602.0 369.8,602.1 C370.1,602.2 370.4,602.6 370.8,602.6 C371.1,602.6 371.5,602.4 371.8,602.4 C372.1,602.4 372.5,602.6 372.8,602.6 C373.1,602.6 373.5,602.3 373.8,602.2 C374.2,602.1 374.5,602.0 374.8,602.0 C375.2,602.0 375.5,602.0 375.9,602.1 C376.2,602.2 376.5,602.6 376.9,602.6 C377.2,602.6 377.5,602.1 377.9,602.1 C378.2,602.1 378.6,602.1 378.9,602.2 C379.2,602.2 379.6,602.2 379.9,602.2 C380.3,602.2 380.6,602.2 380.9,602.2 C381.3,602.2 381.6,602.2 381.9,602.2 C382.3,602.2 382.6,602.7 383.0,602.7 C383.3,602.7 383.6,602.1 384.0,602.0 C384.3,601.9 384.6,601.9 385.0,601.9 C385.3,601.9 385.7,602.7 386.0,602.7 C386.3,602.7 386.7,602.6 387.0,602.6 C387.4,602.6 387.7,602.7 388.0,602.7 C388.4,602.7 388.7,602.2 389.0,602.2 C389.4,602.2 389.7,602.7 390.1,602.7 C390.4,602.7 390.7,602.7 391.1,602.7 C391.4,602.7 391.8,602.0 392.1,602.0 C392.4,602.0 392.8,602.5 393.1,602.5 C393.4,602.6 393.8,602.6 394.1,602.6 C394.5,602.6 394.8,602.5 395.1,602.4 C395.5,602.4 395.8,602.4 396.2,602.3 C396.5,602.3 396.8,602.1 397.2,602.1 C397.5,602.1 397.8,602.2 398.2,602.2 C398.5,602.2 398.9,602.1 399.2,602.1 C399.5,602.0 399.9,601.9 400.2,601.9 C400.6,601.9 400.9,602.4 401.2,602.4 C401.6,602.4 401.9,602.1 402.2,602.1 C402.6,602.1 402.9,602.6 403.3,602.6 C403.6,602.6 403.9,601.9 404.3,601.9 C404.6,601.9 405.0,602.7 405.3,602.7 C405.6,602.7 406.0,602.6 406.3,602.5 C406.6,602.3 407.0,537.5 407.3,536.7 C407.7,535.9 408.0,535.5 408.3,535.5 C408.7,535.5 409.0,535.9 409.4,536.7 C409.7,537.5 410.0,602.4 410.4,602.4 C410.7,602.4 411.0,601.9 411.4,601.9 C411.7,601.9 412.1,602.5 412.4,602.5 C412.7,602.5 413.1,602.0 413.4,602.0 C413.8,602.0 414.1,602.0 414.4,602.1 C414.8,602.2 415.1,602.4 415.4,602.4 C415.8,602.4 416.1,602.4 416.5,602.3 C416.8,602.3 417.1,602.2 417.5,602.2 C417.8,602.2 418.1,602.7 418.5,602.7 C418.8,602.7 419.2,602.5 419.5,602.4 C419.8,602.3 420.2,602.2 420.5,602.2 C420.9,602.1 421.2,602.1 421.5,602.1 C421.9,602.1 422.2,602.6 422.5,602.6 C422.9,602.6 423.2,602.3 423.6,602.3 C423.9,602.3 424.2,602.6 424.6,602.6 C424.9,602.6 425.3,602.3 425.6,602.2 C425.9,602.1 426.3,602.0 426.6,602.0 C426.9,602.0 427.3,602.2 427.6,602.3 C428.0,602.4 428.3,602.6 428.6,602.6 C429.0,602.6 429.3,602.0 429.7,602.0 C430.0,602.0 430.3,602.5 430.7,602.6 C431.0,602.6 431.3,602.7 431.7,602.7 C432.0,602.7 432.4,602.6 432.7,602.6 C433.0,602.6 433.4,602.6 433.7,602.6 C434.1,602.6 434.4,601.9 434.7,601.9 C435.1,601.9 435.4,602.3 435.7,602.4 C436.1,602.5 436.4,602.6 436.8,602.6 C437.1,602.6 437.4,601.9 437.8,601.9 C438.1,601.9 438.5,602.1 438.8,602.1 C439.1,602.1 439.5,602.1 439.8,602.1 C440.1,602.1 440.5,602.3 440.8,602.3 C441.2,602.3 441.5,602.2 441.8,602.2 C442.2,602.2 442.5,602.2 442.9,602.3 C443.2,602.3 443.5,602.5 443.9,602.5 C444.2,602.5 444.5,601.9 444.9,601.9 C445.2,601.9 445.6,601.9 445.9,601.9 C446.2,601.9 446.6,602.0 446.9,602.0 C447.2,602.0 447.6,602.0 447.9,602.0 C448.3,602.0 448.6,601.9 448.9,601.9 C449.3,601.9 449.6,602.7 450.0,602.7 C450.3,602.7 450.6,602.7 451.0,602.6 C451.3,602.5 451.6,601.9 452.0,601.9 C452.3,601.9 452.7,602.3 453.0,602.3 C453.3,602.3 453.7,602.1 454.0,602.1 C454.4,602.1 454.7,602.1 455.0,602.1 C455.4,602.1 455.7,602.1 456.0,602.2 C456.4,602.2 456.7,602.4 457.1,602.4 C457.4,602.4 457.7,602.4 458.1,602.4 C458.4,602.3 458.8,602.2 459.1,602.2 C459.4,602.1 459.8,602.0 460.1,602.0 C460.4,602.0 460.8,602.1 461.1,602.1 C461.5,602.1 461.8,602.0 462.1,602.0 C462.5,602.0 462.8,602.3 463.2,602.3 C463.5,602.4 463.8,602.5 464.2,602.5 C464.5,602.5 464.8,602.3 465.2,602.2 C465.5,602.1 465.9,601.9 466.2,601.9 C466.5,601.9 466.9,602.0 467.2,602.0 C467.6,602.1 467.9,602.1 468.2,602.2 C468.6,602.2 468.9,602.3 469.2,602.4 C469.6,602.5 469.9,602.6 470.3,602.6 C470.6,602.6 470.9,602.2 471.3,602.2 C471.6,602.2 472.0,602.6 472.3,602.6 C472.6,602.6 473.0,602.5 473.3,602.4 C473.6,602.4 474.0,602.3 474.3,602.2 C474.7,602.2 475.0,602.2 475.3,602.2 C475.7,602.2 476.0,602.2 476.4,602.3 C476.7,602.3 477.0,602.5 477.4,602.5 C477.7,602.5 478.0,602.2 478.4,602.2 C478.7,602.2 479.1,602.5 479.4,602.5 C479.7,602.5 480.1,602.3 480.4,602.3 C480.7,602.2 481.1,602.1 481.4,602.1 C481.8,602.1 482.1,602.3 482.4,602.3 C482.8,602.4 483.1,602.5 483.5,602.5 C483.8,602.5 484.1,601.9 484.5,601.9 C484.8,601.9 485.1,602.2 485.5,602.2 C485.8,602.2 486.2,602.2 486.5,602.2 C486.8,602.2 487.2,602.6 487.5,602.6 C487.9,602.7 488.2,602.7 488.5,602.7 C488.9,602.7 489.2,602.2 489.5,602.2 C489.9,602.2 490.2,602.7 490.6,602.7 C490.9,602.7 491.2,602.6 491.6,602.6 C491.9,602.5 492.3,602.1 492.6,602.1 C492.9,602.1 493.3,602.3 493.6,602.3 C493.9,602.3 494.3,602.0 494.6,602.0 C495.0,602.0 495.3,602.6 495.6,602.6 C496.0,602.6 496.3,602.4 496.7,602.4 C497.0,602.4 497.3,602.6 497.7,602.6 C498.0,602.6 498.3,602.6 498.7,602.6 C499.0,602.5 499.4,602.5 499.7,602.5 C500.0,602.5 500.4,602.5 500.7,602.5 C501.1,602.5 501.4,602.5 501.7,602.4 C502.1,602.3 502.4,601.9 502.7,601.9 C503.1,601.9 503.4,602.4 503.8,602.4 C504.1,602.4 504.4,601.9 504.8,601.9 C505.1,601.9 505.5,601.9 505.8,602.0 C506.1,602.1 506.5,602.5 506.8,602.5 C507.1,602.5 507.5,601.9 507.8,601.9 C508.2,601.9 508.5,601.9 508.8,601.9 C509.2,601.9 509.5,601.9 509.9,601.9 C510.2,601.9 510.5,602.6 510.9,602.6 C511.2,602.6 511.5,602.1 511.9,602.0 C512.2,601.9 512.6,601.9 512.9,601.9 C513.2,601.9 513.6,602.6 513.9,602.6 C514.2,602.6 514.6,602.0 514.9,602.0 C515.3,602.0 515.6,602.6 515.9,602.6 C516.3,602.6 516.6,602.5 517.0,602.5 C517.3,602.5 517.6,602.6 518.0,602.6 C518.3,602.6 518.6,602.7 519.0,602.7 C519.3,602.7 519.7,602.4 520.0,602.4 C520.3,602.4 520.7,602.6 521.0,602.6 C521.4,602.6 521.7,601.9 522.0,601.9 C522.4,601.9 522.7,602.5 523.0,602.5 C523.4,602.5 523.7,602.3 524.1,602.3 C524.4,602.3 524.7,602.5 525.1,602.5 C525.4,602.5 525.8,601.9 526.1,601.9 C526.4,601.9 526.8,602.4 527.1,602.5 C527.4,602.6 527.8,602.7 528.1,602.7 C528.5,602.7 528.8,601.9 529.1,601.9 C529.5,601.9 529.8,602.1 530.2,602.1 C530.5,602.2 530.8,602.3 531.2,602.4 C531.5,602.4 531.8,602.6 532.2,602.6 C532.5,602.6 532.9,602.1 533.2,602.1 C533.5,602.0 533.9,602.0 534.2,602.0 C534.6,602.0 534.9,602.0 535.2,602.1 C535.6,602.1 535.9,602.3 536.2,602.4 C536.6,602.5 536.9,602.5 537.3,602.5 C537.6,602.5 537.9,602.2 538.3,602.2 C538.6,602.2 539.0,602.2 539.3,602.2 C539.6,602.2 540.0,602.2 540.3,602.2 C540.6,602.2 541.0,602.2 541.3,602.2 C541.7,602.2 542.0,602.2 542.3,602.2 C542.7,602.2 543.0,601.9 543.4,601.9 C543.7,601.9 544.0,602.2 544.4,602.3 C544.7,602.4 545.0,602.7 545.4,602.7 C545.7,602.7 546.1,602.2 546.4,602.2 C546.7,602.2 547.1,602.5 547.4,602.5 C547.7,602.5 548.1,602.0 548.4,602.0 C548.8,602.0 549.1,602.4 549.4,602.5 C549.8,602.5 550.1,602.5 550.5,602.5 C550.8,602.5 551.1,602.5 551.5,602.5 C551.8,602.4 552.1,602.3 552.5,602.3 C552.8,602.3 553.2,602.3 553.5,602.3 C553.8,602.3 554.2,602.4 554.5,602.4 C554.9,602.5 555.2,602.7 555.5,602.7 C555.9,602.7 556.2,602.0 556.5,602.0 C556.9,602.0 557.2,601.9 557.6,601.9 C557.9,601.9 558.2,602.4 558.6,602.5 C558.9,602.6 559.3,602.7 559.6,602.7 C559.9,602.7 560.3,602.4 560.6,602.3 C560.9,602.3 561.3,602.2 561.6,602.2 C562.0,602.2 562.3,602.5 562.6,602.5 C563.0,602.5 563.3,602.0 563.7,602.0 C564.0,602.0 564.3,602.1 564.7,602.1 C565.0,602.1 565.3,602.0 565.7,602.0 C566.0,602.0 566.4,602.4 566.7,602.4 C567.0,602.4 567.4,602.2 567.7,602.1 C568.1,602.1 568.4,602.1 568.7,602.1 C569.1,602.1 569.4,602.4 569.7,602.5 C570.1,602.6 570.4,602.7 570.8,602.7 C571.1,602.7 571.4,602.1 571.8,602.1 C572.1,602.1 572.5,602.5 572.8,602.5 C573.1,602.5 573.5,602.2 573.8,602.2 C574.1,602.2 574.5,602.6 574.8,602.6 C575.2,602.6 575.5,602.5 575.8,602.4 C576.2,602.3 576.5,602.3 576.9,602.1 C577.2,601.9 577.5,598.5 577.9,597.7 C578.2,596.9 578.5,596.5 578.9,596.5 C579.2,596.5 579.6,596.9 579.9,597.7 C580.2,598.5 580.6,602.2 580.9,602.2 C581.2,602.2 581.6,602.0 581.9,602.0 C582.3,602.0 582.6,602.2 582.9,602.2 C583.3,602.2 583.6,602.1 584.0,602.1 C584.3,602.1 584.6,602.5 585.0,602.5 C585.3,602.5 585.6,602.0 586.0,602.0 C586.3,602.0 586.7,602.7 587.0,602.7 C587.3,602.7 587.7,602.3 588.0,602.3 C588.4,602.3 588.7,602.4 589.0,602.4 C589.4,602.4 589.7,602.3 590.0,602.3 C590.4,602.3 590.7,602.6 591.1,602.6 C591.4,602.6 591.7,602.6 592.1,602.6 C592.4,602.6 592.8,602.4 593.1,602.4 C593.4,602.3 593.8,602.3 594.1,602.3 C594.4,602.3 594.8,602.4 595.1,602.5 C595.5,602.6 595.8,602.6 596.1,602.6 C596.5,602.6 596.8,602.2 597.2,602.2 C597.5,602.2 597.8,602.4 598.2,602.5 C598.5,602.6 598.8,602.7 599.2,602.7 C599.5,602.7 599.9,602.4 600.2,602.3 C600.5,602.2 600.9,602.1 601.2,602.1 C601.6,602.1 601.9,602.1 602.2,602.1 C602.6,602.1 602.9,602.5 603.2,602.5 C603.6,602.5 603.9,602.5 604.3,602.5 C604.6,602.5 604.9,602.7 605.3,602.7 C605.6,602.7 606.0,602.7 606.3,602.6 C606.6,602.6 607.0,602.1 607.3,602.1 C607.6,602.0 608.0,602.0 608.3,602.0 C608.7,602.0 609.0,602.1 609.3,602.1 C609.7,602.1 610.0,602.0 610.4,602.0 C610.7,602.0 611.0,602.4 611.4,602.5 C611.7,602.6 612.0,602.6 612.4,602.6 C612.7,602.6 613.1,602.7 613.4,602.7 C613.7,602.7 614.1,602.1 614.4,602.1 C614.7,602.1 615.1,602.6 615.4,602.6 C615.8,602.6 616.1,602.1 616.4,602.1 C616.8,602.1 617.1,602.2 617.5,602.2 C617.8,602.3 618.1,602.5 618.5,602.5 C618.8,602.5 619.1,601.9 619.5,601.9 C619.8,601.9 620.2,601.9 620.5,601.9 C620.8,601.9 621.2,602.6 621.5,602.6 C621.9,602.6 622.2,602.1 622.5,602.1 C622.9,602.1 623.2,602.1 623.5,602.2 C623.9,602.2 624.2,602.3 624.6,602.4 C624.9,602.4 625.2,602.5 625.6,602.5 C625.9,602.5 626.3,601.9 626.6,601.9 C626.9,601.9 627.3,602.1 627.6,602.2 C627.9,602.2 628.3,602.2 628.6,602.2 C629.0,602.3 629.3,602.3 629.6,602.3 C630.0,602.3 630.3,602.0 630.7,602.0 C631.0,602.0 631.3,602.3 631.7,602.4 C632.0,602.5 632.3,602.7 632.7,602.7 C633.0,602.7 633.4,602.2 633.7,602.2 C634.0,602.2 634.4,602.3 634.7,602.3 C635.1,602.3 635.4,602.0 635.7,602.0 C636.1,602.0 636.4,602.0 636.7,602.1 C637.1,602.2 637.4,602.4 637.8,602.4 C638.1,602.4 638.4,602.3 638.8,602.0 C639.1,601.6 639.5,600.1 639.8,599.5 C640.1,598.9 640.5,598.3 640.8,598.3 C641.1,598.3 641.5,598.8 641.8,599.5 C642.2,600.2 642.5,602.7 642.8,602.7 C643.2,602.7 643.5,602.2 643.9,602.2 C644.2,602.2 644.5,602.5 644.9,602.5 C645.2,602.5 645.5,602.5 645.9,602.5 C646.2,602.5 646.6,602.1 646.9,602.1 C647.2,602.1 647.6,602.5 647.9,602.5 C648.2,602.5 648.6,602.4 648.9,602.4 C649.3,602.4 649.6,602.6 649.9,602.6 C650.3,602.6 650.6,602.1 651.0,602.1 C651.3,602.1 651.6,602.4 652.0,602.5 C652.3,602.6 652.6,602.7 653.0,602.7 C653.3,602.7 653.7,602.5 654.0,602.5 C654.3,602.4 654.7,602.4 655.0,602.3 C655.4,602.3 655.7,602.0 656.0,602.0 C656.4,602.0 656.7,602.3 657.0,602.3 C657.4,602.3 657.7,602.2 658.1,602.2 C658.4,602.2 658.7,602.5 659.1,602.5 C659.4,602.5 659.8,602.5 660.1,602.5 C660.4,602.4 660.8,602.4 661.1,602.4 C661.4,602.3 661.8,602.0 662.1,602.0 C662.5,602.0 662.8,602.4 663.1,602.4 C663.5,602.4 663.8,602.4 664.2,602.4 C664.5,602.4 664.8,602.0 665.2,602.0 C665.5,602.0 665.8,602.7 666.2,602.7 C666.5,602.7 666.9,602.6 667.2,602.4 C667.5,602.3 667.9,602.0 668.2,602.0 C668.6,602.0 668.9,602.7 669.2,602.7 C669.6,602.7 669.9,602.0 670.2,602.0 C670.6,602.0 670.9,602.1 671.3,602.1 C671.6,602.2 671.9,602.5 672.3,602.5 C672.6,602.5 673.0,602.4 673.3,602.4 C673.6,602.4 674.0,602.3 674.3,602.3 C674.6,602.3 675.0,602.4 675.3,602.4 C675.7,602.4 676.0,602.3 676.3,602.3 C676.7,602.2 677.0,602.2 677.4,602.1 C677.7,602.1 678.0,602.0 678.4,602.0 C678.7,602.0 679.0,601.9 679.4,601.9 C679.7,601.9 680.1,602.5 680.4,602.5 C680.7,602.5 681.1,602.5 681.4,602.5 C681.7,602.5 682.1,602.3 682.4,602.3 C682.8,602.3 683.1,602.5 683.4,602.5 C683.8,602.5 684.1,602.2 684.5,602.2 C684.8,602.1 685.1,602.1 685.5,602.1 C685.8,602.1 686.1,602.1 686.5,602.2 C686.8,602.3 687.2,602.6 687.5,602.6 C687.8,602.6 688.2,601.9 688.5,601.9 C688.9,601.9 689.2,602.3 689.5,602.3 C689.9,602.3 690.2,602.1 690.5,602.1 C690.9,602.1 691.2,602.5 691.6,602.5 C691.9,602.5 692.2,602.2 692.6,602.2 C692.9,602.2 693.3,602.1 693.6,602.1 C693.9,602.1 694.3,602.2 694.6,602.2 C694.9,602.2 695.3,602.3 695.6,602.3 C696.0,602.4 696.3,602.5 696.6,602.5 C697.0,602.5 697.3,602.2 697.7,602.2 C698.0,602.2 698.3,602.6 698.7,602.6 C699.0,602.6 699.3,602.0 699.7,602.0 C700.0,602.0 700.4,602.1 700.7,602.1 C701.0,602.1 701.4,601.9 701.7,601.9 C702.1,601.9 702.4,601.9 702.7,602.0 C703.1,602.0 703.4,602.6 703.7,602.6 C704.1,602.6 704.4,602.5 704.8,602.5 C705.1,602.5 705.4,602.0 705.8,602.0 C706.1,602.0 706.5,602.0 706.8,602.0 C707.1,602.0 707.5,602.1 707.8,602.2 C708.1,602.3 708.5,602.5 708.8,602.5 C709.2,602.6 709.5,602.6 709.8,602.6 C710.2,602.6 710.5,602.6 710.9,602.5 C711.2,602.5 711.5,602.5 711.9,602.4 C712.2,602.3 712.5,602.0 712.9,602.0 C713.2,602.0 713.6,602.2 713.9,602.2 C714.2,602.2 714.6,602.0 714.9,602.0 C715.2,602.0 715.6,602.3 715.9,602.3 C716.3,602.3 716.6,602.4 716.9,602.4 C717.3,602.4 717.6,602.0 718.0,602.0 C718.3,602.0 718.6,602.0 719.0,602.1 C719.3,602.1 719.6,602.6 720.0,602.6 C720.3,602.6 720.7,601.9 721.0,601.9 C721.3,601.9 721.7,602.5 722.0,602.6 C722.4,602.6 722.7,602.6 723.0,602.7 C723.4,602.7 723.7,602.7 724.0,602.7 C724.4,602.7 724.7,602.2 725.1,602.2 C725.4,602.2 725.7,602.3 726.1,602.3 C726.4,602.4 726.8,602.4 727.1,602.4 C727.4,602.4 727.8,602.4 728.1,602.4 C728.4,602.5 728.8,602.7 729.1,602.7 C729.5,602.7 729.8,602.6 730.1,602.5 C730.5,602.4 730.8,602.1 731.2,602.1 C731.5,602.1 731.8,602.6 732.2,602.6 C732.5,602.6 732.8,602.3 733.2,602.3 C733.5,602.3 733.9,602.4 734.2,602.4 C734.5,602.4 734.9,602.5 735.2,602.5 C735.6,602.5 735.9,601.9 736.2,601.9 C736.6,601.9 736.9,602.5 737.2,602.5 C737.6,602.5 737.9,602.5 738.3,602.4 C738.6,602.4 738.9,602.3 739.3,602.3 C739.6,602.3 740.0,602.3 740.3,602.3 C740.6,602.3 741.0,602.3 741.3,602.3 C741.6,602.2 742.0,602.0 742.3,602.0 C742.7,602.0 743.0,602.3 743.3,602.3 C743.7,602.3 744.0,601.9 744.4,601.9 C744.7,601.9 745.0,602.2 745.4,602.3 C745.7,602.4 746.0,602.4 746.4,602.4 C746.7,602.4 747.1,602.2 747.4,602.2 C747.7,602.2 748.1,602.3 748.4,602.4 C748.7,602.4 749.1,602.7 749.4,602.7 C749.8,602.7 750.1,602.7 750.4,602.7 C750.8,602.6 751.1,602.0 751.5,602.0 C751.8,602.0 752.1,602.6 752.5,602.6 C752.8,602.6 753.1,602.5 753.5,602.4 C753.8,602.3 754.2,601.9 754.5,601.9 C754.8,601.9 755.2,602.2 755.5,602.2 C755.9,602.2 756.2,602.1 756.5,602.1 C756.9,602.0 757.2,601.9 757.5,601.9 C757.9,601.9 758.2,602.2 758.6,602.3 C758.9,602.5 759.2,602.7 759.6,602.7 C759.9,602.7 760.3,602.1 760.6,602.1 C760.9,602.1 761.3,602.6 761.6,602.6 C761.9,602.6 762.3,602.6 762.6,602.5 C763.0,602.4 763.3,602.0 763.6,602.0 C764.0,602.0 764.3,602.6 764.7,602.6 C765.0,602.6 765.3,602.4 765.7,602.4 C766.0,602.4 766.3,602.7 766.7,602.7 C767.0,602.7 767.4,602.5 767.7,602.5 C768.0,602.5 768.4,602.5 768.7,602.5 C769.1,602.5 769.4,602.2 769.7,602.2 C770.1,602.2 770.4,602.5 770.7,602.6 C771.1,602.7 771.4,602.7 771.8,602.7 C772.1,602.7 772.4,602.7 772.8,602.6 C773.1,602.6 773.5,602.2 773.8,602.2 C774.1,602.2 774.5,602.5 774.8,602.5 C775.1,602.5 775.5,602.4 775.8,602.3 C776.2,602.2 776.5,602.0 776.8,601.9 C777.2,601.9 777.5,601.9 777.9,601.9 C778.2,601.9 778.5,601.9 778.9,601.9 C779.2,601.9 779.5,602.0 779.9,602.0 C780.2,602.0 780.6,602.0 780.9,602.0 C781.2,602.0 781.6,602.2 781.9,602.3 C782.2,602.4 782.6,602.5 782.9,602.5 C783.3,602.5 783.6,602.4 783.9,602.3 C784.3,602.3 784.6,602.2 785.0,602.2 C785.3,602.2 785.6,602.4 786.0,602.4 C786.3,602.4 786.6,602.1 787.0,602.1 C787.3,602.1 787.7,602.2 788.0,602.3 C788.3,602.3 788.7,602.5 789.0,602.5 C789.4,602.5 789.7,602.3 790.0,602.2 C790.4,602.1 790.7,602.0 791.0,602.0 C791.4,602.0 791.7,602.7 792.1,602.7 C792.4,602.7 792.7,602.6 793.1,602.5 C793.4,602.4 793.8,602.2 794.1,602.2 C794.4,602.2 794.8,602.2 795.1,602.2 C795.4,602.2 795.8,602.3 796.1,602.3 C796.5,602.4 796.8,602.4 797.1,602.4 C797.5,602.4 797.8,602.1 798.2,602.1 C798.5,602.0 798.8,601.9 799.2,601.9 C799.5,601.9 799.8,601.9 800.2,602.0 C800.5,602.2 800.9,602.6 801.2,602.6 C801.5,602.6 801.9,602.0 802.2,602.0 C802.6,602.0 802.9,602.3 803.2,602.3 C803.6,602.3 803.9,602.0 804.2,602.0 C804.6,602.0 804.9,602.0 805.3,602.0 C805.6,602.0 805.9,602.0 806.3,602.0 C806.6,602.0 807.0,602.2 807.3,602.2 C807.6,602.2 808.0,602.1 808.3,602.0 C808.6,601.9 809.0,601.9 809.3,601.9 C809.7,601.9 810.0,601.9 810.3,601.9 C810.7,602.0 811.0,602.0 811.4,602.0 C811.7,602.0 812.0,602.3 812.4,602.3 C812.7,602.3 813.0,601.9 813.4,601.9 C813.7,601.9 814.1,601.9 814.4,601.9 C814.7,601.9 815.1,602.3 815.4,602.3 C815.7,602.3 816.1,602.2 816.4,602.2 C816.8,602.2 817.1,602.5 817.4,602.5 C817.8,602.5 818.1,601.9 818.5,601.9 C818.8,601.9 819.1,602.2 819.5,602.2 C819.8,602.2 820.1,602.2 820.5,602.2 C820.8,602.2 821.2,601.9 821.5,601.9 C821.8,601.9 822.2,602.7 822.5,602.7 C822.9,602.7 823.2,602.1 823.5,602.0 C823.9,602.0 824.2,601.9 824.5,601.9 C824.9,601.9 825.2,602.3 825.6,602.3 C825.9,602.3 826.2,602.0 826.6,602.0 C826.9,602.0 827.3,602.4 827.6,602.4 C827.9,602.4 828.3,602.2 828.6,602.2 C828.9,602.1 829.3,602.0 829.6,602.0 C830.0,601.9 830.3,601.9 830.6,601.9 C831.0,601.9 831.3,602.5 831.7,602.5 C832.0,602.5 832.3,602.1 832.7,602.1 C833.0,602.1 833.3,602.6 833.7,602.6 C834.0,602.6 834.4,602.3 834.7,602.3 C835.0,602.3 835.4,602.7 835.7,602.7 C836.1,602.7 836.4,602.2 836.7,602.1 C837.1,602.1 837.4,602.1 837.7,602.1 C838.1,602.1 838.4,602.1 838.8,602.1 C839.1,602.1 839.4,602.6 839.8,602.6 C840.1,602.6 840.5,602.5 840.8,602.4 C841.1,602.3 841.5,602.2 841.8,602.2 C842.1,602.1 842.5,601.9 842.8,601.9 C843.2,601.9 843.5,602.3 843.8,602.5 C844.2,602.6 844.5,602.7 844.9,602.7 C845.2,602.7 845.5,602.5 845.9,602.4 C846.2,602.2 846.5,601.9 846.9,601.9 C847.2,601.9 847.6,601.9 847.9,601.9 C848.2,601.9 848.6,601.9 848.9,601.9 C849.2,602.0 849.6,602.0 849.9,602.0 C850.3,602.0 850.6,601.9 850.9,601.9 C851.3,601.9 851.6,601.9 852.0,601.9 C852.3,601.9 852.6,602.3 853.0,602.4 C853.3,602.6 853.6,602.7 854.0,602.7 C854.3,602.7 854.7,602.0 855.0,602.0 C855.3,602.0 855.7,602.7 856.0,602.7 C856.4,602.7 856.7,602.3 857.0,602.3 C857.4,602.3 857.7,602.5 858.0,602.6 C858.4,602.6 858.7,602.7 859.1,602.7 C859.4,602.7 859.7,602.7 860.1,602.7 C860.4,602.7 860.8,601.9 861.1,601.9 C861.4,601.9 861.8,602.0 862.1,602.1 C862.4,602.2 862.8,602.3 863.1,602.4 C863.5,602.5 863.8,602.7 864.1,602.7 C864.5,602.7 864.8,601.9 865.2,601.9 C865.5,601.9 865.8,602.0 866.2,602.1 C866.5,602.2 866.8,602.6 867.2,602.6 C867.5,602.6 867.9,602.0 868.2,602.0 C868.5,602.0 868.9,602.2 869.2,602.2 C869.6,602.2 869.9,602.2 870.2,602.2 C870.6,602.2 870.9,602.4 871.2,602.5 C871.6,602.6 871.9,602.7 872.3,602.7 C872.6,602.7 872.9,602.0 873.3,602.0 C873.6,602.0 874.0,602.5 874.3,602.5 C874.6,602.5 875.0,602.5 875.3,602.5 C875.6,602.5 876.0,602.6 876.3,602.6 C876.7,602.6 877.0,602.3 877.3,602.3 C877.7,602.3 878.0,602.7 878.4,602.7 C878.7,602.7 879.0,602.2 879.4,602.2 C879.7,602.2 880.0,602.2 880.4,602.2 C880.7,602.2 881.1,602.1 881.4,602.1 C881.7,602.1 882.1,602.6 882.4,602.6 C882.7,602.6 883.1,599.8 883.4,599.0 C883.8,598.2 884.1,597.8 884.4,597.8 C884.8,597.8 885.1,598.2 885.5,599.0 C885.8,599.8 886.1,602.5 886.5,602.5 C886.8,602.5 887.1,602.4 887.5,602.4 C887.8,602.4 888.2,602.5 888.5,602.5 C888.8,602.5 889.2,602.2 889.5,602.2 C889.9,602.2 890.2,602.3 890.5,602.3 C890.9,602.3 891.2,602.0 891.5,602.0 C891.9,602.0 892.2,602.5 892.6,602.5 C892.9,602.5 893.2,601.9 893.6,601.9 C893.9,601.9 894.3,602.2 894.6,602.3 C894.9,602.4 895.3,602.5 895.6,602.5 C895.9,602.5 896.3,602.5 896.6,602.5 C897.0,602.4 897.3,601.9 897.6,601.9 C898.0,601.9 898.3,602.0 898.7,602.1 C899.0,602.1 899.3,602.6 899.7,602.6 C900.0,602.6 900.3,602.4 900.7,602.4 C901.0,602.4 901.4,602.6 901.7,602.6 C902.0,602.6 902.4,602.6 902.7,602.6 C903.1,602.6 903.4,602.3 903.7,602.3 C904.1,602.3 904.4,602.7 904.7,602.7 C905.1,602.7 905.4,602.6 905.8,602.5 C906.1,602.4 906.4,602.2 906.8,602.2 C907.1,602.2 907.5,602.2 907.8,602.2 C908.1,602.2 908.5,601.9 908.8,601.9 C909.1,601.9 909.5,602.1 909.8,602.2 C910.2,602.3 910.5,602.7 910.8,602.7 C911.2,602.7 911.5,601.9 911.9,601.9 C912.2,601.9 912.5,602.4 912.9,602.4 C913.2,602.4 913.5,602.0 913.9,601.9 C914.2,601.9 914.6,601.9 914.9,601.9 C915.2,601.9 915.6,602.4 915.9,602.4 C916.2,602.4 916.6,602.2 916.9,602.1 C917.3,602.0 917.6,601.9 917.9,601.9 C918.3,601.9 918.6,601.9 919.0,602.0 C919.3,602.0 919.6,602.4 920.0,602.4 C920.3,602.4 920.6,602.4 921.0,602.4 C921.3,602.3 921.7,601.9 922.0,601.9 C922.3,601.9 922.7,601.9 923.0,602.1 C923.4,602.2 923.7,602.7 924.0,602.7 C924.4,602.7 924.7,602.0 925.0,602.0 C925.4,602.0 925.7,602.4 926.1,602.4 C926.4,602.4 926.7,602.2 927.1,602.2 C927.4,602.2 927.8,602.6 928.1,602.6 C928.4,602.6 928.8,602.4 929.1,602.4 C929.4,602.4 929.8,602.6 930.1,602.6 C930.5,602.6 930.8,602.4 931.1,602.3 C931.5,602.2 931.8,602.0 932.2,602.0 C932.5,602.0 932.8,602.0 933.2,602.0 C933.5,602.0 933.8,601.9 934.2,601.9 C934.5,601.9 934.9,602.6 935.2,602.6 C935.5,602.6 935.9,602.0 936.2,602.0 C936.6,601.9 936.9,601.9 937.2,601.9 C937.6,601.9 937.9,602.7 938.2,602.7 C938.6,602.7 938.9,602.0 939.3,602.0 C939.6,602.0 939.9,602.7 940.3,602.7 C940.6,602.7 941.0,601.9 941.3,601.9 C941.6,601.9 942.0,602.3 942.3,602.3 C942.6,602.3 943.0,602.1 943.3,602.1 C943.7,602.1 944.0,602.6 944.3,602.6 C944.7,602.6 945.0,602.4 945.3,602.4 C945.7,602.4 946.0,602.4 946.4,602.4 C946.7,602.4 947.0,602.5 947.4,602.5 C947.7,602.6 948.1,602.6 948.4,602.6 C948.7,602.6 949.1,602.2 949.4,602.2 C949.7,602.2 950.1,602.4 950.4,602.4 C950.8,602.4 951.1,602.3 951.4,602.3 C951.8,602.2 952.1,601.9 952.5,601.9 C952.8,601.9 953.1,602.6 953.5,602.6 C953.8,602.6 954.1,602.4 954.5,602.4 C954.8,602.4 955.2,602.6 955.5,602.6 C955.8,602.6 956.2,602.0 956.5,602.0 C956.9,602.0 957.2,602.3 957.5,602.3 C957.9,602.3 958.2,602.3 958.5,602.3 C958.9,602.3 959.2,602.5 959.6,602.5 C959.9,602.5 960.2,601.9 960.6,601.9 C960.9,601.9 961.3,602.1 961.6,602.2 C961.9,602.2 962.3,602.3 962.6,602.3 C962.9,602.3 963.3,601.9 963.6,601.9 C964.0,601.9 964.3,602.2 964.6,602.3 C965.0,602.4 965.3,602.5 965.7,602.5 C966.0,602.5 966.3,602.2 966.7,602.2 C967.0,602.2 967.3,602.4 967.7,602.4 C968.0,602.4 968.4,602.4 968.7,602.4 C969.0,602.4 969.4,602.0 969.7,602.0 C970.1,602.0 970.4,602.1 970.7,602.2 C971.1,602.2 971.4,602.7 971.7,602.7 C972.1,602.7 972.4,602.2 972.8,602.2 C973.1,602.2 973.4,602.2 973.8,602.2 C974.1,602.2 974.5,601.9 974.8,601.9 C975.1,601.9 975.5,602.0 975.8,602.0 C976.1,602.0 976.5,602.0 976.8,602.0 C977.2,602.0 977.5,602.7 977.8,602.7 C978.2,602.7 978.5,602.5 978.8,602.5 C979.2,602.5 979.5,602.6 979.9,602.6 C980.2,602.7 980.5,602.7 980.9,602.7 C981.2,602.7 981.6,602.4 981.9,602.4 C982.2,602.4 982.6,602.7 982.9,602.7 C983.2,602.7 983.6,602.4 983.9,602.3 C984.3,602.3 984.6,602.2 984.9,602.2 C985.3,602.2 985.6,602.7 986.0,602.7 C986.3,602.7 986.6,602.7 987.0,602.7 C987.3,602.7 987.6,602.7 988.0,602.7 C988.3,602.7 988.7,602.3 989.0,602.3 C989.3,602.3 989.7,602.5 990.0,602.5 C990.4,602.5 990.7,602.2 991.0,602.2 C991.4,602.2 991.7,602.7 992.0,602.7 C992.4,602.7 992.7,602.7 993.1,602.7 C993.4,602.6 993.7,602.1 994.1,602.1 C994.4,602.1 994.8,602.7 995.1,602.7 C995.4,602.7 995.8,602.1 996.1,602.0 C996.4,602.0 996.8,601.9 997.1,601.9 C997.5,601.9 997.8,602.5 998.1,602.5 C998.5,602.5 998.8,602.1 999.2,602.1 C999.5,602.1 999.8,602.3 1000.2,602.3 C1000.5,602.4 1000.8,602.4 1001.2,602.4 C1001.5,602.4 1001.9,601.9 1002.2,601.9 C1002.5,601.9 1002.9,602.5 1003.2,602.5 C1003.6,602.5 1003.9,602.1 1004.2,602.1 C1004.6,602.1 1004.9,602.2 1005.2,602.2 C1005.6,602.2 1005.9,602.2 1006.3,602.2 C1006.6,602.2 1006.9,602.5 1007.3,602.5 C1007.6,602.5 1008.0,602.5 1008.3,602.5 C1008.6,602.5 1009.0,602.2 1009.3,602.1 C1009.6,602.0 1010.0,601.9 1010.3,601.9 C1010.7,601.9 1011.0,602.1 1011.3,602.1 C1011.7,602.2 1012.0,602.2 1012.3,602.2 C1012.7,602.2 1013.0,601.9 1013.4,601.9 C1013.7,601.9 1014.0,601.9 1014.4,602.0 C1014.7,602.0 1015.1,602.5 1015.4,602.5 C1015.7,602.5 1016.1,602.5 1016.4,602.5 C1016.7,602.5 1017.1,602.7 1017.4,602.7 C1017.8,602.7 1018.1,602.7 1018.4,602.7 C1018.8,602.7 1019.1,602.7 1019.5,602.6 C1019.8,602.6 1020.1,602.3 1020.5,602.2 C1020.8,602.1 1021.1,602.0 1021.5,602.0 C1021.8,602.0 1022.2,602.1 1022.5,602.1 C1022.8,602.2 1023.2,602.2 1023.5,602.3 C1023.9,602.3 1024.2,602.3 1024.5,602.3 C1024.9,602.3 1025.2,602.3 1025.5,602.3 C1025.9,602.3 1026.2,602.2 1026.6,602.2 C1026.9,602.2 1027.2,602.6 1027.6,602.6 C1027.9,602.6 1028.3,602.1 1028.6,602.1 C1028.9,602.1 1029.3,602.2 1029.6,602.3 C1029.9,602.4 1030.3,602.6 1030.6,602.6 C1031.0,602.6 1031.3,602.6 1031.6,602.6 C1032.0,602.5 1032.3,602.2 1032.7,602.1 C1033.0,602.1 1033.3,602.1 1033.7,602.1 C1034.0,602.1 1034.3,602.6 1034.7,602.6 C1035.0,602.6 1035.4,601.9 1035.7,601.9 C1036.0,601.9 1036.4,601.9 1036.7,602.0 C1037.1,602.0 1037.4,602.3 1037.7,602.3 C1038.1,602.3 1038.4,602.3 1038.7,602.3 C1039.1,602.3 1039.4,602.1 1039.8,602.0 C1040.1,601.9 1040.4,601.9 1040.8,601.9 C1041.1,601.9 1041.5,601.9 1041.8,602.0 C1042.1,602.1 1042.5,602.5 1042.8,602.5 C1043.1,602.5 1043.5,602.3 1043.8,602.3 C1044.2,602.3 1044.5,602.7 1044.8,602.7 C1045.2,602.7 1045.5,602.6 1045.8,602.6 C1046.2,602.6 1046.5,602.7 1046.9,602.7 C1047.2,602.7 1047.5,601.9 1047.9,601.9 C1048.2,601.9 1048.6,602.0 1048.9,602.0 C1049.2,602.0 1049.6,601.9 1049.9,601.9 C1050.2,601.9 1050.6,602.2 1050.9,602.2 C1051.3,602.2 1051.6,602.2 1051.9,602.2 C1052.3,602.1 1052.6,601.9 1053.0,601.9 C1053.3,601.9 1053.6,602.3 1054.0,602.3 C1054.3,602.3 1054.6,601.9 1055.0,601.9 C1055.3,601.9 1055.7,602.1 1056.0,602.1 C1056.3,602.1 1056.7,602.1 1057.0,602.1 C1057.4,602.1 1057.7,602.6 1058.0,602.6 C1058.4,602.6 1058.7,602.3 1059.0,602.2 C1059.4,602.1 1059.7,602.1 1060.1,602.1 C1060.4,602.0 1060.7,601.9 1061.1,601.9 C1061.4,601.9 1061.8,602.1 1062.1,602.2 C1062.4,602.3 1062.8,602.4 1063.1,602.4 C1063.4,602.4 1063.8,602.4 1064.1,602.5 C1064.5,602.5 1064.8,602.7 1065.1,602.7 C1065.5,602.7 1065.8,602.6 1066.2,602.6 C1066.5,602.5 1066.8,602.1 1067.2,602.1 C1067.5,602.0 1067.8,602.0 1068.2,602.0 C1068.5,602.0 1068.9,602.5 1069.2,602.5 C1069.5,602.6 1069.9,602.6 1070.2,602.6 C1070.6,602.6 1070.9,602.3 1071.2,602.3 C1071.6,602.3 1071.9,602.6 1072.2,602.6 C1072.6,602.6 1072.9,602.4 1073.3,602.3 C1073.6,602.3 1073.9,602.2 1074.3,602.1 C1074.6,602.0 1075.0,602.0 1075.3,602.0 C1075.6,602.0 1076.0,601.9 1076.3,601.9 C1076.6,601.9 1077.0,602.3 1077.3,602.4 C1077.7,602.6 1078.0,602.7 1078.3,602.7 C1078.7,602.7 1079.0,602.7 1079.3,602.7 C1079.7,602.7 1080.0,602.3 1080.4,602.3 C1080.7,602.3 1081.0,602.4 1081.4,602.4 C1081.7,602.5 1082.1,602.7 1082.4,602.7 C1082.7,602.7 1083.1,602.6 1083.4,602.6 C1083.7,602.5 1084.1,602.5 1084.4,602.4 C1084.8,602.3 1085.1,602.2 1085.4,602.2 C1085.8,602.2 1086.1,602.3 1086.5,602.3 C1086.8,602.3 1087.1,602.0 1087.5,602.0 C1087.8,602.0 1088.1,602.0 1088.5,602.0 C1088.8,602.0 1089.2,602.3 1089.5,602.5 C1089.8,602.6 1090.2,602.7 1090.5,602.7 C1090.9,602.7 1091.2,602.4 1091.5,602.3 C1091.9,602.3 1092.2,602.2 1092.5,602.2 C1092.9,602.2 1093.2,602.2 1093.6,602.2 C1093.9,602.2 1094.2,602.2 1094.6,602.3 C1094.9,602.3 1095.3,602.6 1095.6,602.6 C1095.9,602.6 1096.3,602.3 1096.6,602.3 C1096.9,602.3 1097.3,602.7 1097.6,602.7 C1098.0,602.7 1098.3,602.0 1098.6,602.0 C1099.0,602.0 1099.3,602.1 1099.7,602.1 C1100.0,602.2 1100.3,602.3 1100.7,602.3 C1101.0,602.3 1101.3,602.2 1101.7,602.2 C1102.0,602.2 1102.4,602.6 1102.7,602.6 C1103.0,602.6 1103.4,602.6 1103.7,602.6 C1104.1,602.6 1104.4,602.7 1104.7,602.7 C1105.1,602.7 1105.4,602.5 1105.7,602.4 C1106.1,602.3 1106.4,601.9 1106.8,601.9 C1107.1,601.9 1107.4,602.4 1107.8,602.4 C1108.1,602.4 1108.5,602.4 1108.8,602.3 C1109.1,602.3 1109.5,602.3 1109.8,602.3 C1110.1,602.3 1110.5,602.1 1110.8,602.1 C1111.2,602.1 1111.5,602.4 1111.8,602.5 C1112.2,602.6 1112.5,602.7 1112.8,602.7 C1113.2,602.7 1113.5,601.9 1113.9,601.9 C1114.2,601.9 1114.5,602.5 1114.9,602.5 C1115.2,602.5 1115.6,602.2 1115.9,602.2 C1116.2,602.2 1116.6,602.2 1116.9,602.3 C1117.2,602.4 1117.6,602.6 1117.9,602.7 C1118.3,602.7 1118.6,602.7 1118.9,602.7 C1119.3,602.7 1119.6,602.5 1120.0,602.4 C1120.3,602.3 1120.6,602.0 1121.0,602.0 C1121.3,602.0 1121.6,602.7 1122.0,602.7 C1122.3,602.7 1122.7,602.0 1123.0,602.0 C1123.3,602.0 1123.7,602.1 1124.0,602.2 C1124.4,602.3 1124.7,602.6 1125.0,602.6 C1125.4,602.6 1125.7,602.2 1126.0,602.1 C1126.4,602.1 1126.7,602.1 1127.1,602.1 C1127.4,602.1 1127.7,602.7 1128.1,602.7 C1128.4,602.7 1128.8,602.7 1129.1,602.7 C1129.4,602.7 1129.8,602.1 1130.1,602.1 C1130.4,602.1 1130.8,602.2 1131.1,602.2 C1131.5,602.2 1131.8,602.1 1132.1,602.1 C1132.5,602.1 1132.8,602.0 1133.2,602.0 C1133.5,602.0 1133.8,602.0 1134.2,602.1 C1134.5,602.1 1134.8,602.7 1135.2,602.7 C1135.5,602.7 1135.9,601.9 1136.2,601.9 C1136.5,601.9 1136.9,602.1 1137.2,602.1 C1137.6,602.1 1137.9,602.0 1138.2,602.0 C1138.6,602.0 1138.9,601.9 1139.2,601.9 C1139.6,601.9 1139.9,602.2 1140.3,602.3 C1140.6,602.4 1140.9,602.5 1141.3,602.5 C1141.6,602.6 1142.0,602.6 1142.3,602.6 C1142.6,602.6 1143.0,602.4 1143.3,602.4 C1143.6,602.4 1144.0,602.6 1144.3,602.6 C1144.7,602.6 1145.0,601.9 1145.3,601.9 C1145.7,601.9 1146.0,602.0 1146.3,602.1 C1146.7,602.2 1147.0,602.7 1147.4,602.7 C1147.7,602.7 1148.0,601.9 1148.4,601.9 C1148.7,601.9 1149.1,602.0 1149.4,602.1 C1149.7,602.2 1150.1,602.3 1150.4,602.3 C1150.7,602.3 1151.1,602.1 1151.4,602.1 C1151.8,602.1 1152.1,602.3 1152.4,602.3 C1152.8,602.3 1153.1,601.9 1153.5,601.9 C1153.8,601.9 1154.1,601.9 1154.5,602.1 C1154.8,602.2 1155.1,602.7 1155.5,602.7 C1155.8,602.7 1156.2,602.0 1156.5,602.0 C1156.8,602.0 1157.2,602.7 1157.5,602.7 C1157.9,602.7 1158.2,602.0 1158.5,602.0 C1158.9,602.0 1159.2,602.7 1159.5,602.7 C1159.9,602.7 1160.2,602.5 1160.6,602.5 C1160.9,602.4 1161.2,602.4 1161.6,602.4 C1161.9,602.4 1162.3,602.0 1162.6,602.0 C1162.9,601.9 1163.3,601.9 1163.6,601.9 C1163.9,601.9 1164.3,602.5 1164.6,602.5 C1165.0,602.5 1165.3,602.0 1165.6,602.0 C1166.0,602.0 1166.3,602.0 1166.7,602.0 C1167.0,602.0 1167.3,602.6 1167.7,602.6 C1168.0,602.6 1168.3,602.6 1168.7,602.6 C1169.0,602.6 1169.4,601.9 1169.7,601.9 C1170.0,601.9 1170.4,602.7 1170.7,602.7 C1171.1,602.7 1171.4,602.4 1171.7,602.3 C1172.1,602.2 1172.4,602.3 1172.7,602.2 C1173.1,602.1 1173.4,601.9 1173.8,601.9 C1174.1,601.9 1174.4,602.1 1174.8,602.2 C1175.1,602.3 1175.5,602.7 1175.8,602.7 C1176.1,602.7 1176.5,602.2 1176.8,602.1 C1177.1,602.0 1177.5,602.0 1177.8,602.0 C1178.2,602.0 1178.5,602.0 1178.8,602.0 C1179.2,602.0 1179.5,602.0 1179.8,602.0 C1180.2,602.0 1180.5,602.0 1180.9,602.2 C1181.2,602.3 1181.5,602.7 1181.9,602.7 C1182.2,602.7 1182.6,601.9 1182.9,601.9 C1183.2,601.9 1183.6,602.0 1183.9,602.0 C1184.2,602.1 1184.6,602.7 1184.9,602.7 C1185.3,602.7 1185.6,602.7 1185.9,602.7 C1186.3,602.7 1186.6,602.7 1187.0,602.7 C1187.3,602.7 1187.6,602.1 1188.0,602.1 C1188.3,602.1 1188.6,602.1 1189.0,602.2 C1189.3,602.2 1189.7,602.7 1190.0,602.7 C1190.3,602.7 1190.7,602.3 1191.0,602.3 C1191.4,602.3 1191.7,602.5 1192.0,602.5 C1192.4,602.5 1192.7,602.2 1193.0,602.1 C1193.4,602.0 1193.7,601.9 1194.1,601.9 C1194.4,601.9 1194.7,602.1 1195.1,602.2 C1195.4,602.3 1195.8,602.5 1196.1,602.5 C1196.4,602.5 1196.8,602.6 1197.1,602.6 C1197.4,602.6 1197.8,602.4 1198.1,602.4 C1198.5,602.3 1198.8,602.3 1199.1,602.3 C1199.5,602.3 1199.8,602.3 1200.2,602.3 C1200.5,602.3 1200.8,602.2 1201.2,602.2 C1201.5,602.2 1201.8,602.3 1202.2,602.3 C1202.5,602.4 1202.9,602.6 1203.2,602.6 C1203.5,602.6 1203.9,602.0 1204.2,602.0 C1204.6,602.0 1204.9,602.3 1205.2,602.4 C1205.6,602.5 1205.9,602.7 1206.2,602.7 C1206.6,602.7 1206.9,602.7 1207.3,602.6 C1207.6,602.6 1207.9,602.0 1208.3,602.0 C1208.6,602.0 1209.0,602.7 1209.3,602.7 C1209.6,602.7 1210.0,602.7 1210.3,602.6 C1210.6,602.5 1211.0,602.0 1211.3,602.0 C1211.7,602.0 1212.0,602.1 1212.3,602.1 C1212.7,602.1 1213.0,602.1 1213.3,602.0 C1213.7,602.0 1214.0,601.9 1214.4,601.9 C1214.7,601.9 1215.0,602.7 1215.4,602.7 C1215.7,602.7 1216.1,602.2 1216.4,602.2 C1216.7,602.2 1217.1,602.6 1217.4,602.6 C1217.7,602.6 1218.1,602.0 1218.4,602.0 C1218.8,601.9 1219.1,601.9 1219.4,601.9 C1219.8,601.9 1220.1,602.6 1220.5,602.6 C1220.8,602.6 1221.1,602.6 1221.5,602.6 C1221.8,602.6 1222.1,602.7 1222.5,602.7 C1222.8,602.7 1223.2,602.5 1223.5,602.5 C1223.8,602.4 1224.2,602.3 1224.5,602.3 C1224.9,602.3 1225.2,602.5 1225.5,602.5 C1225.9,602.5 1226.2,601.9 1226.5,601.9 C1226.9,601.9 1227.2,602.3 1227.6,602.3 C1227.9,602.3 1228.2,602.3 1228.6,602.2 C1228.9,602.2 1229.3,602.0 1229.6,602.0 C1229.9,602.0 1230.3,602.4 1230.6,602.4 C1230.9,602.4 1231.3,602.1 1231.6,602.1 C1232.0,602.1 1232.3,602.3 1232.6,602.3 C1233.0,602.3 1233.3,602.2 1233.7,602.2 C1234.0,602.2 1234.3,602.1 1234.7,602.1 C1235.0,602.1 1235.3,602.1 1235.7,602.2 C1236.0,602.2 1236.4,602.3 1236.7,602.4 C1237.0,602.5 1237.4,602.7 1237.7,602.7 C1238.1,602.7 1238.4,602.7 1238.7,602.7 C1239.1,602.7 1239.4,602.6 1239.7,602.6 C1240.1,602.6 1240.4,602.6 1240.8,602.6 C1241.1,602.6 1241.4,602.1 1241.8,602.1 C1242.1,602.1 1242.5,602.7 1242.8,602.7 C1243.1,602.7 1243.5,602.2 1243.8,602.1 C1244.1,602.0 1244.5,602.0 1244.8,602.0 C1245.2,602.0 1245.5,602.2 1245.8,602.3 C1246.2,602.4 1246.5,602.5 1246.8,602.5 C1247.2,602.5 1247.5,601.0 1247.9,600.5 C1248.2,600.0 1248.5,599.3 1248.9,599.3 C1249.2,599.3 1249.6,599.9 1249.9,600.5 C1250.2,601.1 1250.6,602.7 1250.9,602.7 C1251.2,602.7 1251.6,602.3 1251.9,602.3 C1252.3,602.3 1252.6,602.3 1252.9,602.3 C1253.3,602.3 1253.6,602.3 1254.0,602.3 C1254.3,602.4 1254.6,602.6 1255.0,602.6 C1255.3,602.7 1255.6,602.7 1256.0,602.7 C1256.3,602.7 1256.7,602.4 1257.0,602.3 C1257.3,602.3 1257.7,602.2 1258.0,602.2 C1258.4,602.2 1258.7,602.4 1259.0,602.4 C1259.4,602.4 1259.7,601.9 1260.0,601.9 C1260.4,601.9 1260.7,602.1 1261.1,602.2 C1261.4,602.3 1261.7,602.6 1262.1,602.6 C1262.4,602.6 1262.8,602.6 1263.1,602.5 C1263.4,602.5 1263.8,601.9 1264.1,601.9 C1264.4,601.9 1264.8,602.6 1265.1,602.6 C1265.5,602.6 1265.8,602.2 1266.1,602.2 C1266.5,602.2 1266.8,602.7 1267.2,602.7 C1267.5,602.7 1267.8,602.3 1268.2,602.2 C1268.5,602.1 1268.8,602.0 1269.2,602.0 C1269.5,602.0 1269.9,602.2 1270.2,602.3 C1270.5,602.4 1270.9,602.6 1271.2,602.6 C1271.6,602.6 1271.9,602.2 1272.2,602.2 C1272.6,602.2 1272.9,602.6 1273.2,602.6 C1273.6,602.6 1273.9,602.6 1274.3,602.5 C1274.6,602.4 1274.9,602.2 1275.3,602.2 C1275.6,602.1 1276.0,602.1 1276.3,602.1 C1276.6,602.1 1277.0,602.3 1277.3,602.3 C1277.6,602.3 1278.0,602.2 1278.3,602.2 C1278.7,602.2 1279.0,602.2 1279.3,602.2 C1279.7,602.2 1280.0,602.4 1280.3,602.4 C1280.7,602.5 1281.0,602.6 1281.4,602.6 C1281.7,602.6 1282.0,602.5 1282.4,602.4 C1282.7,602.3 1283.1,602.0 1283.4,602.0 C1283.7,602.0 1284.1,602.0 1284.4,602.0 C1284.7,602.1 1285.1,602.1 1285.4,602.2 C1285.8,602.2 1286.1,602.4 1286.4,602.4 C1286.8,602.4 1287.1,602.0 1287.5,602.0 C1287.8,601.9 1288.1,601.9 1288.5,601.9 C1288.8,601.9 1289.1,602.1 1289.5,602.1 C1289.8,602.1 1290.2,602.1 1290.5,602.1 C1290.8,602.1 1291.2,601.9 1291.5,601.9 C1291.9,601.9 1292.2,602.2 1292.5,602.3 C1292.9,602.5 1293.2,602.7 1293.5,602.7 C1293.9,602.7 1294.2,602.3 1294.6,602.3 C1294.9,602.3 1295.2,602.5 1295.6,602.5 C1295.9,602.6 1296.3,602.6 1296.6,602.6 C1296.9,602.6 1297.3,602.6 1297.6,602.6 C1297.9,602.6 1298.3,602.7 1298.6,602.7 C1299.0,602.7 1299.3,602.2 1299.6,602.2 C1300.0,602.2 1300.3,602.5 1300.7,602.5 C1301.0,602.5 1301.3,602.0 1301.7,602.0 C1302.0,602.0 1302.3,602.6 1302.7,602.6 C1303.0,602.6 1303.4,602.2 1303.7,602.2 C1304.0,602.2 1304.4,602.2 1304.7,602.3 C1305.1,602.3 1305.4,602.7 1305.7,602.7 C1306.1,602.7 1306.4,602.2 1306.7,602.1 C1307.1,602.0 1307.4,602.0 1307.8,602.0 C1308.1,602.0 1308.4,602.6 1308.8,602.6 C1309.1,602.6 1309.5,602.5 1309.8,602.4 C1310.1,602.3 1310.5,602.0 1310.8,601.9 C1311.1,601.9 1311.5,601.9 1311.8,601.9 C1312.2,601.9 1312.5,602.2 1312.8,602.2 C1313.2,602.2 1313.5,601.9 1313.8,601.9 C1314.2,601.9 1314.5,602.6 1314.9,602.6 C1315.2,602.6 1315.5,602.0 1315.9,602.0 C1316.2,602.0 1316.6,602.1 1316.9,602.1 C1317.2,602.1 1317.6,602.2 1317.9,602.2 C1318.2,602.2 1318.6,602.3 1318.9,602.3 C1319.3,602.3 1319.6,602.2 1319.9,602.2 C1320.3,602.2 1320.6,602.4 1321.0,602.4 C1321.3,602.4 1321.6,602.4 1322.0,602.4 C1322.3,602.4 1322.6,602.3 1323.0,602.2 C1323.3,602.2 1323.7,601.9 1324.0,601.9 C1324.3,601.9 1324.7,602.7 1325.0,602.7 C1325.4,602.7 1325.7,602.6 1326.0,602.5 C1326.4,602.3 1326.7,601.9 1327.0,601.9 C1327.4,601.9 1327.7,602.1 1328.1,602.2 C1328.4,602.3 1328.7,602.4 1329.1,602.5 C1329.4,602.6 1329.8,602.7 1330.1,602.7 C1330.4,602.7 1330.8,601.9 1331.1,601.9 C1331.4,601.9 1331.8,601.9 1332.1,601.9 C1332.5,601.9 1332.8,602.3 1333.1,602.3 C1333.5,602.3 1333.8,602.2 1334.2,602.2 C1334.5,602.2 1334.8,602.7 1335.2,602.7 C1335.5,602.7 1335.8,602.6 1336.2,602.6 C1336.5,602.6 1336.9,602.1 1337.2,602.1 C1337.5,602.1 1337.9,602.2 1338.2,602.2 C1338.6,602.3 1338.9,602.3 1339.2,602.4 C1339.6,602.4 1339.9,602.6 1340.2,602.6 C1340.6,602.6 1340.9,602.0 1341.3,602.0 C1341.6,602.0 1341.9,602.2 1342.3,602.2 C1342.6,602.2 1343.0,601.9 1343.3,601.9 C1343.6,601.9 1344.0,602.4 1344.3,602.4 C1344.6,602.4 1345.0,601.9 1345.3,601.9 C1345.7,601.9 1346.0,602.7 1346.3,602.7 C1346.7,602.7 1347.0,602.3 1347.3,602.3 C1347.7,602.3 1348.0,602.4 1348.4,602.4 C1348.7,602.4 1349.0,601.9 1349.4,601.9 C1349.7,601.9 1350.1,602.0 1350.4,602.1 C1350.7,602.1 1351.1,602.2 1351.4,602.3 C1351.7,602.4 1352.1,602.6 1352.4,602.6 C1352.8,602.6 1353.1,602.4 1353.4,602.3 C1353.8,602.2 1354.1,602.1 1354.5,602.1 C1354.8,602.1 1355.1,602.7 1355.5,602.7 C1355.8,602.7 1356.1,602.5 1356.5,602.4 C1356.8,602.4 1357.2,602.4 1357.5,602.3 C1357.8,602.3 1358.2,602.0 1358.5,602.0 C1358.9,602.0 1359.2,602.1 1359.5,602.1 C1359.9,602.2 1360.2,602.7 1360.5,602.7 C1360.9,602.7 1361.2,602.0 1361.6,602.0 C1361.9,602.0 1362.2,602.3 1362.6,602.3 C1362.9,602.4 1363.3,602.4 1363.6,602.4 C1363.9,602.4 1364.3,602.2 1364.6,602.2 C1364.9,602.2 1365.3,602.5 1365.6,602.5 C1366.0,602.6 1366.3,602.7 1366.6,602.7 C1367.0,602.7 1367.3,602.6 1367.7,602.6 C1368.0,602.6 1368.3,602.6 1368.7,602.5 C1369.0,602.4 1369.3,602.1 1369.7,602.0 C1370.0,601.9 1370.4,601.9 1370.7,601.9 C1371.0,601.9 1371.4,602.2 1371.7,602.2 C1372.1,602.2 1372.4,602.2 1372.7,602.1 C1373.1,602.1 1373.4,602.0 1373.7,602.0 C1374.1,602.0 1374.4,602.6 1374.8,602.6 C1375.1,602.6 1375.4,602.0 1375.8,602.0 C1376.1,602.0 1376.5,602.5 1376.8,602.6 C1377.1,602.7 1377.5,602.7 1377.8,602.7 C1378.1,602.7 1378.5,602.0 1378.8,602.0 C1379.2,602.0 1379.5,602.7 1379.8,602.7 C1380.2,602.7 1380.5,602.3 1380.8,602.2 C1381.2,602.1 1381.5,602.1 1381.9,602.0 C1382.2,602.0 1382.5,602.0 1382.9,602.0 C1383.2,602.0 1383.6,601.9 1383.9,601.9 C1384.2,601.9 1384.6,602.3 1384.9,602.3 C1385.2,602.3 1385.6,602.2 1385.9,602.2 C1386.3,602.2 1386.6,602.6 1386.9,602.6 C1387.3,602.6 1387.6,602.6 1388.0,602.6 C1388.3,602.6 1388.6,601.9 1389.0,601.9 C1389.3,601.9 1389.6,602.2 1390.0,602.2 C1390.3,602.2 1390.7,602.2 1391.0,602.2 C1391.3,602.2 1391.7,602.0 1392.0,602.0 C1392.4,602.0 1392.7,602.1 1393.0,602.1 C1393.4,602.1 1393.7,602.1 1394.0,602.1 C1394.4,602.1 1394.7,602.5 1395.1,602.5 C1395.4,602.5 1395.7,602.2 1396.1,602.2 C1396.4,602.1 1396.8,602.0 1397.1,602.0 C1397.4,602.0 1397.8,602.0 1398.1,602.0 C1398.4,602.1 1398.8,602.2 1399.1,602.2 C1399.5,602.3 1399.8,602.4 1400.1,602.4 C1400.5,602.4 1400.8,602.1 1401.2,602.1 C1401.5,602.1 1401.8,602.5 1402.2,602.5 C1402.5,602.5 1402.8,602.0 1403.2,602.0 C1403.5,602.0 1403.9,602.5 1404.2,602.5 C1404.5,602.5 1404.9,602.4 1405.2,602.4 C1405.6,602.4 1405.9,602.0 1406.2,602.0 C1406.6,602.0 1406.9,602.5 1407.2,602.5 C1407.6,602.5 1407.9,602.2 1408.3,602.2 C1408.6,602.2 1408.9,602.3 1409.3,602.3 C1409.6,602.4 1410.0,602.4 1410.3,602.4 C1410.6,602.4 1411.0,602.4 1411.3,602.4 C1411.6,602.4 1412.0,602.3 1412.3,602.2 C1412.7,602.2 1413.0,601.9 1413.3,601.9 C1413.7,601.9 1414.0,602.5 1414.3,602.6 C1414.7,602.6 1415.0,602.6 1415.4,602.6 C1415.7,602.6 1416.0,602.3 1416.4,602.3 C1416.7,602.3 1417.1,602.4 1417.4,602.4 C1417.7,602.4 1418.1,602.1 1418.4,602.1 C1418.7,602.1 1419.1,602.7 1419.4,602.7 C1419.8,602.7 1420.1,602.6 1420.4,602.5 C1420.8,602.4 1421.1,602.0 1421.5,602.0 C1421.8,602.0 1422.1,602.5 1422.5,602.6 C1422.8,602.7 1423.1,602.7 1423.5,602.7 C1423.8,602.7 1424.2,602.2 1424.5,602.2 C1424.8,602.2 1425.2,602.7 1425.5,602.7 C1425.9,602.7 1426.2,602.4 1426.5,602.3 C1426.9,602.2 1427.2,602.0 1427.5,602.0 C1427.9,602.0 1428.2,602.5 1428.6,602.5 C1428.9,602.5 1429.2,602.2 1429.6,602.2 C1429.9,602.2 1430.3,602.5 1430.6,602.5 C1430.9,602.5 1431.3,602.5 1431.6,602.4 C1431.9,602.3 1432.3,601.9 1432.6,601.9 C1433.0,601.9 1433.3,602.2 1433.6,602.3 C1434.0,602.4 1434.3,602.6 1434.7,602.6 C1435.0,602.6 1435.3,602.3 1435.7,602.3 C1436.0,602.3 1436.3,602.3 1436.7,602.3 C1437.0,602.4 1437.4,602.6 1437.7,602.6 C1438.0,602.6 1438.4,602.3 1438.7,602.3 C1439.1,602.3 1439.4,602.3 1439.7,602.3 C1440.1,602.3 1440.4,602.3 1440.7,602.4 C1441.1,602.4 1441.4,602.6 1441.8,602.6 C1442.1,602.6 1442.4,602.1 1442.8,602.0 C1443.1,602.0 1443.4,601.9 1443.8,601.9 C1444.1,601.9 1444.5,602.5 1444.8,602.5 C1445.1,602.5 1445.5,602.4 1445.8,602.3 C1446.2,602.3 1446.5,602.1 1446.8,602.1 C1447.2,602.1 1447.5,602.7 1447.8,602.7 C1448.2,602.7 1448.5,602.7 1448.9,602.6 C1449.2,602.6 1449.5,602.3 1449.9,602.3 C1450.2,602.3 1450.6,602.7 1450.9,602.7 C1451.2,602.7 1451.6,602.6 1451.9,602.6 C1452.2,602.6 1452.6,602.6 1452.9,602.5 C1453.3,602.5 1453.6,602.2 1453.9,602.1 C1454.3,602.0 1454.6,601.9 1455.0,601.9 C1455.3,601.9 1455.6,602.4 1456.0,602.5 C1456.3,602.5 1456.6,602.5 1457.0,602.5 C1457.3,602.5 1457.7,602.2 1458.0,602.2 C1458.3,602.2 1458.7,602.2 1459.0,602.3 C1459.4,602.3 1459.7,602.4 1460.0,602.4 C1460.4,602.4 1460.7,602.1 1461.0,602.1 C1461.4,602.1 1461.7,602.5 1462.1,602.5 C1462.4,602.5 1462.7,602.4 1463.1,602.4 C1463.4,602.3 1463.8,602.3 1464.1,602.2 C1464.4,602.1 1464.8,601.9 1465.1,601.9 C1465.4,601.9 1465.8,602.3 1466.1,602.3 C1466.5,602.3 1466.8,602.1 1467.1,602.1 C1467.5,602.1 1467.8,602.5 1468.2,602.5 C1468.5,602.5 1468.8,602.0 1469.2,602.0 C1469.5,602.0 1469.8,602.2 1470.2,602.2 C1470.5,602.2 1470.9,602.0 1471.2,602.0 C1471.5,602.0 1471.9,602.2 1472.2,602.2 C1472.6,602.3 1472.9,602.4 1473.2,602.4 C1473.6,602.4 1473.9,602.0 1474.2,601.9 C1474.6,601.9 1474.9,601.9 1475.3,601.9 C1475.6,601.9 1475.9,602.3 1476.3,602.3 C1476.6,602.3 1476.9,602.0 1477.3,602.0 C1477.6,602.0 1478.0,602.3 1478.3,602.3 C1478.6,602.3 1479.0,602.0 1479.3,602.0 C1479.7,602.0 1480.0,601.9 1480.3,601.9 C1480.7,601.9 1481.0,602.2 1481.3,602.3 C1481.7,602.5 1482.0,602.7 1482.4,602.7 C1482.7,602.7 1483.0,602.7 1483.4,602.6 C1483.7,602.6 1484.1,602.4 1484.4,602.3 C1484.7,602.2 1485.1,602.3 1485.4,602.2 C1485.7,602.1 1486.1,601.9 1486.4,601.9 C1486.8,601.9 1487.1,602.1 1487.4,602.1 C1487.8,602.1 1488.1,602.1 1488.5,602.1 C1488.8,602.2 1489.1,602.7 1489.5,602.7 C1489.8,602.7 1490.1,602.0 1490.5,602.0 C1490.8,602.0 1491.2,602.7 1491.5,602.7 C1491.8,602.7 1492.2,602.3 1492.5,602.3 C1492.9,602.3 1493.2,602.3 1493.5,602.2 C1493.9,602.2 1494.2,602.1 1494.5,602.1 C1494.9,602.1 1495.2,602.7 1495.6,602.7 C1495.9,602.7 1496.2,602.0 1496.6,602.0 C1496.9,602.0 1497.3,602.4 1497.6,602.4 C1497.9,602.4 1498.3,602.3 1498.6,602.3 C1498.9,602.3 1499.3,602.0 1499.6,602.0 C1500.0,602.0 1500.3,602.0 1500.6,602.1 C1501.0,602.1 1501.3,602.7 1501.7,602.7 C1502.0,602.7 1502.3,602.6 1502.7,602.6 C1503.0,602.5 1503.3,602.5 1503.7,602.5 C1504.0,602.5 1504.4,602.7 1504.7,602.7 C1505.0,602.7 1505.4,601.9 1505.7,601.9 C1506.1,601.9 1506.4,602.5 1506.7,602.5 C1507.1,602.5 1507.4,602.5 1507.7,602.5 C1508.1,602.5 1508.4,602.1 1508.8,602.1 C1509.1,602.1 1509.4,602.1 1509.8,602.3 C1510.1,602.4 1510.4,602.7 1510.8,602.7 C1511.1,602.7 1511.5,602.1 1511.8,602.1 C1512.1,602.1 1512.5,602.5 1512.8,602.5 C1513.2,602.5 1513.5,602.0 1513.8,602.0 C1514.2,602.0 1514.5,602.5 1514.8,602.5 C1515.2,602.5 1515.5,602.1 1515.9,602.1 C1516.2,602.1 1516.5,602.3 1516.9,602.3 C1517.2,602.3 1517.6,602.2 1517.9,602.2 C1518.2,602.2 1518.6,602.6 1518.9,602.6 C1519.2,602.6 1519.6,602.6 1519.9,602.5 C1520.3,602.5 1520.6,602.3 1520.9,602.3 C1521.3,602.3 1521.6,602.5 1522.0,602.5 C1522.3,602.5 1522.6,602.2 1523.0,602.2 C1523.3,602.2 1523.6,602.6 1524.0,602.6 C1524.3,602.6 1524.7,602.1 1525.0,602.1 C1525.3,602.1 1525.7,602.3 1526.0,602.3 C1526.4,602.4 1526.7,602.4 1527.0,602.4 C1527.4,602.4 1527.7,602.3 1528.0,602.2 C1528.4,602.1 1528.7,601.9 1529.1,601.9 C1529.4,601.9 1529.7,601.9 1530.1,602.0 C1530.4,602.1 1530.8,602.4 1531.1,602.4 C1531.4,602.4 1531.8,602.0 1532.1,602.0 C1532.4,602.0 1532.8,602.5 1533.1,602.5 C1533.5,602.5 1533.8,602.3 1534.1,602.3 C1534.5,602.3 1534.8,602.7 1535.2,602.7 C1535.5,602.7 1535.8,602.6 1536.2,602.6 C1536.5,602.6 1536.8,602.6 1537.2,602.5 C1537.5,602.4 1537.9,602.3 1538.2,602.2 C1538.5,602.1 1538.9,601.9 1539.2,601.9 C1539.6,601.9 1539.9,602.2 1540.2,602.4 C1540.6,602.5 1540.9,602.5 1541.2,602.5 C1541.6,602.6 1541.9,602.7 1542.3,602.7 C1542.6,602.7 1542.9,602.1 1543.3,602.0 C1543.6,602.0 1543.9,602.0 1544.3,602.0 C1544.6,602.0 1545.0,602.7 1545.3,602.7 C1545.6,602.7 1546.0,602.6 1546.3,602.5 C1546.7,602.4 1547.0,602.3 1547.3,602.3 C1547.7,602.3 1548.0,602.5 1548.3,602.5 C1548.7,602.5 1549.0,602.0 1549.4,602.0 C1549.7,602.0 1550.0,602.3 1550.4,602.3 C1550.7,602.4 1551.1,602.5 1551.4,602.5 C1551.7,602.5 1552.1,602.4 1552.4,602.4 C1552.7,602.4 1553.1,602.0 1553.4,602.0 C1553.8,602.0 1554.1,602.0 1554.4,602.0 C1554.8,602.0 1555.1,602.3 1555.5,602.4 C1555.8,602.5 1556.1,602.6 1556.5,602.6 C1556.8,602.6 1557.1,602.1 1557.5,602.0 C1557.8,601.9 1558.2,601.9 1558.5,601.9 C1558.8,601.9 1559.2,601.9 1559.5,601.9 C1559.9,602.0 1560.2,602.6 1560.5,602.6 C1560.9,602.6 1561.2,602.2 1561.5,602.2 C1561.9,602.2 1562.2,602.2 1562.6,602.3 C1562.9,602.3 1563.2,602.7 1563.6,602.7 C1563.9,602.7 1564.3,602.5 1564.6,602.4 C1564.9,602.3 1565.3,602.1 1565.6,602.1 C1565.9,602.1 1566.3,602.5 1566.6,602.5 C1567.0,602.5 1567.3,601.9 1567.6,601.9 C1568.0,601.9 1568.3,602.0 1568.7,602.1 C1569.0,602.2 1569.3,602.5 1569.7,602.5 C1570.0,602.5 1570.3,602.1 1570.7,602.0 C1571.0,601.9 1571.4,601.9 1571.7,601.9 C1572.0,601.9 1572.4,602.3 1572.7,602.3 C1573.1,602.3 1573.4,602.1 1573.7,602.1 C1574.1,602.1 1574.4,602.7 1574.7,602.7 C1575.1,602.7 1575.4,601.9 1575.8,601.9 C1576.1,601.9 1576.4,602.6 1576.8,602.6 C1577.1,602.6 1577.4,602.2 1577.8,602.2 C1578.1,602.2 1578.5,602.6 1578.8,602.6 C1579.1,602.6 1579.5,602.3 1579.8,602.3 C1580.2,602.3 1580.5,602.5 1580.8,602.5 C1581.2,602.5 1581.5,602.2 1581.8,602.1 C1582.2,602.1 1582.5,602.1 1582.9,602.1 C1583.2,602.1 1583.5,602.2 1583.9,602.3 C1584.2,602.3 1584.6,602.6 1584.9,602.6 C1585.2,602.6 1585.6,602.2 1585.9,602.2 C1586.2,602.1 1586.6,602.1 1586.9,602.1 C1587.3,602.1 1587.6,602.2 1587.9,602.2 C1588.3,602.2 1588.6,601.9 1589.0,601.9 C1589.3,601.9 1589.6,602.1 1590.0,602.1 C1590.3,602.2 1590.6,602.4 1591.0,602.4 C1591.3,602.4 1591.7,602.3 1592.0,602.3 C1592.3,602.3 1592.7,602.4 1593.0,602.4 C1593.4,602.4 1593.7,602.2 1594.0,602.1 C1594.4,602.0 1594.7,601.9 1595.0,601.9 C1595.4,601.9 1595.7,601.9 1596.1,601.9 C1596.4,601.9 1596.7,602.2 1597.1,602.2 C1597.4,602.2 1597.8,602.0 1598.1,602.0 C1598.4,602.0 1598.8,602.4 1599.1,602.4 C1599.4,602.4 1599.8,602.1 1600.1,602.1 C1600.5,602.1 1600.8,602.5 1601.1,602.5 C1601.5,602.5 1601.8,602.4 1602.2,602.4 C1602.5,602.4 1602.8,602.4 1603.2,602.4 C1603.5,602.5 1603.8,602.5 1604.2,602.5 C1604.5,602.5 1604.9,602.4 1605.2,602.3 C1605.5,602.3 1605.9,602.3 1606.2,602.2 C1606.6,602.2 1606.9,602.2 1607.2,602.1 C1607.6,602.1 1607.9,601.9 1608.2,601.9 C1608.6,601.9 1608.9,602.6 1609.3,602.6 C1609.6,602.6 1609.9,602.4 1610.3,602.3 C1610.6,602.2 1610.9,601.9 1611.3,601.9 C1611.6,601.9 1612.0,602.7 1612.3,602.7 C1612.6,602.7 1613.0,602.4 1613.3,602.4 C1613.7,602.4 1614.0,602.4 1614.3,602.4 C1614.7,602.4 1615.0,602.3 1615.3,602.2 C1615.7,602.2 1616.0,602.0 1616.4,602.0 C1616.7,602.0 1617.0,602.7 1617.4,602.7 C1617.7,602.7 1618.1,602.0 1618.4,602.0 C1618.7,602.0 1619.1,602.1 1619.4,602.2 C1619.7,602.3 1620.1,602.7 1620.4,602.7 C1620.8,602.7 1621.1,602.0 1621.4,602.0 C1621.8,602.0 1622.1,602.3 1622.5,602.3 C1622.8,602.3 1623.1,602.3 1623.5,602.3 C1623.8,602.3 1624.1,602.1 1624.5,602.1 C1624.8,602.1 1625.2,602.7 1625.5,602.7 C1625.8,602.7 1626.2,602.4 1626.5,602.2 C1626.9,602.1 1627.2,601.9 1627.5,601.9 C1627.9,601.9 1628.2,602.3 1628.5,602.3 C1628.9,602.3 1629.2,601.9 1629.6,601.9 C1629.9,601.9 1630.2,602.4 1630.6,602.5 C1630.9,602.6 1631.3,602.6 1631.6,602.6 C1631.9,602.7 1632.3,602.7 1632.6,602.7 C1632.9,602.7 1633.3,601.9 1633.6,601.9 C1634.0,601.9 1634.3,602.5 1634.6,602.5 C1635.0,602.5 1635.3,602.1 1635.7,602.1 C1636.0,602.1 1636.3,602.3 1636.7,602.3 C1637.0,602.3 1637.3,602.1 1637.7,602.1 C1638.0,602.1 1638.4,602.1 1638.7,602.1 C1639.0,602.1 1639.4,602.0 1639.7,602.0 C1640.1,602.0 1640.4,602.4 1640.7,602.4 C1641.1,602.4 1641.4,601.9 1641.7,601.9 C1642.1,601.9 1642.4,602.7 1642.8,602.7 C1643.1,602.7 1643.4,601.9 1643.8,601.9 C1644.1,601.9 1644.4,602.7 1644.8,602.7 C1645.1,602.7 1645.5,602.1 1645.8,602.0 C1646.1,602.0 1646.5,601.9 1646.8,601.9 C1647.2,601.9 1647.5,602.5 1647.8,602.5 C1648.2,602.5 1648.5,602.3 1648.8,602.3 C1649.2,602.3 1649.5,602.5 1649.9,602.5 C1650.2,602.5 1650.5,602.3 1650.9,602.3 C1651.2,602.3 1651.6,602.4 1651.9,602.4 C1652.2,602.4 1652.6,601.9 1652.9,601.9 C1653.2,601.9 1653.6,602.5 1653.9,602.5 C1654.3,602.5 1654.6,602.3 1654.9,602.3 C1655.3,602.3 1655.6,602.7 1656.0,602.7 C1656.3,602.7 1656.6,601.9 1657.0,601.9 C1657.3,601.9 1657.6,601.9 1658.0,601.9 C1658.3,601.9 1658.7,602.2 1659.0,602.5" fill="none" stroke="#38bdf8" stroke-width="2.67" stroke-linejoin="round"/>
<line x1="198.20" y1="343.6" x2="198.20" y2="604.8" stroke="#5f5e60" stroke-width="1.6"/>
<line x1="198.20" y1="604.8" x2="1659.00" y2="604.8" stroke="#5f5e60" stroke-width="1.6"/>
<line x1="190.20" y1="604.80" x2="198.20" y2="604.80" stroke="#5f5e60" stroke-width="1.6"/>
<line x1="190.20" y1="539.50" x2="198.20" y2="539.50" stroke="#5f5e60" stroke-width="1.6"/>
<line x1="190.20" y1="474.20" x2="198.20" y2="474.20" stroke="#5f5e60" stroke-width="1.6"/>
<line x1="190.20" y1="408.90" x2="198.20" y2="408.90" stroke="#5f5e60" stroke-width="1.6"/>
<line x1="190.20" y1="343.60" x2="198.20" y2="343.60" stroke="#5f5e60" stroke-width="1.6"/>
<line x1="279.00" y1="604.8" x2="279.00" y2="612.80" stroke="#5f5e60" stroke-width="1.6"/>
<line x1="445.50" y1="604.8" x2="445.50" y2="612.80" stroke="#5f5e60" stroke-width="1.6"/>
<line x1="614.20" y1="604.8" x2="614.20" y2="612.80" stroke="#5f5e60" stroke-width="1.6"/>
<line x1="780.30" y1="604.8" x2="780.30" y2="612.80" stroke="#5f5e60" stroke-width="1.6"/>
<line x1="947.80" y1="604.8" x2="947.80" y2="612.80" stroke="#5f5e60" stroke-width="1.6"/>
<line x1="1119.70" y1="604.8" x2="1119.70" y2="612.80" stroke="#5f5e60" stroke-width="1.6"/>
<line x1="1288.20" y1="604.8" x2="1288.20" y2="612.80" stroke="#5f5e60" stroke-width="1.6"/>
<line x1="1452.60" y1="604.8" x2="1452.60" y2="612.80" stroke="#5f5e60" stroke-width="1.6"/>
<line x1="1658.80" y1="604.8" x2="1658.80" y2="612.80" stroke="#5f5e60" stroke-width="1.6"/>
<text x="184.8" y="611.00" font-size="17.0" fill="#c8cdea" text-anchor="end">0.0%</text>
<text x="184.8" y="545.70" font-size="17.0" fill="#c8cdea" text-anchor="end">25.0%</text>
<text x="184.8" y="480.40" font-size="17.0" fill="#c8cdea" text-anchor="end">50.0%</text>
<text x="184.8" y="415.10" font-size="17.0" fill="#c8cdea" text-anchor="end">75.0%</text>
<text x="184.8" y="349.80" font-size="17.0" fill="#c8cdea" text-anchor="end">100.0%</text>
<text x="279.00" y="629.0" font-size="17.0" fill="#c8cdea" text-anchor="middle">Dec 1, 8:37 PM</text>
<text x="445.50" y="629.0" font-size="17.0" fill="#c8cdea" text-anchor="middle">Dec 1, 11:21 PM</text>
<text x="614.20" y="629.0" font-size="17.0" fill="#c8cdea" text-anchor="middle">Dec 2, 2:07 AM</text>
<text x="780.30" y="629.0" font-size="17.0" fill="#c8cdea" text-anchor="middle">Dec 2, 4:51 AM</text>
<text x="947.80" y="629.0" font-size="17.0" fill="#c8cdea" text-anchor="middle">Dec 2, 7:36 AM</text>
<text x="1119.70" y="629.0" font-size="17.0" fill="#c8cdea" text-anchor="middle">Dec 2, 10:25 AM</text>
<text x="1288.20" y="629.0" font-size="17.0" fill="#c8cdea" text-anchor="middle">Dec 2, 1:11 PM</text>
<text x="1452.60" y="629.0" font-size="17.0" fill="#c8cdea" text-anchor="middle">Dec 2, 3:53 PM</text>
<text x="1676.8" y="629.0" font-size="17.0" fill="#c8cdea" text-anchor="end">Dec 2, 7:16 PM</text>
<line x1="1869.0" y1="604.80" x2="3314.6" y2="604.80" stroke="#41424b" stroke-width="1.33" stroke-dasharray="4.5 4.5"/>
<line x1="1869.0" y1="539.50" x2="3314.6" y2="539.50" stroke="#41424b" stroke-width="1.33" stroke-dasharray="4.5 4.5"/>
<line x1="1869.0" y1="474.20" x2="3314.6" y2="474.20" stroke="#41424b" stroke-width="1.33" stroke-dasharray="4.5 4.5"/>
<line x1="1869.0" y1="408.90" x2="3314.6" y2="408.90" stroke="#41424b" stroke-width="1.33" stroke-dasharray="4.5 4.5"/>
<line x1="1869.0" y1="343.60" x2="3314.6" y2="343.60" stroke="#41424b" stroke-width="1.33" stroke-dasharray="4.5 4.5"/>
<line x1="2019.80" y1="343.6" x2="2019.80" y2="604.8" stroke="#41424b" stroke-width="1.33" stroke-dasharray="4.5 4.5"/>
<line x1="2200.40" y1="343.6" x2="2200.40" y2="604.8" stroke="#41424b" stroke-width="1.33" stroke-dasharray="4.5 4.5"/>
<line x1="2381.10" y1="343.6" x2="2381.10" y2="604.8" stroke="#41424b" stroke-width="1.33" stroke-dasharray="4.5 4.5"/>
<line x1="2561.80" y1="343.6" x2="2561.80" y2="604.8" stroke="#41424b" stroke-width="1.33" stroke-dasharray="4.5 4.5"/>
<line x1="2742.40" y1="343.6" x2="2742.40" y2="604.8" stroke="#41424b" stroke-width="1.33" stroke-dasharray="4.5 4.5"/>
<line x1="2923.10" y1="343.6" x2="2923.10" y2="604.8" stroke="#41424b" stroke-width="1.33" stroke-dasharray="4.5 4.5"/>
<line x1="3103.80" y1="343.6" x2="3103.80" y2="604.8" stroke="#41424b" stroke-width="1.33" stroke-dasharray="4.5 4.5"/>
<line x1="3314.60" y1="343.6" x2="3314.60" y2="604.8" stroke="#41424b" stroke-width="1.33" stroke-dasharray="4.5 4.5"/>
<path d="M1869.00,426.50 C1879.04,428.30 1889.08,430.10 1899.12,430.10 C1909.16,430.10 1919.19,426.67 1929.23,424.90 C1939.27,423.13 1949.31,419.50 1959.35,419.50 C1969.39,419.50 1979.43,421.47 1989.47,421.80 C1999.51,422.13 2009.54,422.30 2019.58,422.30 C2029.62,422.30 2039.66,418.30 2049.70,418.30 C2059.74,418.30 2069.78,420.90 2079.82,421.80 C2089.86,422.70 2099.89,423.70 2109.93,423.70 C2119.97,423.70 2130.01,419.20 2140.05,419.20 C2150.09,419.20 2160.13,421.98 2170.17,423.40 C2180.21,424.82 2190.24,427.70 2200.28,427.70 C2210.32,427.70 2220.36,419.27 2230.40,418.00 C2240.44,416.73 2250.48,416.10 2260.52,416.10 C2270.56,416.10 2280.59,422.00 2290.63,422.00 C2300.67,422.00 2310.71,420.97 2320.75,419.20 C2330.79,417.43 2340.83,413.53 2350.87,411.40 C2360.91,409.27 2370.94,406.40 2380.98,406.40 C2391.02,406.40 2401.06,412.42 2411.10,414.50 C2421.14,416.58 2431.18,418.90 2441.22,418.90 C2451.26,418.90 2461.29,417.10 2471.33,417.10 C2481.37,417.10 2491.41,418.63 2501.45,419.50 C2511.49,420.37 2521.53,421.83 2531.57,422.30 C2541.61,422.77 2551.64,422.53 2561.68,423.00 C2571.72,423.47 2581.76,430.00 2591.80,430.00 C2601.84,430.00 2611.88,422.57 2621.92,419.90 C2631.96,417.23 2641.99,415.78 2652.03,414.00 C2662.07,412.22 2672.11,409.20 2682.15,409.20 C2692.19,409.20 2702.23,411.08 2712.27,412.30 C2722.31,413.52 2732.34,416.50 2742.38,416.50 C2752.42,416.50 2762.46,393.20 2772.50,393.20 C2782.54,393.20 2792.58,409.97 2802.62,412.90 C2812.66,415.83 2822.69,415.40 2832.73,417.30 C2842.77,419.20 2852.81,424.30 2862.85,424.30 C2872.89,424.30 2882.93,423.20 2892.97,423.20 C2903.01,423.20 2913.04,426.60 2923.08,426.60 C2933.12,426.60 2943.16,414.50 2953.20,414.50 C2963.24,414.50 2973.28,425.97 2983.32,426.10 C2993.36,426.23 3003.39,426.17 3013.43,426.30 C3023.47,426.43 3033.51,432.30 3043.55,432.30 C3053.59,432.30 3063.63,431.97 3073.67,431.30 C3083.71,430.63 3093.74,423.30 3103.78,423.30 C3113.82,423.30 3123.86,427.15 3133.90,428.80 C3143.94,430.45 3153.98,433.20 3164.02,433.20 C3174.06,433.20 3184.09,433.20 3194.13,433.20 C3204.17,433.20 3214.21,435.73 3224.25,436.90 C3234.29,438.07 3244.33,440.20 3254.37,440.20 C3264.41,440.20 3274.44,437.40 3284.48,435.20 C3294.52,433.00 3304.56,430.00 3314.60,427.00 L3314.6,604.8 L1869.0,604.8 Z" fill="url(#gOut)"/>
<path d="M1869.00,535.70 C1889.53,536.34 1910.07,536.98 1930.60,537.40 C1960.07,538.00 1989.53,538.30 2019.00,538.30 C2028.53,538.30 2038.07,536.30 2047.60,536.30 C2072.33,536.30 2097.07,537.40 2121.80,537.40 C2147.87,537.40 2173.93,537.10 2200.00,536.50 C2210.07,536.27 2220.13,535.10 2230.20,535.10 C2250.13,535.10 2270.07,537.70 2290.00,537.70 C2310.00,537.70 2330.00,536.50 2350.00,536.50 C2360.47,536.50 2370.93,537.40 2381.40,537.40 C2391.87,537.40 2402.33,536.62 2412.80,535.70 C2422.30,534.86 2431.80,532.30 2441.30,532.30 C2458.43,532.30 2475.57,532.40 2492.70,532.60 C2506.00,532.76 2519.30,532.87 2532.60,533.40 C2542.13,533.78 2551.67,536.00 2561.20,536.00 C2582.20,536.00 2603.20,535.10 2624.20,535.10 C2631.80,535.10 2639.40,537.40 2647.00,537.40 C2658.43,537.40 2669.87,536.30 2681.30,536.30 C2701.73,536.30 2722.17,536.82 2742.60,537.10 C2763.07,537.38 2783.53,538.00 2804.00,538.00 C2813.50,538.00 2823.00,535.40 2832.50,535.40 C2842.00,535.40 2851.50,537.40 2861.00,537.40 C2881.93,537.40 2902.87,537.40 2923.80,537.40 C2933.30,537.40 2942.80,535.10 2952.30,535.10 C2966.53,535.10 2980.77,537.10 2995.00,537.10 C3020.73,537.10 3046.47,536.30 3072.20,536.30 C3082.63,536.30 3093.07,537.33 3103.50,537.40 C3160.57,537.80 3217.63,538.00 3274.70,538.00 C3288.00,538.00 3301.30,536.85 3314.60,535.70 L3314.6,604.8 L1869.0,604.8 Z" fill="url(#gIn)"/>
<path d="M1869.00,426.50 C1879.04,428.30 1889.08,430.10 1899.12,430.10 C1909.16,430.10 1919.19,426.67 1929.23,424.90 C1939.27,423.13 1949.31,419.50 1959.35,419.50 C1969.39,419.50 1979.43,421.47 1989.47,421.80 C1999.51,422.13 2009.54,422.30 2019.58,422.30 C2029.62,422.30 2039.66,418.30 2049.70,418.30 C2059.74,418.30 2069.78,420.90 2079.82,421.80 C2089.86,422.70 2099.89,423.70 2109.93,423.70 C2119.97,423.70 2130.01,419.20 2140.05,419.20 C2150.09,419.20 2160.13,421.98 2170.17,423.40 C2180.21,424.82 2190.24,427.70 2200.28,427.70 C2210.32,427.70 2220.36,419.27 2230.40,418.00 C2240.44,416.73 2250.48,416.10 2260.52,416.10 C2270.56,416.10 2280.59,422.00 2290.63,422.00 C2300.67,422.00 2310.71,420.97 2320.75,419.20 C2330.79,417.43 2340.83,413.53 2350.87,411.40 C2360.91,409.27 2370.94,406.40 2380.98,406.40 C2391.02,406.40 2401.06,412.42 2411.10,414.50 C2421.14,416.58 2431.18,418.90 2441.22,418.90 C2451.26,418.90 2461.29,417.10 2471.33,417.10 C2481.37,417.10 2491.41,418.63 2501.45,419.50 C2511.49,420.37 2521.53,421.83 2531.57,422.30 C2541.61,422.77 2551.64,422.53 2561.68,423.00 C2571.72,423.47 2581.76,430.00 2591.80,430.00 C2601.84,430.00 2611.88,422.57 2621.92,419.90 C2631.96,417.23 2641.99,415.78 2652.03,414.00 C2662.07,412.22 2672.11,409.20 2682.15,409.20 C2692.19,409.20 2702.23,411.08 2712.27,412.30 C2722.31,413.52 2732.34,416.50 2742.38,416.50 C2752.42,416.50 2762.46,393.20 2772.50,393.20 C2782.54,393.20 2792.58,409.97 2802.62,412.90 C2812.66,415.83 2822.69,415.40 2832.73,417.30 C2842.77,419.20 2852.81,424.30 2862.85,424.30 C2872.89,424.30 2882.93,423.20 2892.97,423.20 C2903.01,423.20 2913.04,426.60 2923.08,426.60 C2933.12,426.60 2943.16,414.50 2953.20,414.50 C2963.24,414.50 2973.28,425.97 2983.32,426.10 C2993.36,426.23 3003.39,426.17 3013.43,426.30 C3023.47,426.43 3033.51,432.30 3043.55,432.30 C3053.59,432.30 3063.63,431.97 3073.67,431.30 C3083.71,430.63 3093.74,423.30 3103.78,423.30 C3113.82,423.30 3123.86,427.15 3133.90,428.80 C3143.94,430.45 3153.98,433.20 3164.02,433.20 C3174.06,433.20 3184.09,433.20 3194.13,433.20 C3204.17,433.20 3214.21,435.73 3224.25,436.90 C3234.29,438.07 3244.33,440.20 3254.37,440.20 C3264.41,440.20 3274.44,437.40 3284.48,435.20 C3294.52,433.00 3304.56,430.00 3314.60,427.00" fill="none" stroke="#34d399" stroke-width="2.67"/>
<path d="M1869.00,535.70 C1889.53,536.34 1910.07,536.98 1930.60,537.40 C1960.07,538.00 1989.53,538.30 2019.00,538.30 C2028.53,538.30 2038.07,536.30 2047.60,536.30 C2072.33,536.30 2097.07,537.40 2121.80,537.40 C2147.87,537.40 2173.93,537.10 2200.00,536.50 C2210.07,536.27 2220.13,535.10 2230.20,535.10 C2250.13,535.10 2270.07,537.70 2290.00,537.70 C2310.00,537.70 2330.00,536.50 2350.00,536.50 C2360.47,536.50 2370.93,537.40 2381.40,537.40 C2391.87,537.40 2402.33,536.62 2412.80,535.70 C2422.30,534.86 2431.80,532.30 2441.30,532.30 C2458.43,532.30 2475.57,532.40 2492.70,532.60 C2506.00,532.76 2519.30,532.87 2532.60,533.40 C2542.13,533.78 2551.67,536.00 2561.20,536.00 C2582.20,536.00 2603.20,535.10 2624.20,535.10 C2631.80,535.10 2639.40,537.40 2647.00,537.40 C2658.43,537.40 2669.87,536.30 2681.30,536.30 C2701.73,536.30 2722.17,536.82 2742.60,537.10 C2763.07,537.38 2783.53,538.00 2804.00,538.00 C2813.50,538.00 2823.00,535.40 2832.50,535.40 C2842.00,535.40 2851.50,537.40 2861.00,537.40 C2881.93,537.40 2902.87,537.40 2923.80,537.40 C2933.30,537.40 2942.80,535.10 2952.30,535.10 C2966.53,535.10 2980.77,537.10 2995.00,537.10 C3020.73,537.10 3046.47,536.30 3072.20,536.30 C3082.63,536.30 3093.07,537.33 3103.50,537.40 C3160.57,537.80 3217.63,538.00 3274.70,538.00 C3288.00,538.00 3301.30,536.85 3314.60,535.70" fill="none" stroke="#60a5fa" stroke-width="2.67"/>
<line x1="1869.00" y1="343.6" x2="1869.00" y2="604.8" stroke="#5f5e60" stroke-width="1.6"/>
<line x1="1869.00" y1="604.8" x2="3314.60" y2="604.8" stroke="#5f5e60" stroke-width="1.6"/>
<line x1="1861.00" y1="604.80" x2="1869.00" y2="604.80" stroke="#5f5e60" stroke-width="1.6"/>
<line x1="1861.00" y1="539.50" x2="1869.00" y2="539.50" stroke="#5f5e60" stroke-width="1.6"/>
<line x1="1861.00" y1="474.20" x2="1869.00" y2="474.20" stroke="#5f5e60" stroke-width="1.6"/>
<line x1="1861.00" y1="408.90" x2="1869.00" y2="408.90" stroke="#5f5e60" stroke-width="1.6"/>
<line x1="1861.00" y1="343.60" x2="1869.00" y2="343.60" stroke="#5f5e60" stroke-width="1.6"/>
<line x1="2019.80" y1="604.8" x2="2019.80" y2="612.80" stroke="#5f5e60" stroke-width="1.6"/>
<line x1="2200.40" y1="604.8" x2="2200.40" y2="612.80" stroke="#5f5e60" stroke-width="1.6"/>
<line x1="2381.10" y1="604.8" x2="2381.10" y2="612.80" stroke="#5f5e60" stroke-width="1.6"/>
<line x1="2561.80" y1="604.8" x2="2561.80" y2="612.80" stroke="#5f5e60" stroke-width="1.6"/>
<line x1="2742.40" y1="604.8" x2="2742.40" y2="612.80" stroke="#5f5e60" stroke-width="1.6"/>
<line x1="2923.10" y1="604.8" x2="2923.10" y2="612.80" stroke="#5f5e60" stroke-width="1.6"/>
<line x1="3103.80" y1="604.8" x2="3103.80" y2="612.80" stroke="#5f5e60" stroke-width="1.6"/>
<line x1="3314.60" y1="604.8" x2="3314.60" y2="612.80" stroke="#5f5e60" stroke-width="1.6"/>
<text x="1857.0" y="603.00" font-size="17.0" fill="#c8cdea" text-anchor="end">0.00</text>
<text x="1857.0" y="619.20" font-size="17.0" fill="#c8cdea" text-anchor="end">Mbps</text>
<text x="1857.0" y="545.70" font-size="17.0" fill="#c8cdea" text-anchor="end">0.01 Mbps</text>
<text x="1857.0" y="472.40" font-size="17.0" fill="#c8cdea" text-anchor="end">0.03</text>
<text x="1857.0" y="488.60" font-size="17.0" fill="#c8cdea" text-anchor="end">Mbps</text>
<text x="1857.0" y="407.10" font-size="17.0" fill="#c8cdea" text-anchor="end">0.04</text>
<text x="1857.0" y="423.30" font-size="17.0" fill="#c8cdea" text-anchor="end">Mbps</text>
<text x="1857.0" y="341.80" font-size="17.0" fill="#c8cdea" text-anchor="end">0.06</text>
<text x="1857.0" y="358.00" font-size="17.0" fill="#c8cdea" text-anchor="end">Mbps</text>
<text x="2019.80" y="629.0" font-size="17.0" fill="#c8cdea" text-anchor="middle">Dec 1, 9:30 PM</text>
<text x="2200.40" y="629.0" font-size="17.0" fill="#c8cdea" text-anchor="middle">Dec 2, 12:30 AM</text>
<text x="2381.10" y="629.0" font-size="17.0" fill="#c8cdea" text-anchor="middle">Dec 2, 3:30 AM</text>
<text x="2561.80" y="629.0" font-size="17.0" fill="#c8cdea" text-anchor="middle">Dec 2, 6:30 AM</text>
<text x="2742.40" y="629.0" font-size="17.0" fill="#c8cdea" text-anchor="middle">Dec 2, 9:30 AM</text>
<text x="2923.10" y="629.0" font-size="17.0" fill="#c8cdea" text-anchor="middle">Dec 2, 12:30 PM</text>
<text x="3103.80" y="629.0" font-size="17.0" fill="#c8cdea" text-anchor="middle">Dec 2, 3:30 PM</text>
<text x="3332.3" y="629.0" font-size="17.0" fill="#c8cdea" text-anchor="end">Dec 2, 7:00 PM</text>
</svg>
<div style="position:absolute;left:77.30px;top:705.00px;width:3286.50px;height:115.90px;box-sizing:border-box;background:#16161a;border:1.5px solid #2e2f34;border-radius:24px;"></div>
<div style="position:absolute;left:108.50px;top:738.72px;font-size:18.4px;line-height:1;font-weight:400;color:#8f8f97;white-space:pre;">SAMPLES ANALYSED</div>
<div style="position:absolute;left:108.50px;top:763.55px;font-size:21.8px;line-height:1;font-weight:700;color:#f7f7f8;white-space:pre;">1440 metrics · 336 bandwidth</div>
<div style="position:absolute;left:1190.00px;top:738.72px;font-size:18.4px;line-height:1;font-weight:400;color:#8f8f97;white-space:pre;">CURRENT TIMEFRAME</div>
<div style="position:absolute;left:1190.00px;top:763.55px;font-size:21.8px;line-height:1;font-weight:700;color:#f7f7f8;white-space:pre;">1d</div>
<div style="position:absolute;left:2270.30px;top:738.72px;font-size:18.4px;line-height:1;font-weight:400;color:#8f8f97;white-space:pre;">BANDWIDTH WINDOW</div>
<div style="position:absolute;left:2270.30px;top:763.55px;font-size:21.8px;line-height:1;font-weight:700;color:#f7f7f8;white-space:pre;">1d</div>
</body></html>
